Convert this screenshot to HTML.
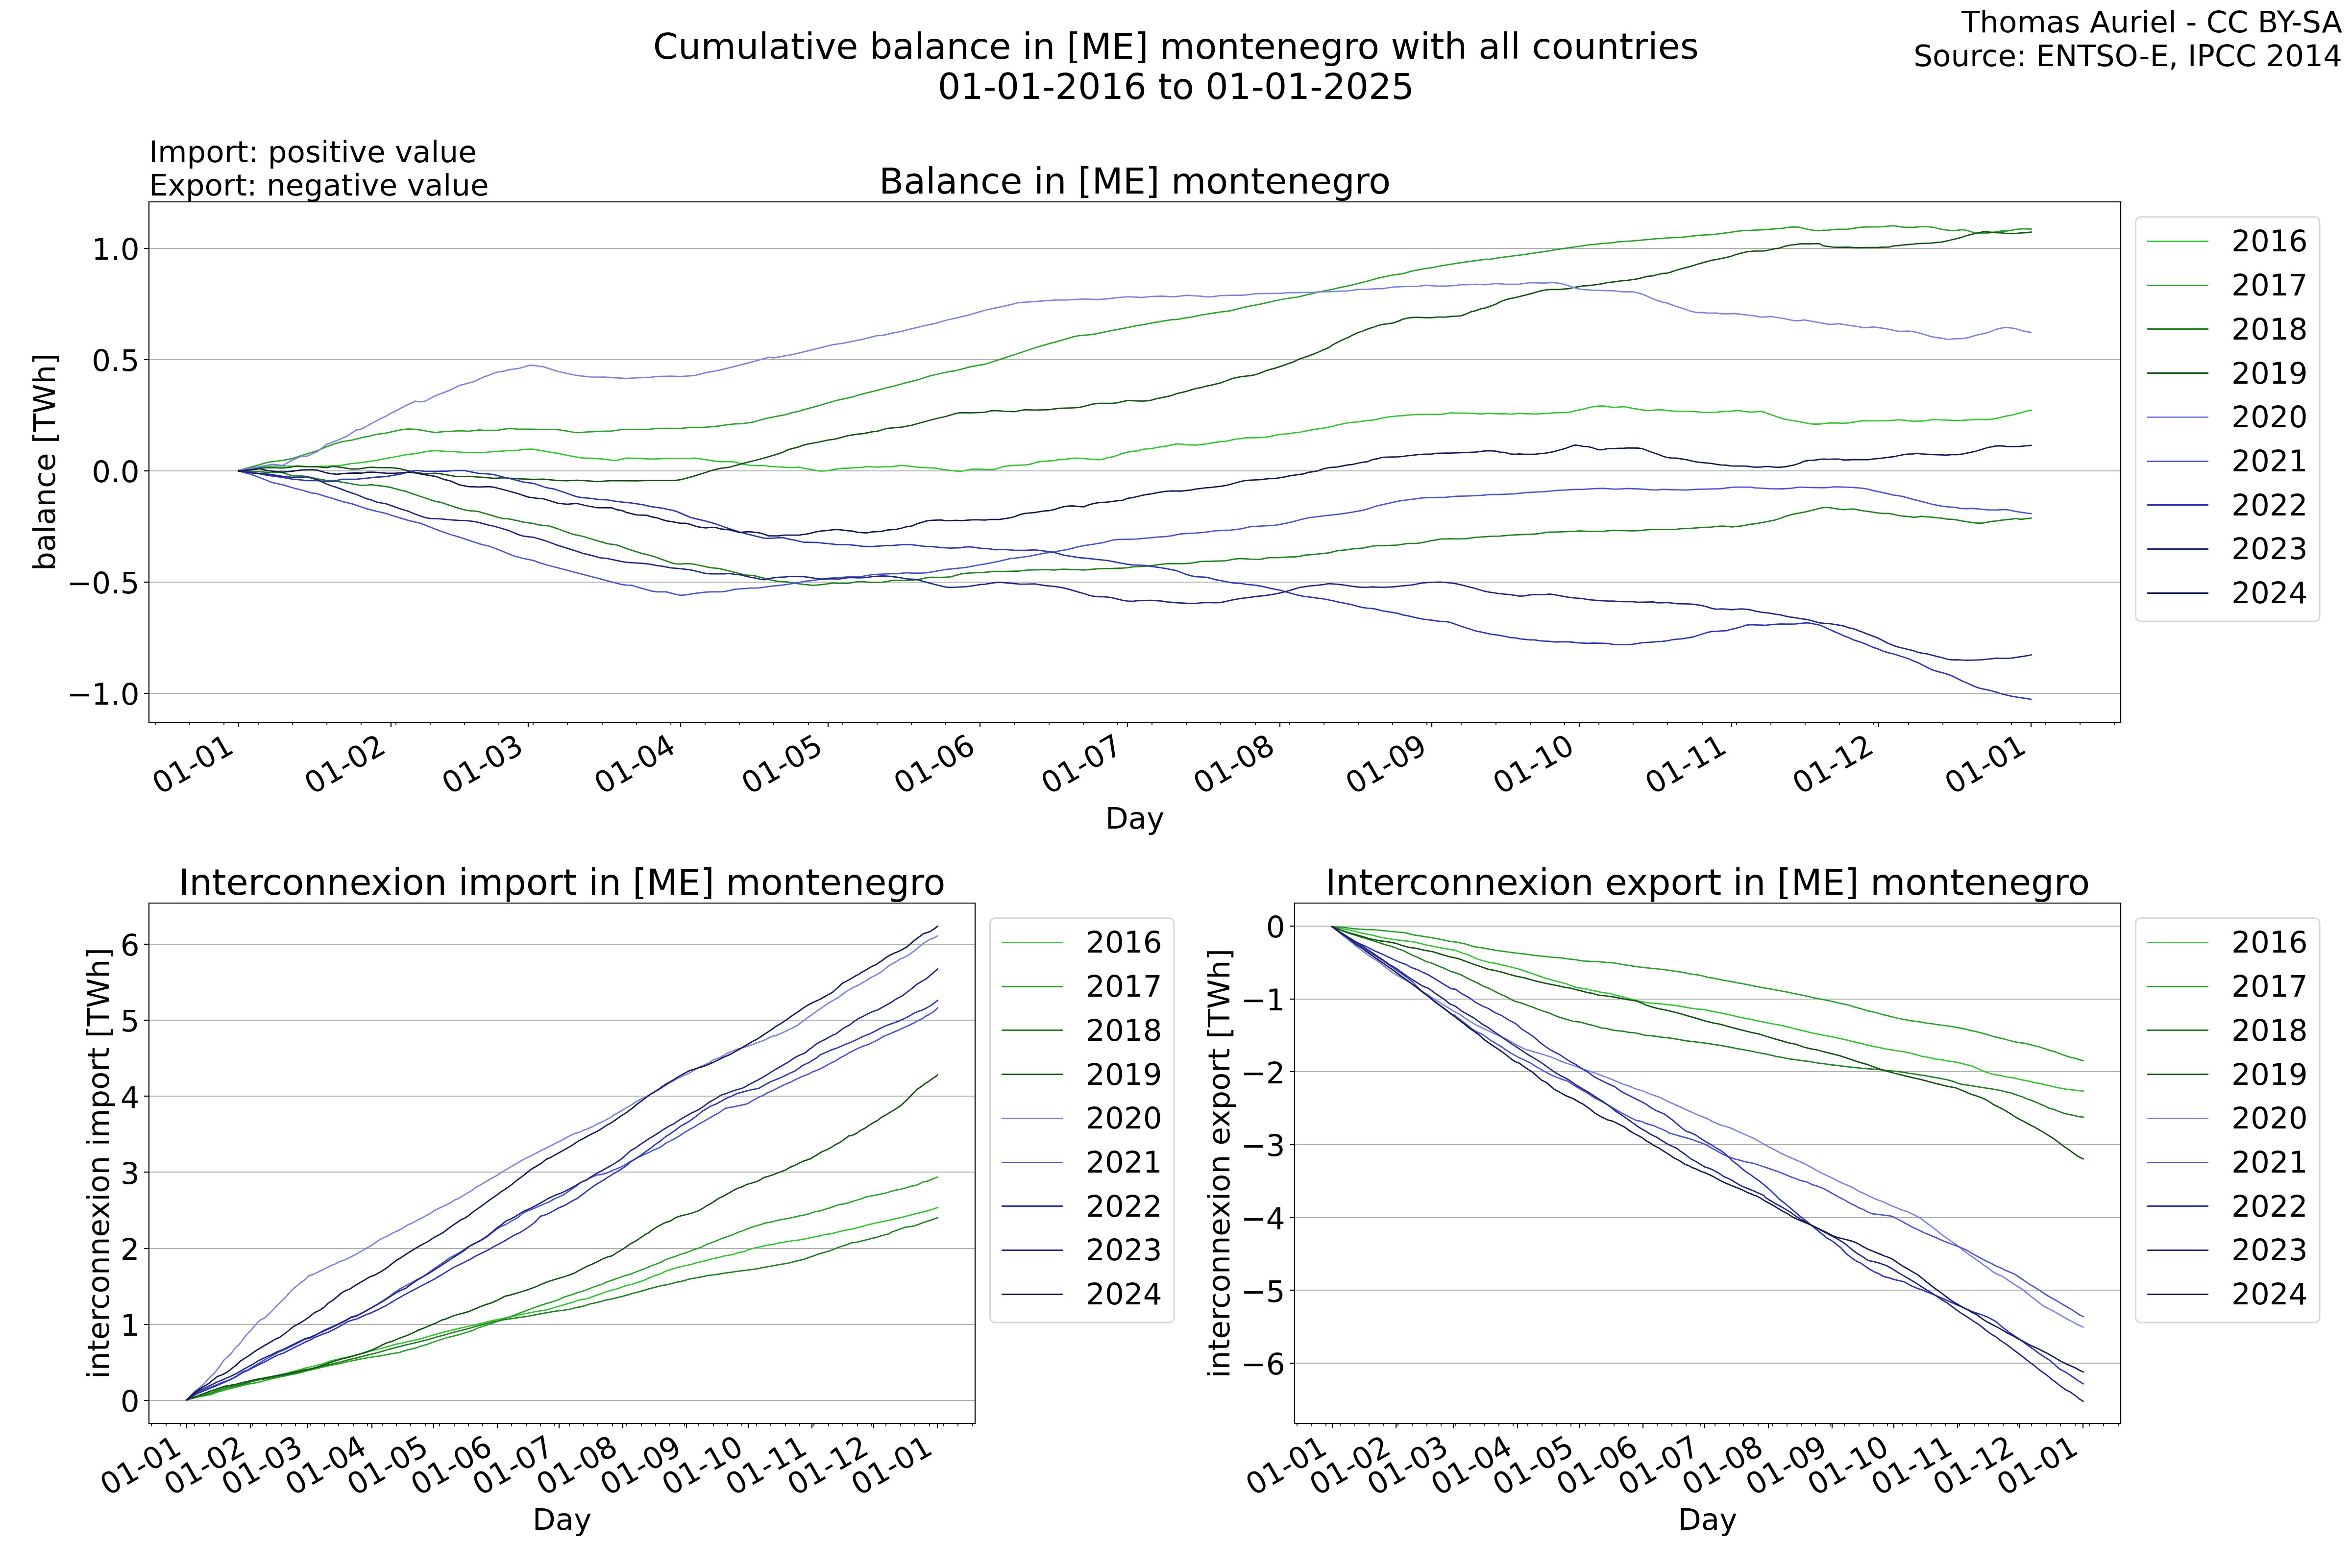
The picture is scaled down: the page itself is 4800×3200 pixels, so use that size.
<!DOCTYPE html>
<html lang="en">
<head>
<meta charset="utf-8">
<title>Cumulative balance in [ME] montenegro with all countries</title>
<style>
html,body{margin:0;padding:0;background:#fff;width:4800px;height:3200px;overflow:hidden}
svg{display:block;font-family:"DejaVu Sans","Liberation Sans",sans-serif}
</style>
</head>
<body>
<svg width="4800" height="3200" viewBox="0 0 1728 1152" style="display:block">
<defs>
<style type="text/css">*{stroke-linejoin: round; stroke-linecap: butt}</style>
</defs>
<g id="figure_1">
<g id="patch_1">
<path d="M 0 1152 L 1728 1152 L 1728 0 L 0 0 z" style="fill: #ffffff"/>
</g>
<g id="axes_1">
<g id="patch_2">
<path d="M 109.44 530.64 L 1558.08 530.64 L 1558.08 148.32 L 109.44 148.32 z" style="fill: #ffffff"/>
</g>
<g id="matplotlib.axis_1">
<g id="xtick_1">
<g id="line2d_1">
<g>
<path d="M 175.3200 530.6400 L 175.3200 534.2400" style="stroke: #000000; stroke-width: 0.8"/>
</g>
</g>
<g id="text_1">
<text style="font-size: 22px; font-family: 'DejaVu Sans', 'Liberation Sans', sans-serif" transform="translate(117.637048 584.080562) rotate(-30)">01-01</text>
</g>
</g>
<g id="xtick_2">
<g id="line2d_2">
<g>
<path d="M 287.2800 530.6400 L 287.2800 534.2400" style="stroke: #000000; stroke-width: 0.8"/>
</g>
</g>
<g id="text_2">
<text style="font-size: 22px; font-family: 'DejaVu Sans', 'Liberation Sans', sans-serif" transform="translate(229.48721 584.080562) rotate(-30)">01-02</text>
</g>
</g>
<g id="xtick_3">
<g id="line2d_3">
<g>
<path d="M 388.0800 530.6400 L 388.0800 534.2400" style="stroke: #000000; stroke-width: 0.8"/>
</g>
</g>
<g id="text_3">
<text style="font-size: 22px; font-family: 'DejaVu Sans', 'Liberation Sans', sans-serif" transform="translate(330.513163 584.080562) rotate(-30)">01-03</text>
</g>
</g>
<g id="xtick_4">
<g id="line2d_4">
<g>
<path d="M 500.0400 530.6400 L 500.0400 534.2400" style="stroke: #000000; stroke-width: 0.8"/>
</g>
</g>
<g id="text_4">
<text style="font-size: 22px; font-family: 'DejaVu Sans', 'Liberation Sans', sans-serif" transform="translate(442.363325 584.080562) rotate(-30)">01-04</text>
</g>
</g>
<g id="xtick_5">
<g id="line2d_5">
<g>
<path d="M 608.4000 530.6400 L 608.4000 534.2400" style="stroke: #000000; stroke-width: 0.8"/>
</g>
</g>
<g id="text_5">
<text style="font-size: 22px; font-family: 'DejaVu Sans', 'Liberation Sans', sans-serif" transform="translate(550.605417 584.080562) rotate(-30)">01-05</text>
</g>
</g>
<g id="xtick_6">
<g id="line2d_6">
<g>
<path d="M 720.0000 530.6400 L 720.0000 534.2400" style="stroke: #000000; stroke-width: 0.8"/>
</g>
</g>
<g id="text_6">
<text style="font-size: 22px; font-family: 'DejaVu Sans', 'Liberation Sans', sans-serif" transform="translate(662.455579 584.080562) rotate(-30)">01-06</text>
</g>
</g>
<g id="xtick_7">
<g id="line2d_7">
<g>
<path d="M 828.3600 530.6400 L 828.3600 534.2400" style="stroke: #000000; stroke-width: 0.8"/>
</g>
</g>
<g id="text_7">
<text style="font-size: 22px; font-family: 'DejaVu Sans', 'Liberation Sans', sans-serif" transform="translate(770.697671 584.080562) rotate(-30)">01-07</text>
</g>
</g>
<g id="xtick_8">
<g id="line2d_8">
<g>
<path d="M 940.3200 530.6400 L 940.3200 534.2400" style="stroke: #000000; stroke-width: 0.8"/>
</g>
</g>
<g id="text_8">
<text style="font-size: 22px; font-family: 'DejaVu Sans', 'Liberation Sans', sans-serif" transform="translate(882.547833 584.080562) rotate(-30)">01-08</text>
</g>
</g>
<g id="xtick_9">
<g id="line2d_9">
<g>
<path d="M 1051.9200 530.6400 L 1051.9200 534.2400" style="stroke: #000000; stroke-width: 0.8"/>
</g>
</g>
<g id="text_9">
<text style="font-size: 22px; font-family: 'DejaVu Sans', 'Liberation Sans', sans-serif" transform="translate(994.397995 584.080562) rotate(-30)">01-09</text>
</g>
</g>
<g id="xtick_10">
<g id="line2d_10">
<g>
<path d="M 1160.2800 530.6400 L 1160.2800 534.2400" style="stroke: #000000; stroke-width: 0.8"/>
</g>
</g>
<g id="text_10">
<text style="font-size: 22px; font-family: 'DejaVu Sans', 'Liberation Sans', sans-serif" transform="translate(1102.640087 584.080562) rotate(-30)">01-10</text>
</g>
</g>
<g id="xtick_11">
<g id="line2d_11">
<g>
<path d="M 1272.2400 530.6400 L 1272.2400 534.2400" style="stroke: #000000; stroke-width: 0.8"/>
</g>
</g>
<g id="text_11">
<text style="font-size: 22px; font-family: 'DejaVu Sans', 'Liberation Sans', sans-serif" transform="translate(1214.490249 584.080562) rotate(-30)">01-11</text>
</g>
</g>
<g id="xtick_12">
<g id="line2d_12">
<g>
<path d="M 1380.2400 530.6400 L 1380.2400 534.2400" style="stroke: #000000; stroke-width: 0.8"/>
</g>
</g>
<g id="text_12">
<text style="font-size: 22px; font-family: 'DejaVu Sans', 'Liberation Sans', sans-serif" transform="translate(1322.732341 584.080562) rotate(-30)">01-12</text>
</g>
</g>
<g id="xtick_13">
<g id="line2d_13">
<g>
<path d="M 1492.2000 530.6400 L 1492.2000 534.2400" style="stroke: #000000; stroke-width: 0.8"/>
</g>
</g>
<g id="text_13">
<text style="font-size: 22px; font-family: 'DejaVu Sans', 'Liberation Sans', sans-serif" transform="translate(1434.582503 584.080562) rotate(-30)">01-01</text>
</g>
</g>
<g id="xtick_14">
<g id="line2d_14">
<g>
<path d="M 114.1200 530.6400 L 114.1200 532.8000" style="stroke: #000000; stroke-width: 0.6"/>
</g>
</g>
</g>
<g id="xtick_15">
<g id="line2d_15">
<g>
<path d="M 139.3200 530.6400 L 139.3200 532.8000" style="stroke: #000000; stroke-width: 0.6"/>
</g>
</g>
</g>
<g id="xtick_16">
<g id="line2d_16">
<g>
<path d="M 164.5200 530.6400 L 164.5200 532.8000" style="stroke: #000000; stroke-width: 0.6"/>
</g>
</g>
</g>
<g id="xtick_17">
<g id="line2d_17">
<g>
<path d="M 189.7200 530.6400 L 189.7200 532.8000" style="stroke: #000000; stroke-width: 0.6"/>
</g>
</g>
</g>
<g id="xtick_18">
<g id="line2d_18">
<g>
<path d="M 214.9200 530.6400 L 214.9200 532.8000" style="stroke: #000000; stroke-width: 0.6"/>
</g>
</g>
</g>
<g id="xtick_19">
<g id="line2d_19">
<g>
<path d="M 240.1200 530.6400 L 240.1200 532.8000" style="stroke: #000000; stroke-width: 0.6"/>
</g>
</g>
</g>
<g id="xtick_20">
<g id="line2d_20">
<g>
<path d="M 265.3200 530.6400 L 265.3200 532.8000" style="stroke: #000000; stroke-width: 0.6"/>
</g>
</g>
</g>
<g id="xtick_21">
<g id="line2d_21">
<g>
<path d="M 290.8800 530.6400 L 290.8800 532.8000" style="stroke: #000000; stroke-width: 0.6"/>
</g>
</g>
</g>
<g id="xtick_22">
<g id="line2d_22">
<g>
<path d="M 316.0800 530.6400 L 316.0800 532.8000" style="stroke: #000000; stroke-width: 0.6"/>
</g>
</g>
</g>
<g id="xtick_23">
<g id="line2d_23">
<g>
<path d="M 341.2800 530.6400 L 341.2800 532.8000" style="stroke: #000000; stroke-width: 0.6"/>
</g>
</g>
</g>
<g id="xtick_24">
<g id="line2d_24">
<g>
<path d="M 366.4800 530.6400 L 366.4800 532.8000" style="stroke: #000000; stroke-width: 0.6"/>
</g>
</g>
</g>
<g id="xtick_25">
<g id="line2d_25">
<g>
<path d="M 391.6800 530.6400 L 391.6800 532.8000" style="stroke: #000000; stroke-width: 0.6"/>
</g>
</g>
</g>
<g id="xtick_26">
<g id="line2d_26">
<g>
<path d="M 416.8800 530.6400 L 416.8800 532.8000" style="stroke: #000000; stroke-width: 0.6"/>
</g>
</g>
</g>
<g id="xtick_27">
<g id="line2d_27">
<g>
<path d="M 442.4400 530.6400 L 442.4400 532.8000" style="stroke: #000000; stroke-width: 0.6"/>
</g>
</g>
</g>
<g id="xtick_28">
<g id="line2d_28">
<g>
<path d="M 467.6400 530.6400 L 467.6400 532.8000" style="stroke: #000000; stroke-width: 0.6"/>
</g>
</g>
</g>
<g id="xtick_29">
<g id="line2d_29">
<g>
<path d="M 492.8400 530.6400 L 492.8400 532.8000" style="stroke: #000000; stroke-width: 0.6"/>
</g>
</g>
</g>
<g id="xtick_30">
<g id="line2d_30">
<g>
<path d="M 518.0400 530.6400 L 518.0400 532.8000" style="stroke: #000000; stroke-width: 0.6"/>
</g>
</g>
</g>
<g id="xtick_31">
<g id="line2d_31">
<g>
<path d="M 543.2400 530.6400 L 543.2400 532.8000" style="stroke: #000000; stroke-width: 0.6"/>
</g>
</g>
</g>
<g id="xtick_32">
<g id="line2d_32">
<g>
<path d="M 568.4400 530.6400 L 568.4400 532.8000" style="stroke: #000000; stroke-width: 0.6"/>
</g>
</g>
</g>
<g id="xtick_33">
<g id="line2d_33">
<g>
<path d="M 594.0000 530.6400 L 594.0000 532.8000" style="stroke: #000000; stroke-width: 0.6"/>
</g>
</g>
</g>
<g id="xtick_34">
<g id="line2d_34">
<g>
<path d="M 619.2000 530.6400 L 619.2000 532.8000" style="stroke: #000000; stroke-width: 0.6"/>
</g>
</g>
</g>
<g id="xtick_35">
<g id="line2d_35">
<g>
<path d="M 644.4000 530.6400 L 644.4000 532.8000" style="stroke: #000000; stroke-width: 0.6"/>
</g>
</g>
</g>
<g id="xtick_36">
<g id="line2d_36">
<g>
<path d="M 669.6000 530.6400 L 669.6000 532.8000" style="stroke: #000000; stroke-width: 0.6"/>
</g>
</g>
</g>
<g id="xtick_37">
<g id="line2d_37">
<g>
<path d="M 694.8000 530.6400 L 694.8000 532.8000" style="stroke: #000000; stroke-width: 0.6"/>
</g>
</g>
</g>
<g id="xtick_38">
<g id="line2d_38">
<g>
<path d="M 745.2000 530.6400 L 745.2000 532.8000" style="stroke: #000000; stroke-width: 0.6"/>
</g>
</g>
</g>
<g id="xtick_39">
<g id="line2d_39">
<g>
<path d="M 770.7600 530.6400 L 770.7600 532.8000" style="stroke: #000000; stroke-width: 0.6"/>
</g>
</g>
</g>
<g id="xtick_40">
<g id="line2d_40">
<g>
<path d="M 795.9600 530.6400 L 795.9600 532.8000" style="stroke: #000000; stroke-width: 0.6"/>
</g>
</g>
</g>
<g id="xtick_41">
<g id="line2d_41">
<g>
<path d="M 821.1600 530.6400 L 821.1600 532.8000" style="stroke: #000000; stroke-width: 0.6"/>
</g>
</g>
</g>
<g id="xtick_42">
<g id="line2d_42">
<g>
<path d="M 846.3600 530.6400 L 846.3600 532.8000" style="stroke: #000000; stroke-width: 0.6"/>
</g>
</g>
</g>
<g id="xtick_43">
<g id="line2d_43">
<g>
<path d="M 871.5600 530.6400 L 871.5600 532.8000" style="stroke: #000000; stroke-width: 0.6"/>
</g>
</g>
</g>
<g id="xtick_44">
<g id="line2d_44">
<g>
<path d="M 896.7600 530.6400 L 896.7600 532.8000" style="stroke: #000000; stroke-width: 0.6"/>
</g>
</g>
</g>
<g id="xtick_45">
<g id="line2d_45">
<g>
<path d="M 922.3200 530.6400 L 922.3200 532.8000" style="stroke: #000000; stroke-width: 0.6"/>
</g>
</g>
</g>
<g id="xtick_46">
<g id="line2d_46">
<g>
<path d="M 947.5200 530.6400 L 947.5200 532.8000" style="stroke: #000000; stroke-width: 0.6"/>
</g>
</g>
</g>
<g id="xtick_47">
<g id="line2d_47">
<g>
<path d="M 972.7200 530.6400 L 972.7200 532.8000" style="stroke: #000000; stroke-width: 0.6"/>
</g>
</g>
</g>
<g id="xtick_48">
<g id="line2d_48">
<g>
<path d="M 997.9200 530.6400 L 997.9200 532.8000" style="stroke: #000000; stroke-width: 0.6"/>
</g>
</g>
</g>
<g id="xtick_49">
<g id="line2d_49">
<g>
<path d="M 1023.1200 530.6400 L 1023.1200 532.8000" style="stroke: #000000; stroke-width: 0.6"/>
</g>
</g>
</g>
<g id="xtick_50">
<g id="line2d_50">
<g>
<path d="M 1048.3200 530.6400 L 1048.3200 532.8000" style="stroke: #000000; stroke-width: 0.6"/>
</g>
</g>
</g>
<g id="xtick_51">
<g id="line2d_51">
<g>
<path d="M 1073.5200 530.6400 L 1073.5200 532.8000" style="stroke: #000000; stroke-width: 0.6"/>
</g>
</g>
</g>
<g id="xtick_52">
<g id="line2d_52">
<g>
<path d="M 1099.0800 530.6400 L 1099.0800 532.8000" style="stroke: #000000; stroke-width: 0.6"/>
</g>
</g>
</g>
<g id="xtick_53">
<g id="line2d_53">
<g>
<path d="M 1124.2800 530.6400 L 1124.2800 532.8000" style="stroke: #000000; stroke-width: 0.6"/>
</g>
</g>
</g>
<g id="xtick_54">
<g id="line2d_54">
<g>
<path d="M 1149.4800 530.6400 L 1149.4800 532.8000" style="stroke: #000000; stroke-width: 0.6"/>
</g>
</g>
</g>
<g id="xtick_55">
<g id="line2d_55">
<g>
<path d="M 1174.6800 530.6400 L 1174.6800 532.8000" style="stroke: #000000; stroke-width: 0.6"/>
</g>
</g>
</g>
<g id="xtick_56">
<g id="line2d_56">
<g>
<path d="M 1199.8800 530.6400 L 1199.8800 532.8000" style="stroke: #000000; stroke-width: 0.6"/>
</g>
</g>
</g>
<g id="xtick_57">
<g id="line2d_57">
<g>
<path d="M 1225.0800 530.6400 L 1225.0800 532.8000" style="stroke: #000000; stroke-width: 0.6"/>
</g>
</g>
</g>
<g id="xtick_58">
<g id="line2d_58">
<g>
<path d="M 1250.6400 530.6400 L 1250.6400 532.8000" style="stroke: #000000; stroke-width: 0.6"/>
</g>
</g>
</g>
<g id="xtick_59">
<g id="line2d_59">
<g>
<path d="M 1275.8400 530.6400 L 1275.8400 532.8000" style="stroke: #000000; stroke-width: 0.6"/>
</g>
</g>
</g>
<g id="xtick_60">
<g id="line2d_60">
<g>
<path d="M 1301.0400 530.6400 L 1301.0400 532.8000" style="stroke: #000000; stroke-width: 0.6"/>
</g>
</g>
</g>
<g id="xtick_61">
<g id="line2d_61">
<g>
<path d="M 1326.2400 530.6400 L 1326.2400 532.8000" style="stroke: #000000; stroke-width: 0.6"/>
</g>
</g>
</g>
<g id="xtick_62">
<g id="line2d_62">
<g>
<path d="M 1351.4400 530.6400 L 1351.4400 532.8000" style="stroke: #000000; stroke-width: 0.6"/>
</g>
</g>
</g>
<g id="xtick_63">
<g id="line2d_63">
<g>
<path d="M 1376.6400 530.6400 L 1376.6400 532.8000" style="stroke: #000000; stroke-width: 0.6"/>
</g>
</g>
</g>
<g id="xtick_64">
<g id="line2d_64">
<g>
<path d="M 1402.2000 530.6400 L 1402.2000 532.8000" style="stroke: #000000; stroke-width: 0.6"/>
</g>
</g>
</g>
<g id="xtick_65">
<g id="line2d_65">
<g>
<path d="M 1427.4000 530.6400 L 1427.4000 532.8000" style="stroke: #000000; stroke-width: 0.6"/>
</g>
</g>
</g>
<g id="xtick_66">
<g id="line2d_66">
<g>
<path d="M 1452.6000 530.6400 L 1452.6000 532.8000" style="stroke: #000000; stroke-width: 0.6"/>
</g>
</g>
</g>
<g id="xtick_67">
<g id="line2d_67">
<g>
<path d="M 1477.8000 530.6400 L 1477.8000 532.8000" style="stroke: #000000; stroke-width: 0.6"/>
</g>
</g>
</g>
<g id="xtick_68">
<g id="line2d_68">
<g>
<path d="M 1503.0000 530.6400 L 1503.0000 532.8000" style="stroke: #000000; stroke-width: 0.6"/>
</g>
</g>
</g>
<g id="xtick_69">
<g id="line2d_69">
<g>
<path d="M 1528.2000 530.6400 L 1528.2000 532.8000" style="stroke: #000000; stroke-width: 0.6"/>
</g>
</g>
</g>
<g id="xtick_70">
<g id="line2d_70">
<g>
<path d="M 1553.4000 530.6400 L 1553.4000 532.8000" style="stroke: #000000; stroke-width: 0.6"/>
</g>
</g>
</g>
<g id="text_14">
<text style="font-size: 22px; font-family: 'DejaVu Sans', 'Liberation Sans', sans-serif; text-anchor: middle" x="833.76" y="608.759461" transform="rotate(-0 833.76 608.759461)">Day</text>
</g>
</g>
<g id="matplotlib.axis_2">
<g id="ytick_1">
<g id="line2d_71">
<path d="M 109.4400 509.4000 L 1558.0800 509.4000" clip-path="url(#pe331e6150c)" style="fill: none; stroke: #b0b0b0; stroke-width: 0.8; stroke-linecap: square"/>
</g>
<g id="line2d_72">
<g>
<path d="M 109.4400 509.4000 L 105.8400 509.4000" style="stroke: #000000; stroke-width: 0.8"/>
</g>
</g>
<g id="text_15">
<text style="font-size: 22px; font-family: 'DejaVu Sans', 'Liberation Sans', sans-serif; text-anchor: end" x="102.44" y="517.758281" transform="rotate(-0 102.44 517.758281)">−1.0</text>
</g>
</g>
<g id="ytick_2">
<g id="line2d_73">
<path d="M 109.4400 427.6800 L 1558.0800 427.6800" clip-path="url(#pe331e6150c)" style="fill: none; stroke: #b0b0b0; stroke-width: 0.8; stroke-linecap: square"/>
</g>
<g id="line2d_74">
<g>
<path d="M 109.4400 427.6800 L 105.8400 427.6800" style="stroke: #000000; stroke-width: 0.8"/>
</g>
</g>
<g id="text_16">
<text style="font-size: 22px; font-family: 'DejaVu Sans', 'Liberation Sans', sans-serif; text-anchor: end" x="102.44" y="436.038281" transform="rotate(-0 102.44 436.038281)">−0.5</text>
</g>
</g>
<g id="ytick_3">
<g id="line2d_75">
<path d="M 109.4400 345.9600 L 1558.0800 345.9600" clip-path="url(#pe331e6150c)" style="fill: none; stroke: #b0b0b0; stroke-width: 0.8; stroke-linecap: square"/>
</g>
<g id="line2d_76">
<g>
<path d="M 109.4400 345.9600 L 105.8400 345.9600" style="stroke: #000000; stroke-width: 0.8"/>
</g>
</g>
<g id="text_17">
<text style="font-size: 22px; font-family: 'DejaVu Sans', 'Liberation Sans', sans-serif; text-anchor: end" x="102.44" y="354.318281" transform="rotate(-0 102.44 354.318281)">0.0</text>
</g>
</g>
<g id="ytick_4">
<g id="line2d_77">
<path d="M 109.4400 264.2400 L 1558.0800 264.2400" clip-path="url(#pe331e6150c)" style="fill: none; stroke: #b0b0b0; stroke-width: 0.8; stroke-linecap: square"/>
</g>
<g id="line2d_78">
<g>
<path d="M 109.4400 264.2400 L 105.8400 264.2400" style="stroke: #000000; stroke-width: 0.8"/>
</g>
</g>
<g id="text_18">
<text style="font-size: 22px; font-family: 'DejaVu Sans', 'Liberation Sans', sans-serif; text-anchor: end" x="102.44" y="272.598281" transform="rotate(-0 102.44 272.598281)">0.5</text>
</g>
</g>
<g id="ytick_5">
<g id="line2d_79">
<path d="M 109.4400 182.5200 L 1558.0800 182.5200" clip-path="url(#pe331e6150c)" style="fill: none; stroke: #b0b0b0; stroke-width: 0.8; stroke-linecap: square"/>
</g>
<g id="line2d_80">
<g>
<path d="M 109.4400 182.5200 L 105.8400 182.5200" style="stroke: #000000; stroke-width: 0.8"/>
</g>
</g>
<g id="text_19">
<text style="font-size: 22px; font-family: 'DejaVu Sans', 'Liberation Sans', sans-serif; text-anchor: end" x="102.44" y="190.878281" transform="rotate(-0 102.44 190.878281)">1.0</text>
</g>
</g>
<g id="text_20">
<text style="font-size: 22px; font-family: 'DejaVu Sans', 'Liberation Sans', sans-serif; text-anchor: middle" x="40.4425" y="339.48" transform="rotate(-90 40.4425 339.48)">balance [TWh]</text>
</g>
</g>
<g id="line2d_81">
<path d="M 175.287273 345.650542 L 185.044898 343.813784 L 197.289796 342.589279 L 207.697959 342.344378 L 215.044898 342.589279 L 221.779592 342.956631 L 232.8 342.711729 L 240.146939 342.466828 L 249.330612 342.099477 L 258.514286 340.50762 L 262.187755 340.262719 L 269.534694 339.283114 L 276.881633 338.181059 L 283.616327 336.834103 L 290.35102 335.609598 L 300.146939 333.77284 L 305.044898 333.283038 L 309.942857 332.303433 L 316.065306 331.323829 L 320.35102 331.078928 L 327.085714 331.56873 L 331.983673 331.691181 L 341.167347 332.425884 L 352.187755 332.548334 L 355.861224 332.425884 L 362.595918 331.813631 L 373.616327 331.078928 L 380.963265 330.834027 L 386.473469 330.099324 L 391.371429 329.976873 L 399.330612 331.323829 L 406.065306 332.548334 L 409.738776 333.038137 L 416.473469 334.507543 L 423.820408 335.854499 L 428.106122 336.466752 L 436.065306 336.711653 L 442.187755 337.201455 L 449.534694 338.058609 L 453.085714 338.179592 L 460.432653 336.563265 L 467.779592 336.710204 L 478.8 337.297959 L 482.473469 337.15102 L 489.820408 336.710204 L 503.779592 336.857143 L 511.126531 336.563265 L 518.473469 337.738776 L 525.820408 338.914286 L 529.493878 339.208163 L 536.106122 339.061224 L 539.779592 339.502041 L 547.126531 341.265306 L 550.8 341.853061 L 557.412245 342.146939 L 561.085714 342 L 564.759184 342.587755 L 569.167347 342.881633 L 579.453061 343.469388 L 583.126531 343.469388 L 586.8 343.17551 L 590.473469 344.057143 L 594.146939 344.644898 L 601.493878 345.967347 L 604.432653 346.114286 L 608.106122 345.820408 L 611.779592 345.085714 L 619.126531 344.057143 L 622.8 344.057143 L 633.820408 343.322449 L 636.759184 342.734694 L 644.106122 343.17551 L 647.779592 343.028571 L 655.126531 342.881633 L 662.473469 341.853061 L 669.820408 342.734694 L 677.167347 343.469388 L 687.453061 343.910204 L 691.126531 344.644898 L 698.473469 345.673469 L 705.820408 346.408163 L 713.167347 344.791837 L 720.514286 344.791837 L 727.126531 345.085714 L 730.8 344.791837 L 738.146939 342.587755 L 745.493878 341.853061 L 752.840816 341.559184 L 756.514286 341.118367 L 763.861224 339.061224 L 774.881633 338.326531 L 777.820408 337.738776 L 781.420408 337.591837 L 788.767347 336.563265 L 795.379592 336.710204 L 799.053061 337.15102 L 806.4 337.738776 L 810.073469 337.444898 L 813.746939 336.269388 L 817.420408 335.681633 L 821.093878 334.506122 L 824.767347 333.183673 L 828.440816 332.155102 L 832.114286 331.567347 L 835.787755 331.273469 L 838.726531 330.244898 L 842.4 329.804082 L 846.073469 329.510204 L 853.420408 328.187755 L 857.093878 327.746939 L 864.440816 326.130612 L 868.114286 326.277551 L 871.787755 326.865306 L 878.4 327.012245 L 886.481633 326.130612 L 896.767347 324.367347 L 900.440816 324.220408 L 907.787755 322.604082 L 911.461224 322.310204 L 915.134694 321.57551 L 918.808163 321.722449 L 926.155102 321.428571 L 929.828571 321.134694 L 932.032653 320.840816 L 936.440816 319.959184 L 940.114286 319.077551 L 947.461224 318.636735 L 951.134694 317.902041 L 954.808163 317.608163 L 958.481633 316.873469 L 965.093878 315.55102 L 972.440816 314.522449 L 979.053061 313.2 L 982.726531 312.171429 L 990.073469 310.702041 L 993.746939 310.261224 L 997.420408 309.967347 L 1004.767347 308.938776 L 1008.440816 308.644898 L 1012.114286 307.910204 L 1015.787755 307.028571 L 1019.461224 306.440816 L 1026.808163 305.559184 L 1030.481633 305.412245 L 1034.155102 304.971429 L 1037.828571 304.82449 L 1041.502041 304.383673 L 1045.17551 304.530612 L 1051.787755 304.383673 L 1055.461224 304.530612 L 1058.4 304.383673 L 1062.073469 303.942857 L 1065.746939 303.355102 L 1069.420408 303.502041 L 1076.767347 303.502041 L 1084.114286 303.795918 L 1087.787755 304.236735 L 1091.461224 303.795918 L 1095.134694 303.795918 L 1101.746939 304.089796 L 1105.420408 303.942857 L 1109.755102 304.236735 L 1112.693878 304.089796 L 1116.367347 303.64898 L 1120.040816 303.942857 L 1123.714286 303.942857 L 1127.387755 304.236735 L 1131.061224 304.089796 L 1134.734694 303.795918 L 1138.408163 303.64898 L 1142.081633 303.208163 L 1149.428571 303.061224 L 1153.102041 302.914286 L 1156.040816 302.179592 L 1159.714286 301.297959 L 1163.387755 300.563265 L 1167.061224 299.534694 L 1170 298.946939 L 1173.673469 298.359184 L 1177.346939 298.212245 L 1181.020408 298.653061 L 1185.428571 299.387755 L 1189.102041 299.093878 L 1192.77551 298.8 L 1195.714286 299.240816 L 1199.387755 299.97551 L 1203.061224 300.563265 L 1206.734694 301.15102 L 1210.408163 301.591837 L 1214.081633 301.444898 L 1217.755102 301.004082 L 1221.428571 301.15102 L 1224.367347 301.444898 L 1228.77551 302.032653 L 1231.714286 302.179592 L 1239.061224 302.179592 L 1242.734694 302.326531 L 1246.408163 302.473469 L 1250.081633 302.914286 L 1253.755102 303.061224 L 1257.428571 302.914286 L 1261.102041 302.767347 L 1267.714286 302.179592 L 1271.387755 302.179592 L 1275.061224 301.738776 L 1278.734694 301.738776 L 1282.408163 302.326531 L 1286.081633 302.767347 L 1289.020408 302.620408 L 1293.428571 302.179592 L 1296.367347 302.914286 L 1300.040816 304.236735 L 1303.714286 305.559184 L 1306.653061 306.587755 L 1310.326531 307.763265 L 1312.530612 308.204082 L 1318.408163 309.232653 L 1322.081633 309.820408 L 1325.755102 310.555102 L 1329.428571 311.289796 L 1332.367347 311.583673 L 1336.040816 311.583673 L 1339.714286 311.289796 L 1343.387755 310.84898 L 1347.061224 310.702041 L 1350.734694 310.84898 L 1354.408163 310.995918 L 1358.081633 310.702041 L 1361.755102 310.114286 L 1365.428571 309.673469 L 1369.102041 309.085714 L 1376.44898 309.232653 L 1383.061224 309.085714 L 1387.469388 309.085714 L 1391.142857 308.791837 L 1394.816327 308.35102 L 1398.489796 308.644898 L 1402.163265 309.085714 L 1405.836735 309.526531 L 1408.040816 309.379592 L 1411.714286 309.379592 L 1415.387755 309.085714 L 1419.061224 308.35102 L 1422.734694 308.35102 L 1430.081633 308.644898 L 1436.693878 308.938776 L 1441.157143 308.970918 L 1444.738776 308.553061 L 1448.320408 308.493367 L 1452.49898 308.135204 L 1456.080612 308.194898 L 1459.662245 308.254592 L 1463.243878 308.015816 L 1466.82551 307.29949 L 1470.407143 306.463776 L 1473.988776 305.687755 L 1477.570408 305.090816 L 1481.152041 304.195408 L 1484.733673 303.180612 L 1488.315306 302.22551 L 1492.232727 301.330102" clip-path="url(#pe331e6150c)" style="fill: none; stroke: #33c433; stroke-linecap: square"/>
</g>
<g id="line2d_82">
<path d="M 175.287273 345.650542 L 185.044898 342.956631 L 197.289796 339.528015 L 207.697959 338.30351 L 215.044898 336.834103 L 221.779592 334.629994 L 232.8 331.201378 L 240.146939 328.140115 L 245.044898 326.303357 L 251.167347 324.466599 L 258.514286 323.364544 L 265.861224 321.527786 L 272.595918 320.18083 L 276.269388 319.201225 L 283.616327 318.221621 L 290.35102 316.629764 L 295.24898 315.65016 L 300.146939 315.160357 L 305.044898 315.405258 L 309.942857 316.017511 L 314.840816 316.997116 L 319.738776 317.731819 L 327.085714 316.997116 L 331.983673 316.874665 L 337.493878 316.507313 L 344.228571 316.874665 L 352.187755 315.895061 L 355.861224 316.262412 L 366.269388 316.017511 L 369.942857 315.282808 L 374.228571 314.793006 L 380.963265 315.282808 L 391.983673 315.282808 L 399.330612 315.65016 L 406.677551 315.405258 L 409.738776 315.65016 L 416.473469 316.629764 L 421.371429 317.609368 L 425.044898 317.854269 L 431.167347 317.364467 L 442.187755 316.874665 L 449.534694 316.629764 L 456.759184 315.55102 L 470.718367 315.404082 L 475.126531 315.55102 L 482.473469 314.816327 L 489.820408 314.669388 L 500.106122 314.816327 L 507.453061 313.934694 L 514.8 314.081633 L 522.146939 313.640816 L 528.759184 312.906122 L 534.636735 312.02449 L 539.779592 311.436735 L 545.657143 311.289796 L 553.738776 309.967347 L 563.289796 307.322449 L 572.106122 305.559184 L 576.514286 304.82449 L 583.126531 302.914286 L 586.8 302.179592 L 590.473469 301.004082 L 601.493878 298.065306 L 606.636735 296.44898 L 615.453061 293.95102 L 622.8 292.481633 L 626.473469 291.6 L 633.820408 289.395918 L 644.106122 286.897959 L 651.453061 284.840816 L 655.126531 284.106122 L 662.473469 282.04898 L 673.493878 279.257143 L 683.779592 276.02449 L 691.126531 274.408163 L 698.473469 272.791837 L 702.146939 272.35102 L 713.167347 269.412245 L 723.453061 267.64898 L 734.473469 264.122449 L 748.432653 259.567347 L 760.187755 255.6 L 767.534694 253.395918 L 777.820408 250.604082 L 784.359184 248.693878 L 788.767347 247.371429 L 792.440816 246.636735 L 799.787755 246.04898 L 805.665306 245.167347 L 813.012245 243.55102 L 821.093878 242.081633 L 827.706122 240.759184 L 835.053061 239.289796 L 838.726531 238.702041 L 846.073469 237.379592 L 849.746939 236.644898 L 857.093878 235.469388 L 860.767347 234.881633 L 864.440816 234.734694 L 871.787755 233.412245 L 875.461224 232.971429 L 882.073469 231.502041 L 889.420408 230.326531 L 896.767347 229.15102 L 900.440816 228.857143 L 904.114286 228.269388 L 907.787755 227.387755 L 911.461224 226.359184 L 915.134694 225.477551 L 918.808163 224.742857 L 926.155102 223.420408 L 935.706122 221.216327 L 943.787755 219.6 L 954.073469 218.130612 L 961.420408 216.220408 L 968.767347 214.604082 L 979.053061 212.546939 L 982.726531 211.665306 L 993.746939 209.314286 L 1004.767347 206.522449 L 1012.114286 204.465306 L 1023.134694 202.114286 L 1030.481633 201.085714 L 1037.828571 199.028571 L 1048.114286 197.118367 L 1051.787755 196.677551 L 1058.4 195.355102 L 1065.746939 194.179592 L 1073.093878 193.004082 L 1080.440816 191.97551 L 1091.461224 190.506122 L 1095.134694 190.359184 L 1101.746939 189.330612 L 1120.040816 186.979592 L 1134.734694 184.77551 L 1148.693878 182.571429 L 1156.040816 181.542857 L 1166.326531 180.073469 L 1177.346939 178.897959 L 1184.693878 178.310204 L 1188.367347 177.722449 L 1192.040816 177.428571 L 1199.387755 176.987755 L 1209.673469 176.106122 L 1217.020408 175.371429 L 1224.367347 174.930612 L 1228.040816 174.636735 L 1235.387755 174.342857 L 1242.734694 173.461224 L 1250.081633 172.726531 L 1257.428571 172.432653 L 1261.102041 171.991837 L 1267.714286 171.110204 L 1271.387755 170.669388 L 1275.061224 170.081633 L 1278.734694 169.640816 L 1282.408163 169.346939 L 1285.346939 169.346939 L 1289.020408 169.053061 L 1296.367347 168.759184 L 1303.714286 168.171429 L 1306.653061 168.02449 L 1310.326531 167.583673 L 1315.469388 166.84898 L 1318.408163 166.702041 L 1322.081633 166.995918 L 1325.755102 167.877551 L 1328.693878 168.612245 L 1332.367347 169.2 L 1336.040816 169.493878 L 1339.714286 169.2 L 1343.387755 169.053061 L 1347.061224 168.612245 L 1350.734694 168.465306 L 1358.081633 168.318367 L 1361.755102 167.730612 L 1365.428571 167.142857 L 1369.102041 166.84898 L 1372.77551 166.702041 L 1379.387755 166.702041 L 1383.061224 166.555102 L 1386 166.261224 L 1391.142857 165.820408 L 1394.816327 166.408163 L 1398.489796 166.995918 L 1405.836735 166.995918 L 1411.714286 166.555102 L 1415.387755 166.555102 L 1419.061224 166.84898 L 1422.734694 167.583673 L 1426.408163 168.465306 L 1429.346939 168.906122 L 1434.489796 169.493878 L 1438.163265 169.2 L 1441.754082 168.727041 L 1444.738776 169.204592 L 1447.723469 170.159694 L 1450.708163 170.995408 L 1453.095918 171.472959 L 1456.080612 171.652041 L 1459.065306 171.353571 L 1462.646939 170.935714 L 1466.228571 170.338776 L 1470.108673 169.741837 L 1473.988776 169.741837 L 1477.570408 169.204592 L 1481.152041 168.547959 L 1484.733673 168.130102 L 1488.912245 168.189796 L 1492.232727 168.309184" clip-path="url(#pe331e6150c)" style="fill: none; stroke: #28a228; stroke-linecap: square"/>
</g>
<g id="line2d_83">
<path d="M 175.287273 345.650542 L 185.044898 346.262795 L 197.289796 347.119949 L 207.697959 347.242399 L 215.044898 349.69141 L 221.779592 349.69141 L 225.453061 350.181213 L 232.8 351.77307 L 240.146939 352.997575 L 243.820408 353.120026 L 251.167347 354.22208 L 258.514286 355.446586 L 265.24898 356.671091 L 269.534694 356.42619 L 272.595918 356.058839 L 276.881633 356.671091 L 283.616327 357.405795 L 287.289796 358.140498 L 294.02449 360.099706 L 297.697959 360.83441 L 305.044898 363.405871 L 312.391837 365.854882 L 319.738776 368.303893 L 323.412245 368.916146 L 330.759184 371.365156 L 337.493878 373.569266 L 341.167347 374.54887 L 344.840816 375.283574 L 348.514286 375.406024 L 352.187755 376.018277 L 358.922449 377.977486 L 366.269388 380.181595 L 369.942857 381.038749 L 373.616327 381.1612 L 380.963265 382.753057 L 384.636735 383.610211 L 391.983673 384.589815 L 395.657143 385.569419 L 399.330612 386.059221 L 403.004082 386.304123 L 409.738776 388.508232 L 416.473469 390.957243 L 420.759184 392.42665 L 428.106122 394.018507 L 434.840816 396.100166 L 442.187755 398.304276 L 442.8 398.277551 L 445.738776 399.379592 L 453.085714 400.334694 L 460.432653 403.053061 L 471.453061 406.579592 L 478.8 408.342857 L 486.146939 410.914286 L 493.493878 413.559184 L 496.432653 414.220408 L 500.106122 414.440816 L 503.779592 414.073469 L 507.453061 414.220408 L 511.126531 414.808163 L 518.473469 416.277551 L 521.412245 417.012245 L 528.759184 417.746939 L 536.106122 419.583673 L 539.779592 420.538776 L 547.126531 422.37551 L 553.738776 422.889796 L 561.820408 424.946939 L 567.697959 426.416327 L 572.106122 427.15102 L 578.718367 427.518367 L 586.065306 428.767347 L 593.412245 429.64898 L 597.085714 430.089796 L 601.493878 429.722449 L 608.106122 428.987755 L 611.779592 428.253061 L 615.085714 428.546939 L 622.579592 428.620408 L 629.559184 427.444898 L 633.232653 427.297959 L 640.579592 428.032653 L 647.926531 427.812245 L 651.6 427.297959 L 655.273469 426.416327 L 666.293878 426.416327 L 674.37551 425.828571 L 680.253061 424.579592 L 683.926531 424.138776 L 691.273469 424.212245 L 698.253061 423.844898 L 705.6 421.787755 L 708.906122 421.273469 L 712.579592 420.979592 L 722.865306 420.538776 L 730.946939 419.804082 L 736.82449 419.877551 L 747.844898 419.583673 L 755.191837 418.77551 L 762.538776 418.628571 L 769.885714 418.481633 L 774.293878 418.77551 L 780.906122 418.187755 L 788.4 418.481633 L 792.440816 418.555102 L 796.114286 418.84898 L 807.134694 417.820408 L 817.420408 417.673469 L 824.767347 417.379592 L 828.440816 417.085714 L 832.114286 416.497959 L 838.726531 416.204082 L 846.073469 415.616327 L 853.420408 414.587755 L 857.093878 414.146939 L 860.767347 414 L 864.440816 414.146939 L 871.787755 414 L 875.461224 413.706122 L 882.073469 412.530612 L 889.420408 412.383673 L 900.440816 411.942857 L 907.787755 410.620408 L 911.461224 410.326531 L 918.808163 410.767347 L 926.155102 410.914286 L 932.032653 409.738776 L 940.114286 409.591837 L 947.461224 409.15102 L 951.134694 409.15102 L 954.808163 408.710204 L 958.481633 407.828571 L 965.093878 407.387755 L 976.114286 406.212245 L 982.726531 404.595918 L 990.073469 403.861224 L 993.746939 403.273469 L 1001.093878 402.685714 L 1008.440816 401.216327 L 1012.114286 400.922449 L 1019.461224 400.77551 L 1026.808163 400.481633 L 1034.155102 399.306122 L 1041.502041 399.159184 L 1045.17551 398.571429 L 1051.787755 397.24898 L 1058.4 396.073469 L 1065.746939 395.779592 L 1069.420408 395.926531 L 1076.767347 395.779592 L 1084.114286 394.75102 L 1091.461224 394.310204 L 1095.134694 394.016327 L 1101.746939 393.869388 L 1109.755102 393.134694 L 1116.367347 392.840816 L 1127.387755 392.4 L 1131.061224 391.959184 L 1134.734694 391.371429 L 1138.408163 390.930612 L 1142.081633 390.930612 L 1149.428571 390.636735 L 1153.102041 390.489796 L 1156.77551 390.342857 L 1160.44898 390.04898 L 1167.061224 390.489796 L 1170.734694 390.342857 L 1178.081633 390.342857 L 1181.755102 389.902041 L 1185.428571 389.608163 L 1189.102041 389.755102 L 1199.387755 390.04898 L 1203.061224 389.902041 L 1206.734694 389.608163 L 1210.408163 389.167347 L 1214.081633 389.020408 L 1228.77551 389.020408 L 1231.714286 388.873469 L 1235.387755 388.432653 L 1239.061224 388.285714 L 1242.734694 388.138776 L 1246.408163 387.844898 L 1250.081633 387.55102 L 1257.428571 387.257143 L 1261.102041 386.816327 L 1264.77551 386.522449 L 1268.44898 386.669388 L 1272.122449 387.110204 L 1275.795918 386.816327 L 1279.469388 386.37551 L 1283.142857 385.787755 L 1286.081633 385.2 L 1289.755102 384.759184 L 1293.428571 384.171429 L 1297.102041 383.436735 L 1300.77551 382.702041 L 1304.44898 381.967347 L 1308.122449 380.791837 L 1311.795918 379.322449 L 1315.469388 378.293878 L 1319.142857 377.412245 L 1322.816327 376.82449 L 1326.489796 376.089796 L 1333.102041 374.473469 L 1336.77551 373.444898 L 1340.44898 372.857143 L 1343.387755 372.857143 L 1347.061224 373.444898 L 1350.734694 374.032653 L 1354.408163 374.473469 L 1361.755102 373.885714 L 1365.428571 374.620408 L 1369.102041 375.355102 L 1372.77551 375.795918 L 1379.387755 376.82449 L 1383.061224 377.265306 L 1387.469388 377.265306 L 1391.142857 377.853061 L 1394.816327 378.734694 L 1398.489796 379.17551 L 1402.163265 379.469388 L 1405.836735 380.057143 L 1408.040816 379.910204 L 1411.714286 379.322449 L 1415.387755 379.763265 L 1419.061224 379.910204 L 1422.734694 380.35102 L 1426.408163 380.644898 L 1430.081633 381.379592 L 1434.489796 381.526531 L 1438.163265 382.114286 L 1441.157143 382.692857 L 1444.738776 383.289796 L 1448.320408 383.767347 L 1452.49898 384.304592 L 1456.080612 384.364286 L 1459.662245 383.767347 L 1463.243878 383.110714 L 1466.82551 382.692857 L 1470.407143 382.215306 L 1473.988776 381.797449 L 1477.570408 381.439286 L 1481.152041 380.902041 L 1482.942857 381.260204 L 1485.032143 381.558673 L 1488.315306 381.140816 L 1492.232727 380.663265" clip-path="url(#pe331e6150c)" style="fill: none; stroke: #208020; stroke-linecap: square"/>
</g>
<g id="line2d_84">
<path d="M 175.287273 345.650542 L 185.044898 344.793389 L 191.167347 343.936235 L 197.289796 343.568883 L 207.697959 343.813784 L 211.371429 343.568883 L 218.106122 342.344378 L 225.453061 342.83418 L 232.8 342.956631 L 240.146939 343.568883 L 243.820408 342.711729 L 247.493878 342.956631 L 252.391837 343.691334 L 258.514286 344.670938 L 264.636735 344.426037 L 269.534694 343.568883 L 273.208163 343.323982 L 279.942857 343.691334 L 287.289796 343.568883 L 294.02449 344.426037 L 300.146939 345.895444 L 305.044898 347.119949 L 312.391837 348.099553 L 319.738776 347.732202 L 323.412245 348.099553 L 330.759184 349.324059 L 334.432653 349.936311 L 338.106122 350.181213 L 344.228571 349.936311 L 349.126531 350.303663 L 355.861224 350.793465 L 362.595918 351.405718 L 369.942857 351.038366 L 380.963265 351.77307 L 391.983673 352.262872 L 399.330612 352.017971 L 409.738776 352.997575 L 416.473469 353.242476 L 423.820408 352.875124 L 431.167347 353.242476 L 438.514286 353.854729 L 449.534694 353.120026 L 457.493878 353.167347 L 467.779592 353.314286 L 475.126531 353.020408 L 482.473469 353.020408 L 495.697959 353.020408 L 500.106122 352.432653 L 507.453061 350.522449 L 518.473469 347.142857 L 522.146939 345.820408 L 528.759184 344.204082 L 536.106122 343.17551 L 543.453061 341.118367 L 550.8 339.208163 L 557.412245 337.591837 L 564.759184 335.534694 L 572.106122 333.330612 L 575.779592 332.008163 L 579.453061 330.244898 L 586.8 328.334694 L 590.473469 327.012245 L 594.146939 326.130612 L 601.493878 324.808163 L 608.106122 323.338776 L 611.779592 322.897959 L 615.453061 322.163265 L 622.8 320.106122 L 630.146939 318.930612 L 633.820408 318.636735 L 641.167347 317.167347 L 644.840816 316.726531 L 651.453061 314.816327 L 655.126531 314.37551 L 662.473469 313.787755 L 669.820408 312.465306 L 677.167347 310.408163 L 687.453061 307.616327 L 694.8 306 L 702.146939 303.795918 L 705.820408 303.208163 L 713.167347 303.355102 L 723.453061 302.914286 L 727.861224 301.885714 L 730.8 301.591837 L 738.146939 302.179592 L 745.493878 302.473469 L 752.840816 301.004082 L 760.187755 301.297959 L 770.473469 301.004082 L 777.820408 299.97551 L 788.032653 299.681633 L 792.440816 299.387755 L 795.379592 298.8 L 802.726531 296.889796 L 807.134694 296.302041 L 817.420408 296.302041 L 821.093878 295.861224 L 828.440816 294.244898 L 838.726531 294.685714 L 842.4 294.538776 L 846.073469 293.95102 L 849.746939 292.922449 L 857.093878 291.453061 L 860.767347 290.571429 L 864.440816 289.24898 L 871.787755 287.485714 L 878.4 285.428571 L 882.073469 284.840816 L 886.481633 283.665306 L 889.420408 283.077551 L 896.767347 281.314286 L 900.440816 279.991837 L 904.114286 278.522449 L 907.787755 277.493878 L 911.461224 276.759184 L 915.134694 276.318367 L 918.808163 276.02449 L 922.481633 275.289796 L 926.155102 273.967347 L 929.828571 272.497959 L 932.032653 271.763265 L 936.440816 270.587755 L 940.114286 269.412245 L 947.461224 266.914286 L 951.134694 265.444898 L 954.808163 263.681633 L 961.420408 261.477551 L 965.093878 260.155102 L 968.767347 258.538776 L 972.440816 256.922449 L 976.114286 255.453061 L 979.053061 253.395918 L 982.726531 251.485714 L 987.134694 249.281633 L 990.073469 248.106122 L 993.746939 246.195918 L 997.420408 244.432653 L 1001.093878 243.257143 L 1004.767347 241.787755 L 1012.114286 239.289796 L 1015.787755 238.408163 L 1023.134694 237.379592 L 1026.808163 236.204082 L 1030.481633 234.587755 L 1034.155102 233.706122 L 1037.828571 233.265306 L 1041.502041 233.118367 L 1048.114286 233.412245 L 1051.787755 233.412245 L 1055.461224 232.971429 L 1062.073469 232.971429 L 1065.746939 232.530612 L 1073.093878 232.089796 L 1076.767347 230.914286 L 1080.440816 229.15102 L 1084.114286 228.269388 L 1087.787755 226.946939 L 1091.461224 226.212245 L 1098.808163 223.567347 L 1101.746939 221.95102 L 1105.420408 220.481633 L 1109.755102 219.306122 L 1112.693878 218.865306 L 1116.367347 217.836735 L 1123.714286 216.073469 L 1127.387755 215.044898 L 1131.061224 213.869388 L 1134.734694 213.134694 L 1138.408163 212.693878 L 1145.020408 212.693878 L 1148.693878 212.4 L 1152.367347 212.106122 L 1156.040816 211.22449 L 1159.714286 210.636735 L 1163.387755 210.04898 L 1166.326531 209.902041 L 1173.673469 209.020408 L 1177.346939 208.432653 L 1181.020408 207.55102 L 1184.693878 207.257143 L 1192.040816 206.228571 L 1195.714286 205.934694 L 1203.061224 204.906122 L 1206 204.171429 L 1210.408163 202.995918 L 1214.081633 202.702041 L 1217.020408 201.967347 L 1221.428571 200.938776 L 1224.367347 200.791837 L 1228.040816 199.763265 L 1231.714286 198.440816 L 1235.387755 197.412245 L 1239.061224 196.530612 L 1242.734694 195.502041 L 1246.408163 194.326531 L 1250.081633 193.297959 L 1253.755102 192.269388 L 1257.428571 191.240816 L 1261.102041 190.653061 L 1264.040816 190.065306 L 1267.714286 189.330612 L 1271.387755 188.44898 L 1275.061224 187.126531 L 1278.734694 186.097959 L 1282.408163 185.216327 L 1285.346939 184.77551 L 1289.020408 184.481633 L 1296.367347 184.334694 L 1300.040816 183.6 L 1303.714286 182.865306 L 1307.387755 182.277551 L 1310.326531 181.24898 L 1314 180.367347 L 1315.469388 180.073469 L 1318.408163 179.779592 L 1322.081633 179.191837 L 1325.755102 179.044898 L 1329.428571 179.191837 L 1332.367347 179.044898 L 1336.77551 179.044898 L 1339.714286 180.661224 L 1343.387755 181.102041 L 1347.061224 181.542857 L 1350.734694 181.689796 L 1358.081633 181.542857 L 1361.755102 181.836735 L 1365.428571 181.983673 L 1369.102041 181.836735 L 1379.387755 181.836735 L 1383.061224 181.542857 L 1387.469388 181.542857 L 1391.142857 180.661224 L 1394.816327 180.367347 L 1398.489796 179.926531 L 1405.836735 179.338776 L 1408.040816 179.044898 L 1411.714286 178.897959 L 1419.061224 178.604082 L 1422.734694 178.163265 L 1426.408163 177.869388 L 1429.346939 177.281633 L 1433.020408 176.4 L 1436.693878 175.518367 L 1441.157143 174.397959 L 1444.738776 173.144388 L 1448.320408 172.189286 L 1451.902041 171.353571 L 1456.080612 170.458163 L 1459.065306 170.338776 L 1462.646939 170.577551 L 1466.228571 170.935714 L 1470.108673 171.055102 L 1473.988776 171.472959 L 1477.570408 171.652041 L 1481.152041 171.532653 L 1484.733673 171.17449 L 1488.912245 170.935714 L 1492.232727 170.517857" clip-path="url(#pe331e6150c)" style="fill: none; stroke: #145214; stroke-linecap: square"/>
</g>
<g id="line2d_85">
<path d="M 175.287273 345.650542 L 185.044898 343.813784 L 200.35102 341.119872 L 207.697959 341.977026 L 215.044898 337.936158 L 221.779592 334.997345 L 225.453061 335.242246 L 232.8 331.936082 L 240.146939 326.425807 L 247.493878 323.609445 L 254.840816 320.548181 L 261.820408 315.895061 L 265.493878 315.282808 L 273.208163 310.997039 L 279.942857 307.445973 L 283.616327 305.731666 L 287.289796 303.527556 L 290.35102 302.1806 L 297.697959 298.139732 L 305.044898 294.711117 L 308.718367 295.200919 L 312.391837 294.711117 L 319.738776 290.792699 L 330.146939 286.874282 L 337.493878 283.200766 L 341.779592 282.098711 L 348.514286 280.261953 L 355.861224 276.710887 L 358.922449 275.853733 L 362.595918 274.261876 L 366.269388 273.159821 L 369.942857 272.79247 L 373.616327 271.690415 L 380.963265 270.71081 L 384.636735 269.731206 L 388.310204 268.506701 L 391.983673 268.38425 L 399.330612 269.486305 L 409.738776 272.79247 L 416.473469 274.384327 L 423.820408 275.853733 L 434.228571 276.955788 L 444.636735 277.078239 L 460.432653 278.081633 L 467.779592 277.640816 L 478.065306 277.2 L 482.473469 276.612245 L 492.759184 276.318367 L 500.106122 276.612245 L 510.391837 275.877551 L 518.473469 273.820408 L 528.759184 271.910204 L 539.779592 269.265306 L 547.126531 267.355102 L 555.942857 265.004082 L 564.759184 262.506122 L 568.432653 262.946939 L 575.779592 261.62449 L 583.126531 260.302041 L 592.677551 257.95102 L 597.085714 256.922449 L 604.432653 255.012245 L 611.779592 253.24898 L 619.126531 252.220408 L 625.738776 250.897959 L 633.820408 249.281633 L 644.106122 246.636735 L 648.514286 246.342857 L 655.126531 244.873469 L 662.473469 243.404082 L 669.820408 241.493878 L 679.371429 239.289796 L 687.453061 237.526531 L 695.534694 235.17551 L 702.881633 233.559184 L 713.167347 231.061224 L 723.453061 227.97551 L 730.8 226.359184 L 738.146939 224.889796 L 748.432653 222.391837 L 760.187755 221.510204 L 774.881633 220.481633 L 784.359184 220.334694 L 795.379592 219.746939 L 799.053061 219.746939 L 802.726531 220.040816 L 807.134694 220.040816 L 813.012245 219.6 L 820.359184 218.718367 L 827.706122 218.130612 L 831.379592 218.130612 L 838.726531 218.571429 L 846.073469 217.836735 L 853.420408 217.542857 L 860.767347 217.983673 L 864.440816 217.836735 L 871.787755 216.955102 L 875.461224 217.24898 L 882.073469 217.542857 L 886.481633 218.130612 L 889.420408 218.130612 L 896.767347 217.24898 L 904.114286 216.955102 L 911.461224 216.955102 L 915.134694 216.808163 L 922.481633 215.779592 L 932.032653 215.632653 L 940.114286 215.632653 L 946.726531 215.044898 L 957.746939 214.897959 L 964.359184 214.897959 L 968.767347 214.457143 L 976.114286 214.310204 L 982.726531 214.016327 L 990.073469 213.722449 L 997.420408 212.693878 L 1004.767347 212.546939 L 1012.114286 212.106122 L 1015.787755 212.106122 L 1023.134694 210.930612 L 1033.420408 210.489796 L 1040.767347 210.489796 L 1048.114286 209.608163 L 1055.461224 210.195918 L 1062.073469 210.195918 L 1069.420408 209.755102 L 1073.093878 209.167347 L 1076.767347 209.167347 L 1084.114286 208.873469 L 1091.461224 209.167347 L 1098.808163 208.285714 L 1105.420408 208.726531 L 1109.755102 208.873469 L 1116.367347 208.726531 L 1123.714286 207.697959 L 1134.734694 207.991837 L 1138.408163 207.697959 L 1142.081633 207.697959 L 1145.020408 207.991837 L 1148.693878 208.726531 L 1152.367347 209.902041 L 1156.040816 211.22449 L 1159.714286 212.253061 L 1163.387755 212.693878 L 1170 213.134694 L 1177.346939 213.428571 L 1184.693878 213.57551 L 1188.367347 214.016327 L 1192.77551 214.457143 L 1199.387755 214.310204 L 1203.061224 215.044898 L 1206.734694 216.220408 L 1210.408163 217.689796 L 1214.081633 219.306122 L 1217.020408 220.628571 L 1221.428571 221.95102 L 1224.367347 222.538776 L 1228.040816 223.861224 L 1235.387755 226.359184 L 1239.061224 227.534694 L 1242.734694 228.857143 L 1246.408163 229.591837 L 1250.081633 229.591837 L 1253.755102 229.885714 L 1261.102041 230.032653 L 1264.040816 230.473469 L 1267.714286 230.620408 L 1275.061224 230.326531 L 1278.734694 230.914286 L 1285.346939 231.64898 L 1289.020408 232.089796 L 1293.428571 232.971429 L 1296.367347 232.971429 L 1300.77551 232.530612 L 1303.714286 232.971429 L 1310.326531 234 L 1314 234.734694 L 1318.408163 235.616327 L 1322.081633 235.616327 L 1325.755102 235.028571 L 1329.428571 235.763265 L 1336.040816 236.938776 L 1339.714286 237.526531 L 1343.387755 238.261224 L 1347.061224 238.261224 L 1350.734694 237.820408 L 1354.408163 238.408163 L 1358.081633 238.995918 L 1365.428571 240.02449 L 1369.102041 240.759184 L 1372.77551 240.612245 L 1376.44898 240.171429 L 1379.387755 240.612245 L 1386 241.493878 L 1391.142857 242.669388 L 1394.816327 243.404082 L 1398.489796 243.404082 L 1402.163265 243.257143 L 1405.836735 243.697959 L 1408.040816 244.138776 L 1411.714286 245.167347 L 1419.061224 247.371429 L 1422.734694 247.959184 L 1426.408163 248.4 L 1430.081633 249.134694 L 1433.020408 249.281633 L 1436.693878 248.840816 L 1441.157143 248.776531 L 1444.738776 248.29898 L 1448.320408 247.343878 L 1452.49898 246.090306 L 1456.080612 245.37398 L 1459.662245 244.538265 L 1463.243878 243.344388 L 1466.82551 241.911735 L 1470.407143 241.07602 L 1473.988776 240.538776 L 1477.570408 241.016327 L 1481.152041 241.553571 L 1484.733673 242.687755 L 1488.315306 243.583163 L 1492.232727 244.239796" clip-path="url(#pe331e6150c)" style="fill: none; stroke: #7c83de; stroke-linecap: square"/>
</g>
<g id="line2d_86">
<path d="M 175.287273 346.017894 L 185.044898 348.711806 L 193.616327 352.017971 L 200.35102 354.589432 L 207.697959 356.181289 L 215.044898 358.385399 L 221.779592 360.099706 L 229.126531 362.181366 L 232.8 362.671168 L 240.146939 364.997728 L 243.820408 365.977332 L 251.167347 368.426343 L 258.514286 370.140651 L 269.534694 373.814167 L 276.881633 375.650925 L 283.616327 377.242782 L 287.289796 378.467288 L 294.02449 380.548947 L 301.371429 382.753057 L 308.718367 384.344914 L 316.065306 387.283727 L 323.412245 390.100089 L 330.759184 392.671551 L 337.493878 394.630759 L 344.228571 396.834869 L 352.187755 399.528781 L 355.861224 400.508385 L 358.922449 401.120638 L 366.269388 403.81455 L 373.616327 406.875814 L 377.289796 408.34522 L 384.636735 410.304429 L 391.983673 411.773835 L 395.657143 413.243242 L 401.779592 415.08 L 456.759184 429.428571 L 460.432653 429.869388 L 464.106122 430.016327 L 471.453061 432.220408 L 478.8 434.277551 L 482.473469 434.865306 L 489.085714 434.718367 L 496.432653 436.628571 L 500.106122 437.363265 L 503.779592 437.069388 L 507.453061 436.481633 L 511.126531 435.893878 L 518.473469 435.012245 L 525.820408 434.718367 L 529.493878 434.865306 L 532.432653 434.571429 L 536.106122 433.836735 L 539.779592 432.955102 L 547.126531 432.367347 L 550.8 432.073469 L 557.412245 431.926531 L 561.085714 431.485714 L 564.759184 430.897959 L 572.106122 430.163265 L 575.779592 429.722449 L 579.453061 429.134694 L 586.8 427.959184 L 590.473469 427.22449 L 597.085714 426.489796 L 600.759184 425.902041 L 608.106122 424.873469 L 615.453061 424.432653 L 622.8 423.844898 L 630.146939 423.55102 L 633.820408 423.404082 L 640.432653 422.228571 L 647.779592 421.787755 L 655.126531 421.493878 L 658.8 421.493878 L 666.146939 420.759184 L 669.820408 421.053061 L 677.167347 421.053061 L 680.840816 420.759184 L 687.453061 419.730612 L 694.8 418.408163 L 702.146939 417.673469 L 709.493878 416.938776 L 716.840816 415.469388 L 723.453061 414.440816 L 734.473469 412.236735 L 741.820408 410.473469 L 749.167347 409.591837 L 756.514286 408.563265 L 760.187755 407.828571 L 767.534694 406.359184 L 774.146939 405.477551 L 784.359184 403.714286 L 792.440816 401.657143 L 796.114286 400.922449 L 802.726531 399.893878 L 810.073469 398.718367 L 817.420408 396.808163 L 821.093878 396.367347 L 828.440816 396.220408 L 835.053061 396.073469 L 842.4 395.338776 L 846.073469 395.044898 L 849.746939 394.604082 L 857.093878 394.163265 L 860.767347 393.57551 L 867.379592 392.253061 L 874.726531 391.812245 L 878.4 391.665306 L 886.481633 390.930612 L 893.093878 389.902041 L 900.440816 389.608163 L 904.114286 389.461224 L 911.461224 388.579592 L 918.808163 386.963265 L 926.155102 386.522449 L 936.440816 385.934694 L 940.114286 385.346939 L 947.461224 383.877551 L 954.808163 381.967347 L 961.420408 380.35102 L 968.767347 379.469388 L 976.114286 378.587755 L 982.726531 377.853061 L 986.4 377.412245 L 993.746939 376.236735 L 997.420408 375.64898 L 1001.093878 374.914286 L 1004.767347 373.885714 L 1012.114286 371.534694 L 1019.461224 369.918367 L 1026.808163 368.302041 L 1030.481633 367.714286 L 1037.828571 366.832653 L 1045.17551 365.804082 L 1051.787755 365.510204 L 1062.073469 365.363265 L 1069.420408 364.628571 L 1076.767347 364.481633 L 1087.787755 364.040816 L 1095.134694 363.306122 L 1101.746939 363.306122 L 1112.693878 362.865306 L 1120.040816 361.983673 L 1127.387755 361.542857 L 1134.734694 361.24898 L 1145.020408 360.220408 L 1149.428571 360.073469 L 1156.77551 359.632653 L 1163.387755 359.485714 L 1170 359.044898 L 1178.081633 358.75102 L 1185.428571 359.338776 L 1189.102041 359.338776 L 1195.714286 358.897959 L 1203.061224 359.191837 L 1206.734694 359.338776 L 1214.081633 359.926531 L 1217.755102 359.926531 L 1221.428571 359.485714 L 1228.040816 359.779592 L 1239.061224 360.073469 L 1246.408163 359.485714 L 1253.755102 359.338776 L 1264.040816 359.044898 L 1267.714286 358.604082 L 1271.387755 358.163265 L 1275.061224 357.869388 L 1286.081633 357.869388 L 1289.020408 358.457143 L 1296.367347 358.75102 L 1300.040816 359.044898 L 1308.122449 359.191837 L 1315.469388 358.75102 L 1322.081633 357.869388 L 1329.428571 358.163265 L 1339.714286 358.310204 L 1343.387755 358.163265 L 1347.061224 357.722449 L 1350.734694 357.722449 L 1361.755102 358.163265 L 1369.102041 358.75102 L 1372.77551 359.485714 L 1376.44898 360.514286 L 1383.061224 361.836735 L 1387.469388 362.865306 L 1391.142857 363.746939 L 1394.816327 364.187755 L 1398.489796 364.922449 L 1405.836735 366.979592 L 1411.714286 368.44898 L 1419.061224 370.359184 L 1426.408163 371.828571 L 1430.081633 372.269388 L 1436.693878 372.857143 L 1441.157143 373.619388 L 1444.738776 373.679082 L 1448.320408 373.5 L 1452.49898 373.798469 L 1456.080612 374.156633 L 1459.662245 374.57449 L 1463.243878 374.753571 L 1466.82551 374.693878 L 1470.407143 374.455102 L 1473.988776 374.395408 L 1477.570408 375.052041 L 1481.152041 375.768367 L 1484.733673 376.305612 L 1488.315306 376.842857 L 1492.232727 377.320408" clip-path="url(#pe331e6150c)" style="fill: none; stroke: #4a55d2; stroke-linecap: square"/>
</g>
<g id="line2d_87">
<path d="M 175.287273 346.017894 L 185.044898 347.119949 L 197.289796 349.324059 L 207.697959 350.793465 L 215.044898 352.017971 L 221.779592 352.630223 L 225.453061 353.120026 L 232.8 353.120026 L 240.146939 353.854729 L 243.820408 353.854729 L 251.167347 352.140421 L 258.514286 352.140421 L 262.187755 352.017971 L 269.534694 351.283267 L 276.881633 350.548564 L 283.616327 350.181213 L 290.35102 348.956707 L 294.02449 348.466905 L 300.146939 346.752597 L 304.432653 345.772993 L 307.493878 345.772993 L 312.391837 346.385246 L 319.738776 346.385246 L 328.310204 346.140345 L 334.432653 345.650542 L 341.167347 345.650542 L 344.228571 346.385246 L 352.187755 347.854652 L 355.861224 347.977103 L 362.595918 348.589355 L 369.942857 350.548564 L 377.289796 352.262872 L 384.636735 354.22208 L 391.983673 355.079234 L 399.330612 357.650696 L 403.004082 358.6303 L 406.677551 359.120102 L 416.473469 362.426267 L 423.820408 364.997728 L 428.106122 365.609981 L 434.840816 366.222234 L 439.738776 366.956937 L 445.861224 367.201838 L 453.085714 368.44898 L 464.106122 369.62449 L 471.453061 370.653061 L 478.8 372.269388 L 486.146939 373.297959 L 493.493878 374.767347 L 497.167347 375.795918 L 507.453061 380.204082 L 511.126531 381.085714 L 518.473469 382.84898 L 525.820408 384.906122 L 532.432653 387.257143 L 543.453061 390.930612 L 550.8 392.840816 L 557.412245 394.457143 L 561.085714 395.338776 L 566.228571 395.485714 L 572.106122 395.044898 L 575.779592 395.044898 L 579.453061 396.073469 L 583.126531 396.661224 L 590.473469 398.42449 L 600.759184 398.571429 L 604.432653 399.012245 L 611.779592 399.746939 L 615.453061 400.187755 L 623.534694 400.187755 L 627.942857 400.628571 L 633.820408 401.363265 L 640.432653 401.510204 L 647.779592 401.069388 L 651.453061 400.77551 L 655.126531 400.77551 L 662.473469 400.187755 L 669.820408 400.187755 L 677.167347 401.216327 L 680.840816 401.510204 L 684.514286 401.510204 L 691.126531 402.244898 L 698.473469 402.685714 L 705.820408 402.391837 L 709.493878 401.804082 L 713.167347 401.804082 L 720.514286 402.832653 L 727.126531 403.273469 L 730.8 403.861224 L 738.146939 403.714286 L 745.493878 404.302041 L 752.840816 404.302041 L 760.187755 404.008163 L 767.534694 404.889796 L 774.146939 405.771429 L 781.420408 407.828571 L 792.440816 409.591837 L 802.726531 410.620408 L 806.4 411.061224 L 813.746939 411.795918 L 821.093878 413.265306 L 828.440816 414.587755 L 832.114286 415.028571 L 838.726531 415.322449 L 842.4 415.616327 L 846.073469 416.204082 L 853.420408 417.232653 L 857.093878 417.820408 L 864.440816 419.289796 L 871.787755 422.081633 L 875.461224 423.110204 L 878.4 423.697959 L 886.481633 424.138776 L 889.420408 424.873469 L 893.093878 425.902041 L 896.767347 426.489796 L 900.440816 427.371429 L 904.114286 427.959184 L 907.787755 428.4 L 911.461224 428.546939 L 915.134694 429.281633 L 922.481633 430.016327 L 926.155102 430.604082 L 929.828571 431.338776 L 932.032653 431.926531 L 940.114286 433.542857 L 943.787755 434.571429 L 947.461224 435.6 L 951.134694 436.628571 L 954.808163 437.510204 L 958.481633 438.244898 L 961.420408 438.538776 L 968.767347 439.567347 L 972.440816 440.008163 L 979.053061 441.330612 L 982.726531 442.212245 L 990.073469 443.534694 L 993.746939 444.416327 L 997.420408 445.444898 L 1001.093878 446.326531 L 1004.767347 446.767347 L 1008.440816 447.061224 L 1012.114286 447.795918 L 1015.787755 448.82449 L 1019.461224 449.412245 L 1026.808163 450.587755 L 1030.481633 451.763265 L 1034.155102 452.35102 L 1041.502041 454.114286 L 1045.17551 454.84898 L 1048.114286 455.289796 L 1051.787755 455.583673 L 1058.4 456.612245 L 1062.073469 456.612245 L 1065.746939 457.346939 L 1073.093878 459.991837 L 1076.767347 461.167347 L 1084.114286 463.518367 L 1087.787755 464.253061 L 1095.134694 465.869388 L 1101.746939 466.75102 L 1109.755102 468.367347 L 1113.428571 468.661224 L 1117.102041 469.395918 L 1123.714286 470.130612 L 1127.387755 470.130612 L 1131.061224 470.718367 L 1134.734694 471.012245 L 1138.408163 471.159184 L 1142.081633 471.6 L 1145.755102 471.6 L 1149.428571 471.453061 L 1153.102041 471.6 L 1156.77551 472.040816 L 1160.44898 472.334694 L 1167.061224 472.628571 L 1170.734694 472.481633 L 1178.081633 472.628571 L 1181.755102 472.77551 L 1185.428571 473.510204 L 1189.102041 473.657143 L 1195.714286 473.657143 L 1199.387755 473.363265 L 1203.061224 472.77551 L 1206.734694 472.187755 L 1214.081633 471.746939 L 1217.755102 471.453061 L 1221.428571 471.159184 L 1225.102041 470.718367 L 1228.77551 469.983673 L 1232.44898 469.542857 L 1235.387755 469.395918 L 1239.061224 468.808163 L 1242.734694 468.220408 L 1246.408163 467.191837 L 1250.081633 466.016327 L 1253.755102 464.840816 L 1257.428571 463.959184 L 1261.102041 463.812245 L 1264.77551 463.518367 L 1268.44898 463.371429 L 1272.122449 462.342857 L 1275.795918 461.461224 L 1279.469388 460.432653 L 1283.142857 459.257143 L 1286.081633 458.963265 L 1289.755102 459.110204 L 1293.428571 459.257143 L 1297.102041 459.404082 L 1300.77551 458.963265 L 1304.44898 458.669388 L 1308.122449 458.37551 L 1311.795918 458.522449 L 1315.469388 458.522449 L 1319.142857 458.37551 L 1322.816327 458.081633 L 1326.489796 457.640816 L 1329.428571 457.787755 L 1333.102041 458.522449 L 1336.77551 459.257143 L 1340.44898 460.726531 L 1343.387755 462.04898 L 1347.061224 463.812245 L 1350.734694 465.281633 L 1354.408163 467.044898 L 1358.081633 468.367347 L 1361.755102 470.130612 L 1365.428571 471.306122 L 1369.102041 472.481633 L 1372.77551 474.097959 L 1376.44898 475.714286 L 1380.122449 476.889796 L 1383.795918 478.506122 L 1387.469388 479.534694 L 1391.142857 480.416327 L 1394.816327 481.591837 L 1398.489796 482.767347 L 1402.163265 483.942857 L 1405.836735 485.559184 L 1409.510204 487.028571 L 1413.183673 488.938776 L 1416.122449 490.408163 L 1419.795918 492.171429 L 1423.469388 493.346939 L 1427.142857 494.228571 L 1430.816327 495.404082 L 1434.489796 496.726531 L 1438.163265 498.636735 L 1441.754082 500.386224 L 1444.738776 501.639796 L 1448.320408 503.251531 L 1452.49898 505.042347 L 1456.080612 506.057143 L 1459.662245 506.713776 L 1463.243878 507.609184 L 1466.82551 508.564286 L 1470.407143 509.758163 L 1473.988776 510.593878 L 1477.570408 511.429592 L 1481.152041 512.086224 L 1484.733673 512.623469 L 1488.315306 513.160714 L 1492.232727 513.757653" clip-path="url(#pe331e6150c)" style="fill: none; stroke: #2b36b4; stroke-linecap: square"/>
</g>
<g id="line2d_88">
<path d="M 175.287273 346.017894 L 185.044898 347.487301 L 197.289796 348.344454 L 207.697959 349.936311 L 215.044898 350.793465 L 221.779592 350.548564 L 225.453061 350.303663 L 232.8 352.385322 L 236.473469 353.977179 L 240.146939 355.691487 L 243.820408 357.038443 L 247.493878 358.140498 L 254.840816 360.95686 L 262.187755 363.405871 L 269.534694 366.467135 L 273.208163 367.446739 L 276.881633 368.916146 L 283.616327 370.140651 L 287.289796 371.365156 L 294.02449 373.814167 L 300.146939 375.650925 L 305.044898 377.732585 L 312.391837 380.304046 L 316.065306 380.916299 L 323.412245 381.1612 L 330.759184 381.895903 L 337.493878 382.385705 L 344.228571 382.630606 L 349.126531 383.242859 L 352.187755 383.977562 L 358.922449 385.81432 L 362.595918 386.549024 L 366.269388 387.528628 L 373.616327 389.732738 L 380.963265 392.794001 L 384.636735 393.896056 L 391.983673 394.75321 L 399.330612 396.834869 L 406.677551 399.528781 L 409.738776 400.630836 L 416.473469 402.712495 L 423.820408 405.039056 L 428.106122 406.508462 L 434.840816 408.100319 L 440.963265 409.814627 L 445.861224 410.304429 L 457.493878 412.677551 L 460.432653 413.118367 L 464.106122 413.412245 L 471.453061 413.853061 L 478.065306 414.587755 L 482.473469 415.469388 L 486.146939 415.910204 L 492.759184 417.232653 L 500.106122 417.820408 L 507.453061 418.702041 L 511.126531 419.583673 L 518.473469 421.346939 L 522.146939 421.640816 L 532.432653 421.640816 L 536.106122 421.346939 L 539.779592 421.934694 L 543.453061 422.228571 L 550.8 423.991837 L 554.473469 424.579592 L 558.881633 425.608163 L 561.820408 425.902041 L 567.697959 424.579592 L 572.106122 424.138776 L 575.779592 423.991837 L 579.453061 423.55102 L 583.126531 423.55102 L 590.473469 423.697959 L 594.146939 424.138776 L 600.759184 425.167347 L 604.432653 425.461224 L 611.779592 425.167347 L 615.453061 425.461224 L 619.126531 425.020408 L 622.8 424.432653 L 626.473469 424.285714 L 630.146939 424.579592 L 636.759184 424.285714 L 640.432653 423.697959 L 647.779592 423.110204 L 651.453061 423.257143 L 658.8 423.991837 L 666.146939 425.314286 L 673.493878 425.755102 L 677.167347 426.783673 L 680.840816 427.812245 L 687.453061 429.57551 L 694.8 431.338776 L 698.473469 431.632653 L 709.493878 431.044898 L 713.167347 430.604082 L 720.514286 429.428571 L 723.453061 429.281633 L 730.8 428.106122 L 734.473469 427.812245 L 741.820408 428.4 L 749.167347 429.134694 L 752.840816 429.134694 L 760.187755 428.987755 L 767.534694 430.163265 L 774.881633 430.897959 L 777.820408 431.338776 L 780.685714 431.779592 L 784.359184 432.661224 L 792.440816 435.012245 L 796.114286 436.040816 L 799.787755 437.216327 L 803.461224 438.097959 L 807.134694 438.391837 L 810.808163 438.391837 L 813.746939 438.685714 L 817.420408 439.273469 L 821.093878 440.155102 L 824.767347 441.036735 L 828.440816 441.62449 L 832.114286 441.771429 L 835.787755 441.330612 L 842.4 441.183673 L 846.073469 441.036735 L 853.420408 441.62449 L 857.093878 442.212245 L 864.440816 442.8 L 871.787755 443.240816 L 878.4 443.387755 L 882.073469 442.946939 L 886.481633 442.653061 L 893.093878 442.8 L 896.767347 442.653061 L 900.440816 441.918367 L 904.114286 441.036735 L 907.787755 440.302041 L 911.461224 439.714286 L 918.808163 438.832653 L 922.481633 438.244898 L 929.828571 437.510204 L 936.440816 436.481633 L 940.114286 435.746939 L 943.787755 434.865306 L 947.461224 433.836735 L 951.134694 432.661224 L 954.808163 431.632653 L 958.481633 431.044898 L 961.420408 430.604082 L 968.767347 429.869388 L 972.440816 429.428571 L 976.114286 428.840816 L 982.726531 429.281633 L 986.4 429.722449 L 993.746939 430.75102 L 997.420408 431.191837 L 1001.093878 431.485714 L 1004.767347 431.485714 L 1008.440816 431.191837 L 1015.787755 431.485714 L 1023.134694 431.191837 L 1030.481633 430.457143 L 1037.828571 429.722449 L 1041.502041 428.987755 L 1045.17551 428.253061 L 1051.787755 427.812245 L 1058.4 427.665306 L 1065.746939 428.253061 L 1069.420408 428.840816 L 1076.767347 430.457143 L 1080.440816 431.485714 L 1084.114286 432.367347 L 1087.787755 433.542857 L 1091.461224 434.571429 L 1095.134694 435.159184 L 1101.746939 436.187755 L 1109.755102 436.922449 L 1116.367347 437.95102 L 1120.040816 437.804082 L 1123.714286 437.069388 L 1127.387755 436.77551 L 1134.734694 436.922449 L 1138.408163 436.481633 L 1142.081633 436.922449 L 1145.020408 437.510204 L 1152.367347 438.832653 L 1156.040816 439.273469 L 1160.44898 439.567347 L 1163.387755 439.861224 L 1167.061224 440.595918 L 1170.734694 440.889796 L 1174.408163 441.183673 L 1181.755102 441.62449 L 1185.428571 441.62449 L 1189.102041 441.918367 L 1192.77551 442.065306 L 1199.387755 442.065306 L 1203.061224 442.506122 L 1206.734694 442.359184 L 1214.816327 442.212245 L 1217.755102 442.946939 L 1221.428571 442.8 L 1225.102041 442.653061 L 1228.77551 443.093878 L 1232.44898 443.534694 L 1239.061224 443.681633 L 1242.734694 443.828571 L 1246.408163 444.269388 L 1250.081633 444.857143 L 1253.755102 445.738776 L 1257.428571 446.914286 L 1261.102041 447.64898 L 1264.77551 447.355102 L 1268.44898 447.502041 L 1272.122449 447.942857 L 1275.795918 447.64898 L 1279.469388 447.355102 L 1283.142857 447.64898 L 1286.081633 448.089796 L 1289.755102 448.971429 L 1293.428571 449.706122 L 1300.77551 450.587755 L 1304.44898 451.322449 L 1308.122449 451.763265 L 1311.795918 452.644898 L 1315.469388 453.379592 L 1319.142857 453.820408 L 1322.816327 454.555102 L 1326.489796 454.995918 L 1329.428571 455.583673 L 1333.102041 456.612245 L 1336.77551 457.640816 L 1340.44898 457.934694 L 1343.387755 458.081633 L 1350.734694 459.257143 L 1354.408163 459.844898 L 1358.081633 461.167347 L 1361.755102 461.902041 L 1365.428571 463.371429 L 1369.102041 464.693878 L 1372.77551 466.163265 L 1376.44898 467.485714 L 1380.122449 468.955102 L 1383.795918 470.865306 L 1387.469388 472.77551 L 1391.142857 474.244898 L 1394.816327 475.420408 L 1398.489796 476.302041 L 1402.163265 477.183673 L 1405.836735 478.065306 L 1409.510204 479.387755 L 1413.183673 480.122449 L 1416.122449 480.416327 L 1419.795918 481.444898 L 1423.469388 482.326531 L 1427.142857 483.208163 L 1430.816327 484.383673 L 1434.489796 484.82449 L 1438.163265 484.677551 L 1441.754082 484.985204 L 1444.738776 485.104592 L 1448.320408 485.044898 L 1452.49898 484.865816 L 1456.080612 484.686735 L 1459.662245 484.328571 L 1463.243878 483.970408 L 1466.82551 483.552551 L 1470.407143 483.731633 L 1473.988776 483.731633 L 1477.570408 483.552551 L 1481.152041 483.015306 L 1484.733673 482.418367 L 1488.315306 481.940816 L 1492.232727 481.22449" clip-path="url(#pe331e6150c)" style="fill: none; stroke: #202882; stroke-linecap: square"/>
</g>
<g id="line2d_89">
<path d="M 175.287273 346.017894 L 185.044898 345.03829 L 191.167347 344.426037 L 197.289796 345.895444 L 207.697959 346.875048 L 215.044898 346.140345 L 221.779592 345.283191 L 229.126531 345.03829 L 232.8 345.405641 L 240.146939 347.487301 L 243.820408 348.099553 L 247.493878 348.466905 L 254.840816 347.732202 L 262.187755 347.487301 L 265.861224 347.609751 L 269.534694 346.997498 L 273.208163 346.875048 L 283.616327 347.609751 L 290.35102 347.732202 L 300.146939 346.875048 L 305.044898 347.487301 L 312.391837 348.834257 L 319.738776 349.936311 L 327.085714 352.507773 L 330.759184 353.242476 L 337.493878 356.181289 L 344.228571 357.528245 L 352.187755 357.773146 L 358.922449 357.528245 L 362.595918 357.895597 L 369.942857 359.732355 L 380.963265 362.793618 L 388.310204 365.242629 L 395.657143 366.222234 L 399.330612 366.467135 L 409.738776 369.650849 L 416.473469 370.508003 L 423.820408 369.89575 L 431.167347 371.610057 L 438.514286 372.957013 L 449.534694 373.079464 L 453.085714 374.473469 L 456.759184 375.061224 L 460.432653 376.530612 L 467.779592 378.293878 L 475.126531 378.587755 L 478.8 379.763265 L 482.473469 380.35102 L 486.146939 381.673469 L 489.820408 382.702041 L 493.493878 383.289796 L 500.106122 384.465306 L 503.779592 384.465306 L 507.453061 385.346939 L 511.126531 386.669388 L 514.8 387.404082 L 518.473469 387.844898 L 522.146939 387.404082 L 525.820408 387.55102 L 529.493878 388.579592 L 536.106122 389.314286 L 543.453061 391.22449 L 547.126531 390.783673 L 550.8 390.636735 L 557.412245 391.371429 L 561.085714 392.4 L 564.759184 393.722449 L 572.106122 393.722449 L 575.779592 393.134694 L 586.8 393.134694 L 594.146939 392.106122 L 600.759184 390.489796 L 604.432653 390.04898 L 608.106122 389.755102 L 611.779592 389.167347 L 615.453061 389.020408 L 622.8 389.902041 L 626.473469 390.195918 L 630.146939 391.077551 L 633.820408 391.371429 L 636.759184 391.518367 L 640.432653 390.783673 L 647.779592 390.342857 L 651.453061 389.461224 L 658.8 388.873469 L 662.473469 387.991837 L 666.146939 386.963265 L 669.820408 386.522449 L 673.493878 384.906122 L 680.840816 382.702041 L 684.514286 382.261224 L 691.126531 381.967347 L 694.8 382.555102 L 698.473469 382.555102 L 702.146939 382.261224 L 705.820408 382.555102 L 713.167347 381.967347 L 716.840816 381.820408 L 723.453061 382.114286 L 727.861224 381.673469 L 734.473469 381.673469 L 741.820408 380.497959 L 745.493878 379.616327 L 749.167347 378.146939 L 752.840816 377.265306 L 760.187755 376.530612 L 767.534694 375.355102 L 770.473469 375.208163 L 774.146939 374.473469 L 777.820408 373.297959 L 781.420408 372.269388 L 784.359184 371.828571 L 788.032653 371.681633 L 792.440816 372.122449 L 796.114286 372.416327 L 799.787755 370.946939 L 803.461224 369.918367 L 807.134694 369.330612 L 813.746939 368.889796 L 817.420408 368.44898 L 821.093878 367.861224 L 824.767347 367.567347 L 828.440816 366.097959 L 832.114286 365.657143 L 838.726531 364.040816 L 842.4 363.306122 L 846.073469 362.865306 L 849.746939 362.130612 L 853.420408 361.395918 L 857.093878 360.955102 L 860.767347 360.661224 L 867.379592 360.808163 L 874.726531 360.073469 L 878.4 359.338776 L 882.073469 358.897959 L 886.481633 358.310204 L 889.420408 358.163265 L 896.767347 357.281633 L 900.440816 356.693878 L 904.114286 355.812245 L 907.787755 354.783673 L 911.461224 353.755102 L 915.134694 353.020408 L 918.808163 352.726531 L 926.155102 352.432653 L 932.032653 351.697959 L 936.440816 351.55102 L 943.787755 350.37551 L 947.461224 349.640816 L 951.134694 349.053061 L 957.746939 348.171429 L 961.420408 346.995918 L 965.093878 346.555102 L 968.767347 345.820408 L 972.440816 344.35102 L 976.114286 343.616327 L 982.726531 343.028571 L 986.4 342.293878 L 990.073469 341.559184 L 993.746939 341.265306 L 997.420408 340.383673 L 1001.093878 339.64898 L 1004.767347 339.208163 L 1008.440816 337.591837 L 1012.114286 337.004082 L 1015.787755 335.97551 L 1019.461224 335.828571 L 1026.808163 335.681633 L 1030.481633 335.387755 L 1034.155102 334.8 L 1037.828571 334.506122 L 1041.502041 334.065306 L 1045.17551 333.771429 L 1051.787755 333.62449 L 1055.461224 333.036735 L 1062.073469 332.889796 L 1065.746939 332.889796 L 1073.093878 332.595918 L 1080.440816 332.302041 L 1084.114286 332.155102 L 1087.787755 331.714286 L 1091.461224 331.273469 L 1095.134694 331.126531 L 1098.808163 331.420408 L 1101.746939 332.155102 L 1105.420408 332.44898 L 1109.755102 333.477551 L 1112.693878 333.771429 L 1116.367347 333.477551 L 1120.040816 333.771429 L 1127.387755 333.771429 L 1131.061224 333.330612 L 1134.734694 333.036735 L 1138.408163 332.44898 L 1142.081633 331.714286 L 1145.020408 330.832653 L 1149.428571 329.657143 L 1153.102041 328.334694 L 1156.77551 327.012245 L 1159.714286 327.306122 L 1163.387755 328.040816 L 1167.061224 328.187755 L 1170.734694 329.216327 L 1174.408163 330.391837 L 1177.346939 330.391837 L 1181.020408 329.657143 L 1185.428571 329.657143 L 1189.102041 329.363265 L 1192.77551 329.363265 L 1195.714286 329.069388 L 1203.061224 329.216327 L 1206.734694 329.657143 L 1210.408163 331.126531 L 1214.081633 332.44898 L 1217.755102 333.62449 L 1221.428571 335.093878 L 1224.367347 335.97551 L 1228.040816 336.563265 L 1231.714286 336.563265 L 1235.387755 337.15102 L 1239.061224 337.738776 L 1242.734694 338.620408 L 1246.408163 339.355102 L 1250.081633 339.795918 L 1257.428571 340.530612 L 1261.102041 341.118367 L 1264.040816 341.559184 L 1267.714286 341.706122 L 1271.387755 342.293878 L 1275.061224 342.440816 L 1282.408163 342.440816 L 1286.081633 342.881633 L 1289.020408 343.17551 L 1293.428571 343.17551 L 1296.367347 342.734694 L 1300.040816 342.734694 L 1303.714286 343.17551 L 1308.122449 343.322449 L 1312.530612 342.734694 L 1315.469388 342.146939 L 1318.408163 341.559184 L 1322.081633 340.383673 L 1325.755102 338.767347 L 1329.428571 338.179592 L 1332.367347 338.179592 L 1336.040816 337.591837 L 1339.714286 337.297959 L 1343.387755 337.444898 L 1347.061224 337.297959 L 1350.734694 337.297959 L 1354.408163 337.885714 L 1358.081633 337.885714 L 1361.755102 337.591837 L 1369.102041 337.738776 L 1372.77551 337.738776 L 1376.44898 337.15102 L 1383.061224 336.563265 L 1386 336.122449 L 1391.142857 335.534694 L 1394.816327 334.8 L 1398.489796 334.065306 L 1402.163265 333.62449 L 1405.836735 333.477551 L 1408.040816 333.036735 L 1411.714286 333.477551 L 1419.061224 333.918367 L 1426.408163 334.212245 L 1430.081633 334.359184 L 1434.489796 333.918367 L 1438.163265 334.065306 L 1441.754082 333.62449 L 1444.738776 332.967857 L 1448.320408 332.251531 L 1452.49898 331.296429 L 1456.080612 330.162245 L 1459.662245 329.028061 L 1463.243878 328.252041 L 1466.82551 327.595408 L 1470.407143 327.595408 L 1473.988776 328.013265 L 1477.570408 328.132653 L 1481.152041 328.132653 L 1484.733673 327.953571 L 1488.315306 327.595408 L 1492.232727 327.237245" clip-path="url(#pe331e6150c)" style="fill: none; stroke: #131a52; stroke-linecap: square"/>
</g>
<g id="patch_3">
<path d="M 109.4400 530.6400 L 109.4400 148.3200" style="fill: none; stroke: #000000; stroke-width: 0.8; stroke-linejoin: miter; stroke-linecap: square"/>
</g>
<g id="patch_4">
<path d="M 1558.0800 530.6400 L 1558.0800 148.3200" style="fill: none; stroke: #000000; stroke-width: 0.8; stroke-linejoin: miter; stroke-linecap: square"/>
</g>
<g id="patch_5">
<path d="M 109.4400 530.6400 L 1558.0800 530.6400" style="fill: none; stroke: #000000; stroke-width: 0.8; stroke-linejoin: miter; stroke-linecap: square"/>
</g>
<g id="patch_6">
<path d="M 109.4400 148.3200 L 1558.0800 148.3200" style="fill: none; stroke: #000000; stroke-width: 0.8; stroke-linejoin: miter; stroke-linecap: square"/>
</g>
<g id="text_21">
<text style="font-size: 22px; font-family: 'DejaVu Sans', 'Liberation Sans', sans-serif" transform="translate(109.44 119.1095)">Import: positive value</text>
<text style="font-size: 22px; font-family: 'DejaVu Sans', 'Liberation Sans', sans-serif" transform="translate(109.44 143.744688)">Export: negative value</text>
</g>
<g id="text_22">
<text style="font-size: 26.4px; font-family: 'DejaVu Sans', 'Liberation Sans', sans-serif; text-anchor: middle" x="833.76" y="142.32" transform="rotate(-0 833.76 142.32)">Balance in [ME] montenegro</text>
</g>
<g id="legend_1">
<g id="patch_7">
<path d="M 1573.48 456.546875 L 1699.87 456.546875 Q 1704.27 456.546875 1704.27 452.146875 L 1704.27 163.72 Q 1704.27 159.32 1699.87 159.32 L 1573.48 159.32 Q 1569.08 159.32 1569.08 163.72 L 1569.08 452.146875 Q 1569.08 456.546875 1573.48 456.546875 z" style="fill: #ffffff; opacity: 0.8; stroke: #cccccc; stroke-linejoin: miter"/>
</g>
<g id="line2d_90">
<path d="M 1578.0600 177.3000 L 1600.0200 177.3000 L 1621.9800 177.3000" style="fill: none; stroke: #33c433; stroke-linecap: square"/>
</g>
<g id="text_23">
<text style="font-size: 22px; font-family: 'DejaVu Sans', 'Liberation Sans', sans-serif; text-anchor: start" x="1639.48" y="184.836563" transform="rotate(-0 1639.48 184.836563)">2016</text>
</g>
<g id="line2d_91">
<path d="M 1578.0600 209.7000 L 1600.0200 209.7000 L 1621.9800 209.7000" style="fill: none; stroke: #28a228; stroke-linecap: square"/>
</g>
<g id="text_24">
<text style="font-size: 22px; font-family: 'DejaVu Sans', 'Liberation Sans', sans-serif; text-anchor: start" x="1639.48" y="217.128438" transform="rotate(-0 1639.48 217.128438)">2017</text>
</g>
<g id="line2d_92">
<path d="M 1578.0600 241.7400 L 1600.0200 241.7400 L 1621.9800 241.7400" style="fill: none; stroke: #208020; stroke-linecap: square"/>
</g>
<g id="text_25">
<text style="font-size: 22px; font-family: 'DejaVu Sans', 'Liberation Sans', sans-serif; text-anchor: start" x="1639.48" y="249.420313" transform="rotate(-0 1639.48 249.420313)">2018</text>
</g>
<g id="line2d_93">
<path d="M 1578.0600 274.1400 L 1600.0200 274.1400 L 1621.9800 274.1400" style="fill: none; stroke: #145214; stroke-linecap: square"/>
</g>
<g id="text_26">
<text style="font-size: 22px; font-family: 'DejaVu Sans', 'Liberation Sans', sans-serif; text-anchor: start" x="1639.48" y="281.712188" transform="rotate(-0 1639.48 281.712188)">2019</text>
</g>
<g id="line2d_94">
<path d="M 1578.0600 306.5400 L 1600.0200 306.5400 L 1621.9800 306.5400" style="fill: none; stroke: #7c83de; stroke-linecap: square"/>
</g>
<g id="text_27">
<text style="font-size: 22px; font-family: 'DejaVu Sans', 'Liberation Sans', sans-serif; text-anchor: start" x="1639.48" y="314.004063" transform="rotate(-0 1639.48 314.004063)">2020</text>
</g>
<g id="line2d_95">
<path d="M 1578.0600 338.9400 L 1600.0200 338.9400 L 1621.9800 338.9400" style="fill: none; stroke: #4a55d2; stroke-linecap: square"/>
</g>
<g id="text_28">
<text style="font-size: 22px; font-family: 'DejaVu Sans', 'Liberation Sans', sans-serif; text-anchor: start" x="1639.48" y="346.295938" transform="rotate(-0 1639.48 346.295938)">2021</text>
</g>
<g id="line2d_96">
<path d="M 1578.0600 370.9800 L 1600.0200 370.9800 L 1621.9800 370.9800" style="fill: none; stroke: #2b36b4; stroke-linecap: square"/>
</g>
<g id="text_29">
<text style="font-size: 22px; font-family: 'DejaVu Sans', 'Liberation Sans', sans-serif; text-anchor: start" x="1639.48" y="378.587813" transform="rotate(-0 1639.48 378.587813)">2022</text>
</g>
<g id="line2d_97">
<path d="M 1578.0600 403.3800 L 1600.0200 403.3800 L 1621.9800 403.3800" style="fill: none; stroke: #202882; stroke-linecap: square"/>
</g>
<g id="text_30">
<text style="font-size: 22px; font-family: 'DejaVu Sans', 'Liberation Sans', sans-serif; text-anchor: start" x="1639.48" y="410.879688" transform="rotate(-0 1639.48 410.879688)">2023</text>
</g>
<g id="line2d_98">
<path d="M 1578.0600 435.7800 L 1600.0200 435.7800 L 1621.9800 435.7800" style="fill: none; stroke: #131a52; stroke-linecap: square"/>
</g>
<g id="text_31">
<text style="font-size: 22px; font-family: 'DejaVu Sans', 'Liberation Sans', sans-serif; text-anchor: start" x="1639.48" y="443.171563" transform="rotate(-0 1639.48 443.171563)">2024</text>
</g>
</g>
</g>
<g id="axes_2">
<g id="patch_8">
<path d="M 109.44 1045.8 L 716.4 1045.8 L 716.4 663.48 L 109.44 663.48 z" style="fill: #ffffff"/>
</g>
<g id="matplotlib.axis_3">
<g id="xtick_71">
<g id="line2d_99">
<g>
<path d="M 137.1600 1045.8000 L 137.1600 1049.4000" style="stroke: #000000; stroke-width: 0.8"/>
</g>
</g>
<g id="text_32">
<text style="font-size: 22px; font-family: 'DejaVu Sans', 'Liberation Sans', sans-serif" transform="translate(79.378866 1099.240562) rotate(-30)">01-01</text>
</g>
</g>
<g id="xtick_72">
<g id="line2d_100">
<g>
<path d="M 183.9600 1045.8000 L 183.9600 1049.4000" style="stroke: #000000; stroke-width: 0.8"/>
</g>
</g>
<g id="text_33">
<text style="font-size: 22px; font-family: 'DejaVu Sans', 'Liberation Sans', sans-serif" transform="translate(126.242528 1099.240562) rotate(-30)">01-02</text>
</g>
</g>
<g id="xtick_73">
<g id="line2d_101">
<g>
<path d="M 226.0800 1045.8000 L 226.0800 1049.4000" style="stroke: #000000; stroke-width: 0.8"/>
</g>
</g>
<g id="text_34">
<text style="font-size: 22px; font-family: 'DejaVu Sans', 'Liberation Sans', sans-serif" transform="translate(168.570996 1099.240562) rotate(-30)">01-03</text>
</g>
</g>
<g id="xtick_74">
<g id="line2d_102">
<g>
<path d="M 273.2400 1045.8000 L 273.2400 1049.4000" style="stroke: #000000; stroke-width: 0.8"/>
</g>
</g>
<g id="text_35">
<text style="font-size: 22px; font-family: 'DejaVu Sans', 'Liberation Sans', sans-serif" transform="translate(215.434657 1099.240562) rotate(-30)">01-04</text>
</g>
</g>
<g id="xtick_75">
<g id="line2d_103">
<g>
<path d="M 318.6000 1045.8000 L 318.6000 1049.4000" style="stroke: #000000; stroke-width: 0.8"/>
</g>
</g>
<g id="text_36">
<text style="font-size: 22px; font-family: 'DejaVu Sans', 'Liberation Sans', sans-serif" transform="translate(260.786587 1099.240562) rotate(-30)">01-05</text>
</g>
</g>
<g id="xtick_76">
<g id="line2d_104">
<g>
<path d="M 365.4000 1045.8000 L 365.4000 1049.4000" style="stroke: #000000; stroke-width: 0.8"/>
</g>
</g>
<g id="text_37">
<text style="font-size: 22px; font-family: 'DejaVu Sans', 'Liberation Sans', sans-serif" transform="translate(307.650249 1099.240562) rotate(-30)">01-06</text>
</g>
</g>
<g id="xtick_77">
<g id="line2d_105">
<g>
<path d="M 410.7600 1045.8000 L 410.7600 1049.4000" style="stroke: #000000; stroke-width: 0.8"/>
</g>
</g>
<g id="text_38">
<text style="font-size: 22px; font-family: 'DejaVu Sans', 'Liberation Sans', sans-serif" transform="translate(353.002179 1099.240562) rotate(-30)">01-07</text>
</g>
</g>
<g id="xtick_78">
<g id="line2d_106">
<g>
<path d="M 457.5600 1045.8000 L 457.5600 1049.4000" style="stroke: #000000; stroke-width: 0.8"/>
</g>
</g>
<g id="text_39">
<text style="font-size: 22px; font-family: 'DejaVu Sans', 'Liberation Sans', sans-serif" transform="translate(399.86584 1099.240562) rotate(-30)">01-08</text>
</g>
</g>
<g id="xtick_79">
<g id="line2d_107">
<g>
<path d="M 504.3600 1045.8000 L 504.3600 1049.4000" style="stroke: #000000; stroke-width: 0.8"/>
</g>
</g>
<g id="text_40">
<text style="font-size: 22px; font-family: 'DejaVu Sans', 'Liberation Sans', sans-serif" transform="translate(446.729501 1099.240562) rotate(-30)">01-09</text>
</g>
</g>
<g id="xtick_80">
<g id="line2d_108">
<g>
<path d="M 549.7200 1045.8000 L 549.7200 1049.4000" style="stroke: #000000; stroke-width: 0.8"/>
</g>
</g>
<g id="text_41">
<text style="font-size: 22px; font-family: 'DejaVu Sans', 'Liberation Sans', sans-serif" transform="translate(492.081432 1099.240562) rotate(-30)">01-10</text>
</g>
</g>
<g id="xtick_81">
<g id="line2d_109">
<g>
<path d="M 596.5200 1045.8000 L 596.5200 1049.4000" style="stroke: #000000; stroke-width: 0.8"/>
</g>
</g>
<g id="text_42">
<text style="font-size: 22px; font-family: 'DejaVu Sans', 'Liberation Sans', sans-serif" transform="translate(538.945093 1099.240562) rotate(-30)">01-11</text>
</g>
</g>
<g id="xtick_82">
<g id="line2d_110">
<g>
<path d="M 641.8800 1045.8000 L 641.8800 1049.4000" style="stroke: #000000; stroke-width: 0.8"/>
</g>
</g>
<g id="text_43">
<text style="font-size: 22px; font-family: 'DejaVu Sans', 'Liberation Sans', sans-serif" transform="translate(584.297023 1099.240562) rotate(-30)">01-12</text>
</g>
</g>
<g id="xtick_83">
<g id="line2d_111">
<g>
<path d="M 688.6800 1045.8000 L 688.6800 1049.4000" style="stroke: #000000; stroke-width: 0.8"/>
</g>
</g>
<g id="text_44">
<text style="font-size: 22px; font-family: 'DejaVu Sans', 'Liberation Sans', sans-serif" transform="translate(631.160684 1099.240562) rotate(-30)">01-01</text>
</g>
</g>
<g id="xtick_84">
<g id="line2d_112">
<g>
<path d="M 111.2400 1045.8000 L 111.2400 1047.9600" style="stroke: #000000; stroke-width: 0.6"/>
</g>
</g>
</g>
<g id="xtick_85">
<g id="line2d_113">
<g>
<path d="M 122.0400 1045.8000 L 122.0400 1047.9600" style="stroke: #000000; stroke-width: 0.6"/>
</g>
</g>
</g>
<g id="xtick_86">
<g id="line2d_114">
<g>
<path d="M 132.4800 1045.8000 L 132.4800 1047.9600" style="stroke: #000000; stroke-width: 0.6"/>
</g>
</g>
</g>
<g id="xtick_87">
<g id="line2d_115">
<g>
<path d="M 142.9200 1045.8000 L 142.9200 1047.9600" style="stroke: #000000; stroke-width: 0.6"/>
</g>
</g>
</g>
<g id="xtick_88">
<g id="line2d_116">
<g>
<path d="M 153.7200 1045.8000 L 153.7200 1047.9600" style="stroke: #000000; stroke-width: 0.6"/>
</g>
</g>
</g>
<g id="xtick_89">
<g id="line2d_117">
<g>
<path d="M 164.1600 1045.8000 L 164.1600 1047.9600" style="stroke: #000000; stroke-width: 0.6"/>
</g>
</g>
</g>
<g id="xtick_90">
<g id="line2d_118">
<g>
<path d="M 174.9600 1045.8000 L 174.9600 1047.9600" style="stroke: #000000; stroke-width: 0.6"/>
</g>
</g>
</g>
<g id="xtick_91">
<g id="line2d_119">
<g>
<path d="M 185.4000 1045.8000 L 185.4000 1047.9600" style="stroke: #000000; stroke-width: 0.6"/>
</g>
</g>
</g>
<g id="xtick_92">
<g id="line2d_120">
<g>
<path d="M 195.8400 1045.8000 L 195.8400 1047.9600" style="stroke: #000000; stroke-width: 0.6"/>
</g>
</g>
</g>
<g id="xtick_93">
<g id="line2d_121">
<g>
<path d="M 206.6400 1045.8000 L 206.6400 1047.9600" style="stroke: #000000; stroke-width: 0.6"/>
</g>
</g>
</g>
<g id="xtick_94">
<g id="line2d_122">
<g>
<path d="M 217.0800 1045.8000 L 217.0800 1047.9600" style="stroke: #000000; stroke-width: 0.6"/>
</g>
</g>
</g>
<g id="xtick_95">
<g id="line2d_123">
<g>
<path d="M 227.8800 1045.8000 L 227.8800 1047.9600" style="stroke: #000000; stroke-width: 0.6"/>
</g>
</g>
</g>
<g id="xtick_96">
<g id="line2d_124">
<g>
<path d="M 238.3200 1045.8000 L 238.3200 1047.9600" style="stroke: #000000; stroke-width: 0.6"/>
</g>
</g>
</g>
<g id="xtick_97">
<g id="line2d_125">
<g>
<path d="M 248.7600 1045.8000 L 248.7600 1047.9600" style="stroke: #000000; stroke-width: 0.6"/>
</g>
</g>
</g>
<g id="xtick_98">
<g id="line2d_126">
<g>
<path d="M 259.5600 1045.8000 L 259.5600 1047.9600" style="stroke: #000000; stroke-width: 0.6"/>
</g>
</g>
</g>
<g id="xtick_99">
<g id="line2d_127">
<g>
<path d="M 270.0000 1045.8000 L 270.0000 1047.9600" style="stroke: #000000; stroke-width: 0.6"/>
</g>
</g>
</g>
<g id="xtick_100">
<g id="line2d_128">
<g>
<path d="M 280.8000 1045.8000 L 280.8000 1047.9600" style="stroke: #000000; stroke-width: 0.6"/>
</g>
</g>
</g>
<g id="xtick_101">
<g id="line2d_129">
<g>
<path d="M 291.2400 1045.8000 L 291.2400 1047.9600" style="stroke: #000000; stroke-width: 0.6"/>
</g>
</g>
</g>
<g id="xtick_102">
<g id="line2d_130">
<g>
<path d="M 301.6800 1045.8000 L 301.6800 1047.9600" style="stroke: #000000; stroke-width: 0.6"/>
</g>
</g>
</g>
<g id="xtick_103">
<g id="line2d_131">
<g>
<path d="M 312.4800 1045.8000 L 312.4800 1047.9600" style="stroke: #000000; stroke-width: 0.6"/>
</g>
</g>
</g>
<g id="xtick_104">
<g id="line2d_132">
<g>
<path d="M 322.9200 1045.8000 L 322.9200 1047.9600" style="stroke: #000000; stroke-width: 0.6"/>
</g>
</g>
</g>
<g id="xtick_105">
<g id="line2d_133">
<g>
<path d="M 333.7200 1045.8000 L 333.7200 1047.9600" style="stroke: #000000; stroke-width: 0.6"/>
</g>
</g>
</g>
<g id="xtick_106">
<g id="line2d_134">
<g>
<path d="M 344.1600 1045.8000 L 344.1600 1047.9600" style="stroke: #000000; stroke-width: 0.6"/>
</g>
</g>
</g>
<g id="xtick_107">
<g id="line2d_135">
<g>
<path d="M 354.6000 1045.8000 L 354.6000 1047.9600" style="stroke: #000000; stroke-width: 0.6"/>
</g>
</g>
</g>
<g id="xtick_108">
<g id="line2d_136">
<g>
<path d="M 375.8400 1045.8000 L 375.8400 1047.9600" style="stroke: #000000; stroke-width: 0.6"/>
</g>
</g>
</g>
<g id="xtick_109">
<g id="line2d_137">
<g>
<path d="M 386.6400 1045.8000 L 386.6400 1047.9600" style="stroke: #000000; stroke-width: 0.6"/>
</g>
</g>
</g>
<g id="xtick_110">
<g id="line2d_138">
<g>
<path d="M 397.0800 1045.8000 L 397.0800 1047.9600" style="stroke: #000000; stroke-width: 0.6"/>
</g>
</g>
</g>
<g id="xtick_111">
<g id="line2d_139">
<g>
<path d="M 407.5200 1045.8000 L 407.5200 1047.9600" style="stroke: #000000; stroke-width: 0.6"/>
</g>
</g>
</g>
<g id="xtick_112">
<g id="line2d_140">
<g>
<path d="M 418.3200 1045.8000 L 418.3200 1047.9600" style="stroke: #000000; stroke-width: 0.6"/>
</g>
</g>
</g>
<g id="xtick_113">
<g id="line2d_141">
<g>
<path d="M 428.7600 1045.8000 L 428.7600 1047.9600" style="stroke: #000000; stroke-width: 0.6"/>
</g>
</g>
</g>
<g id="xtick_114">
<g id="line2d_142">
<g>
<path d="M 439.2000 1045.8000 L 439.2000 1047.9600" style="stroke: #000000; stroke-width: 0.6"/>
</g>
</g>
</g>
<g id="xtick_115">
<g id="line2d_143">
<g>
<path d="M 450.0000 1045.8000 L 450.0000 1047.9600" style="stroke: #000000; stroke-width: 0.6"/>
</g>
</g>
</g>
<g id="xtick_116">
<g id="line2d_144">
<g>
<path d="M 460.4400 1045.8000 L 460.4400 1047.9600" style="stroke: #000000; stroke-width: 0.6"/>
</g>
</g>
</g>
<g id="xtick_117">
<g id="line2d_145">
<g>
<path d="M 471.2400 1045.8000 L 471.2400 1047.9600" style="stroke: #000000; stroke-width: 0.6"/>
</g>
</g>
</g>
<g id="xtick_118">
<g id="line2d_146">
<g>
<path d="M 481.6800 1045.8000 L 481.6800 1047.9600" style="stroke: #000000; stroke-width: 0.6"/>
</g>
</g>
</g>
<g id="xtick_119">
<g id="line2d_147">
<g>
<path d="M 492.1200 1045.8000 L 492.1200 1047.9600" style="stroke: #000000; stroke-width: 0.6"/>
</g>
</g>
</g>
<g id="xtick_120">
<g id="line2d_148">
<g>
<path d="M 502.9200 1045.8000 L 502.9200 1047.9600" style="stroke: #000000; stroke-width: 0.6"/>
</g>
</g>
</g>
<g id="xtick_121">
<g id="line2d_149">
<g>
<path d="M 513.3600 1045.8000 L 513.3600 1047.9600" style="stroke: #000000; stroke-width: 0.6"/>
</g>
</g>
</g>
<g id="xtick_122">
<g id="line2d_150">
<g>
<path d="M 524.1600 1045.8000 L 524.1600 1047.9600" style="stroke: #000000; stroke-width: 0.6"/>
</g>
</g>
</g>
<g id="xtick_123">
<g id="line2d_151">
<g>
<path d="M 534.6000 1045.8000 L 534.6000 1047.9600" style="stroke: #000000; stroke-width: 0.6"/>
</g>
</g>
</g>
<g id="xtick_124">
<g id="line2d_152">
<g>
<path d="M 545.0400 1045.8000 L 545.0400 1047.9600" style="stroke: #000000; stroke-width: 0.6"/>
</g>
</g>
</g>
<g id="xtick_125">
<g id="line2d_153">
<g>
<path d="M 555.8400 1045.8000 L 555.8400 1047.9600" style="stroke: #000000; stroke-width: 0.6"/>
</g>
</g>
</g>
<g id="xtick_126">
<g id="line2d_154">
<g>
<path d="M 566.2800 1045.8000 L 566.2800 1047.9600" style="stroke: #000000; stroke-width: 0.6"/>
</g>
</g>
</g>
<g id="xtick_127">
<g id="line2d_155">
<g>
<path d="M 577.0800 1045.8000 L 577.0800 1047.9600" style="stroke: #000000; stroke-width: 0.6"/>
</g>
</g>
</g>
<g id="xtick_128">
<g id="line2d_156">
<g>
<path d="M 587.5200 1045.8000 L 587.5200 1047.9600" style="stroke: #000000; stroke-width: 0.6"/>
</g>
</g>
</g>
<g id="xtick_129">
<g id="line2d_157">
<g>
<path d="M 597.9600 1045.8000 L 597.9600 1047.9600" style="stroke: #000000; stroke-width: 0.6"/>
</g>
</g>
</g>
<g id="xtick_130">
<g id="line2d_158">
<g>
<path d="M 608.7600 1045.8000 L 608.7600 1047.9600" style="stroke: #000000; stroke-width: 0.6"/>
</g>
</g>
</g>
<g id="xtick_131">
<g id="line2d_159">
<g>
<path d="M 619.2000 1045.8000 L 619.2000 1047.9600" style="stroke: #000000; stroke-width: 0.6"/>
</g>
</g>
</g>
<g id="xtick_132">
<g id="line2d_160">
<g>
<path d="M 630.0000 1045.8000 L 630.0000 1047.9600" style="stroke: #000000; stroke-width: 0.6"/>
</g>
</g>
</g>
<g id="xtick_133">
<g id="line2d_161">
<g>
<path d="M 640.4400 1045.8000 L 640.4400 1047.9600" style="stroke: #000000; stroke-width: 0.6"/>
</g>
</g>
</g>
<g id="xtick_134">
<g id="line2d_162">
<g>
<path d="M 650.8800 1045.8000 L 650.8800 1047.9600" style="stroke: #000000; stroke-width: 0.6"/>
</g>
</g>
</g>
<g id="xtick_135">
<g id="line2d_163">
<g>
<path d="M 661.6800 1045.8000 L 661.6800 1047.9600" style="stroke: #000000; stroke-width: 0.6"/>
</g>
</g>
</g>
<g id="xtick_136">
<g id="line2d_164">
<g>
<path d="M 672.1200 1045.8000 L 672.1200 1047.9600" style="stroke: #000000; stroke-width: 0.6"/>
</g>
</g>
</g>
<g id="xtick_137">
<g id="line2d_165">
<g>
<path d="M 682.9200 1045.8000 L 682.9200 1047.9600" style="stroke: #000000; stroke-width: 0.6"/>
</g>
</g>
</g>
<g id="xtick_138">
<g id="line2d_166">
<g>
<path d="M 693.3600 1045.8000 L 693.3600 1047.9600" style="stroke: #000000; stroke-width: 0.6"/>
</g>
</g>
</g>
<g id="xtick_139">
<g id="line2d_167">
<g>
<path d="M 703.8000 1045.8000 L 703.8000 1047.9600" style="stroke: #000000; stroke-width: 0.6"/>
</g>
</g>
</g>
<g id="xtick_140">
<g id="line2d_168">
<g>
<path d="M 714.6000 1045.8000 L 714.6000 1047.9600" style="stroke: #000000; stroke-width: 0.6"/>
</g>
</g>
</g>
<g id="text_45">
<text style="font-size: 22px; font-family: 'DejaVu Sans', 'Liberation Sans', sans-serif; text-anchor: middle" x="412.92" y="1123.919461" transform="rotate(-0 412.92 1123.919461)">Day</text>
</g>
</g>
<g id="matplotlib.axis_4">
<g id="ytick_6">
<g id="line2d_169">
<path d="M 109.4400 1028.8800 L 716.4000 1028.8800" clip-path="url(#pa2340ae78a)" style="fill: none; stroke: #b0b0b0; stroke-width: 0.8; stroke-linecap: square"/>
</g>
<g id="line2d_170">
<g>
<path d="M 109.4400 1028.8800 L 105.8400 1028.8800" style="stroke: #000000; stroke-width: 0.8"/>
</g>
</g>
<g id="text_46">
<text style="font-size: 22px; font-family: 'DejaVu Sans', 'Liberation Sans', sans-serif; text-anchor: end" x="102.44" y="1037.238281" transform="rotate(-0 102.44 1037.238281)">0</text>
</g>
</g>
<g id="ytick_7">
<g id="line2d_171">
<path d="M 109.4400 973.0800 L 716.4000 973.0800" clip-path="url(#pa2340ae78a)" style="fill: none; stroke: #b0b0b0; stroke-width: 0.8; stroke-linecap: square"/>
</g>
<g id="line2d_172">
<g>
<path d="M 109.4400 973.0800 L 105.8400 973.0800" style="stroke: #000000; stroke-width: 0.8"/>
</g>
</g>
<g id="text_47">
<text style="font-size: 22px; font-family: 'DejaVu Sans', 'Liberation Sans', sans-serif; text-anchor: end" x="102.44" y="981.377081" transform="rotate(-0 102.44 981.377081)">1</text>
</g>
</g>
<g id="ytick_8">
<g id="line2d_173">
<path d="M 109.4400 917.2800 L 716.4000 917.2800" clip-path="url(#pa2340ae78a)" style="fill: none; stroke: #b0b0b0; stroke-width: 0.8; stroke-linecap: square"/>
</g>
<g id="line2d_174">
<g>
<path d="M 109.4400 917.2800 L 105.8400 917.2800" style="stroke: #000000; stroke-width: 0.8"/>
</g>
</g>
<g id="text_48">
<text style="font-size: 22px; font-family: 'DejaVu Sans', 'Liberation Sans', sans-serif; text-anchor: end" x="102.44" y="925.515881" transform="rotate(-0 102.44 925.515881)">2</text>
</g>
</g>
<g id="ytick_9">
<g id="line2d_175">
<path d="M 109.4400 861.1200 L 716.4000 861.1200" clip-path="url(#pa2340ae78a)" style="fill: none; stroke: #b0b0b0; stroke-width: 0.8; stroke-linecap: square"/>
</g>
<g id="line2d_176">
<g>
<path d="M 109.4400 861.1200 L 105.8400 861.1200" style="stroke: #000000; stroke-width: 0.8"/>
</g>
</g>
<g id="text_49">
<text style="font-size: 22px; font-family: 'DejaVu Sans', 'Liberation Sans', sans-serif; text-anchor: end" x="102.44" y="869.654681" transform="rotate(-0 102.44 869.654681)">3</text>
</g>
</g>
<g id="ytick_10">
<g id="line2d_177">
<path d="M 109.4400 805.3200 L 716.4000 805.3200" clip-path="url(#pa2340ae78a)" style="fill: none; stroke: #b0b0b0; stroke-width: 0.8; stroke-linecap: square"/>
</g>
<g id="line2d_178">
<g>
<path d="M 109.4400 805.3200 L 105.8400 805.3200" style="stroke: #000000; stroke-width: 0.8"/>
</g>
</g>
<g id="text_50">
<text style="font-size: 22px; font-family: 'DejaVu Sans', 'Liberation Sans', sans-serif; text-anchor: end" x="102.44" y="813.793481" transform="rotate(-0 102.44 813.793481)">4</text>
</g>
</g>
<g id="ytick_11">
<g id="line2d_179">
<path d="M 109.4400 749.5200 L 716.4000 749.5200" clip-path="url(#pa2340ae78a)" style="fill: none; stroke: #b0b0b0; stroke-width: 0.8; stroke-linecap: square"/>
</g>
<g id="line2d_180">
<g>
<path d="M 109.4400 749.5200 L 105.8400 749.5200" style="stroke: #000000; stroke-width: 0.8"/>
</g>
</g>
<g id="text_51">
<text style="font-size: 22px; font-family: 'DejaVu Sans', 'Liberation Sans', sans-serif; text-anchor: end" x="102.44" y="757.932281" transform="rotate(-0 102.44 757.932281)">5</text>
</g>
</g>
<g id="ytick_12">
<g id="line2d_181">
<path d="M 109.4400 693.7200 L 716.4000 693.7200" clip-path="url(#pa2340ae78a)" style="fill: none; stroke: #b0b0b0; stroke-width: 0.8; stroke-linecap: square"/>
</g>
<g id="line2d_182">
<g>
<path d="M 109.4400 693.7200 L 105.8400 693.7200" style="stroke: #000000; stroke-width: 0.8"/>
</g>
</g>
<g id="text_52">
<text style="font-size: 22px; font-family: 'DejaVu Sans', 'Liberation Sans', sans-serif; text-anchor: end" x="102.44" y="702.071081" transform="rotate(-0 102.44 702.071081)">6</text>
</g>
</g>
<g id="text_53">
<text style="font-size: 22px; font-family: 'DejaVu Sans', 'Liberation Sans', sans-serif; text-anchor: middle" x="79.867188" y="854.64" transform="rotate(-90 79.867188 854.64)">interconnexion import [TWh]</text>
</g>
</g>
<g id="line2d_183">
<path d="M 137.029091 1028.524825 L 145.444898 1025.708462 L 155.240816 1022.769649 L 165.036735 1019.341034 L 172.383673 1017.749177 L 178.506122 1016.27977 L 188.302041 1013.585858 L 196.873469 1011.7491 L 204.220408 1010.402144 L 210.342857 1008.932738 L 216.465306 1007.340881 L 223.812245 1005.259221 L 229.934694 1003.789815 L 236.057143 1002.320408 L 243.404082 999.748947 L 249.526531 998.279541 L 255.64898 996.932585 L 261.771429 995.463178 L 267.893878 993.993772 L 274.016327 992.157013 L 278.914286 990.932508 L 285.036735 989.340651 L 291.159184 987.503893 L 294.832653 986.89164 L 299.730612 985.667135 L 307.077551 984.075278 L 314.42449 981.993618 L 322.995918 979.544608 L 331.567347 977.340498 L 340.138776 975.258839 L 347.485714 973.789432 L 353.608163 972.197575 L 359.730612 970.728168 L 365.853061 969.381213 L 371.97551 968.156707 L 378.097959 966.932202 L 384.220408 965.462795 L 390.342857 964.23829 L 394.016327 963.626037 L 401.363265 962.401532 L 406.261224 960.932125 L 411.159184 959.585169 L 415.444898 958.287837 L 419.118367 957.308232 L 422.791837 956.083727 L 426.465306 954.859221 L 431.363265 954.246969 L 435.036735 952.777562 L 438.710204 951.430606 L 442.383673 950.206101 L 447.281633 948.369343 L 450.955102 947.512189 L 454.628571 946.532585 L 458.302041 945.063178 L 464.42449 943.471321 L 468.097959 942.246816 L 472.995918 940.777409 L 476.669388 938.940651 L 480.342857 937.471244 L 485.240816 935.879387 L 488.914286 934.042629 L 492.587755 932.818124 L 496.261224 931.593618 L 499.934694 930.614014 L 503.608163 929.879311 L 507.281633 929.144608 L 510.955102 927.920102 L 514.628571 927.062948 L 518.302041 926.328245 L 520.75102 925.471091 L 524.42449 924.613937 L 528.097959 923.879234 L 531.771429 922.777179 L 536.669388 922.042476 L 539.118367 921.430223 L 542.791837 920.205718 L 546.465306 919.593465 L 550.138776 918.124059 L 555.036735 916.654652 L 558.710204 916.042399 L 561.159184 915.430147 L 563.608163 914.817894 L 568.506122 914.083191 L 572.179592 913.226037 L 574.628571 912.858685 L 579.526531 912.001532 L 583.2 911.389279 L 586.873469 911.021927 L 591.771429 910.164773 L 595.444898 909.30762 L 599.118367 908.572916 L 602.791837 907.960664 L 605.240816 907.10351 L 610.138776 906.491257 L 613.812245 905.634103 L 617.485714 904.654499 L 621.159184 903.797345 L 624.832653 903.185093 L 630.955102 901.838137 L 635.853061 900.36873 L 640.75102 899.144225 L 644.42449 898.287071 L 649.322449 897.307466 L 654.220408 896.327862 L 659.118367 895.103357 L 664.016327 894.001302 L 667.689796 893.021698 L 671.363265 892.042093 L 676.261224 890.940038 L 679.934694 889.960434 L 683.608163 888.98083 L 686.057143 888.123676 L 688.810909 887.144071" clip-path="url(#pa2340ae78a)" style="fill: none; stroke: #33c433; stroke-linecap: square"/>
</g>
<g id="line2d_184">
<path d="M 137.029091 1028.524825 L 145.444898 1026.320715 L 155.240816 1024.483957 L 160.138776 1022.647198 L 167.485714 1020.565539 L 174.832653 1018.728781 L 182.179592 1016.892023 L 189.526531 1015.667518 L 196.873469 1013.585858 L 204.220408 1011.994001 L 212.791837 1010.157243 L 218.914286 1008.932738 L 224.42449 1007.463331 L 229.934694 1006.116375 L 236.057143 1004.646969 L 243.404082 1003.055112 L 249.526531 1001.830606 L 255.64898 1000.3612 L 261.771429 999.136694 L 267.893878 997.912189 L 274.016327 996.932585 L 280.138776 996.075431 L 286.261224 994.850925 L 293.608163 993.62642 L 298.506122 992.034563 L 304.628571 990.565156 L 308.302041 989.340651 L 314.42449 987.503893 L 319.322449 985.667135 L 324.220408 984.075278 L 329.118367 982.605871 L 335.240816 981.136465 L 341.363265 979.299706 L 347.485714 977.462948 L 351.159184 975.62619 L 356.057143 974.034333 L 360.955102 972.442476 L 365.853061 970.728168 L 370.75102 968.89141 L 375.64898 967.054652 L 380.546939 965.217894 L 385.444898 963.381136 L 390.342857 961.544378 L 395.240816 959.70762 L 400.138776 958.115763 L 405.036735 956.646356 L 409.934694 955.054499 L 414.220408 953.022463 L 419.118367 951.553057 L 424.016327 949.716299 L 427.689796 948.736694 L 431.363265 947.512189 L 435.036735 945.920332 L 438.710204 944.695826 L 442.383673 943.471321 L 445.444898 942.001914 L 449.730612 940.532508 L 453.404082 939.308003 L 455.853061 938.328398 L 459.526531 937.103893 L 463.2 936.124288 L 466.873469 934.654882 L 470.546939 933.185475 L 474.220408 931.838519 L 476.669388 930.736465 L 481.567347 928.899706 L 485.240816 927.55275 L 488.914286 925.471091 L 492.587755 924.246586 L 496.261224 923.02208 L 498.710204 922.042476 L 502.383673 920.817971 L 506.057143 919.715916 L 509.730612 918.124059 L 513.404082 916.899553 L 515.853061 916.042399 L 519.526531 914.083191 L 523.2 912.858685 L 526.873469 911.389279 L 530.546939 909.797422 L 534.220408 908.572916 L 537.893878 907.348411 L 541.567347 905.634103 L 545.240816 904.409598 L 548.914286 902.940191 L 552.587755 901.593235 L 556.261224 900.36873 L 558.710204 899.756477 L 562.383673 898.531972 L 566.057143 897.919719 L 569.730612 897.062565 L 572.179592 896.327862 L 575.853061 895.715609 L 580.75102 894.858456 L 584.42449 894.001302 L 586.873469 893.389049 L 590.546939 892.776796 L 595.444898 891.42984 L 599.118367 890.205335 L 602.791837 889.593082 L 606.465306 888.368577 L 610.138776 887.266522 L 613.812245 885.919566 L 616.261224 885.062412 L 619.934694 884.45016 L 623.608163 883.593006 L 627.281633 882.3685 L 632.179592 881.021544 L 635.853061 879.552138 L 638.302041 878.939885 L 641.97551 878.327632 L 648.097959 877.103127 L 651.771429 876.245973 L 655.444898 875.021468 L 657.893878 874.409215 L 661.567347 873.796962 L 665.240816 872.817358 L 668.914286 871.592853 L 672.587755 870.9806 L 676.261224 869.388743 L 678.710204 868.164237 L 681.159184 867.919336 L 684.832653 866.327479 L 688.810909 864.735622" clip-path="url(#pa2340ae78a)" style="fill: none; stroke: #28a228; stroke-linecap: square"/>
</g>
<g id="line2d_185">
<path d="M 137.029091 1028.524825 L 145.444898 1026.075814 L 155.240816 1023.381902 L 165.036735 1019.953287 L 172.383673 1018.361429 L 178.506122 1016.892023 L 188.302041 1014.198111 L 196.873469 1012.606254 L 204.220408 1011.136847 L 212.791837 1009.54499 L 218.914286 1008.320485 L 224.42449 1006.728628 L 229.934694 1005.626573 L 236.057143 1003.789815 L 243.404082 1002.197958 L 249.526531 1000.728551 L 255.64898 999.136694 L 261.771429 997.667288 L 269.118367 995.83053 L 274.016327 994.606024 L 280.138776 993.014167 L 285.036735 991.544761 L 291.159184 989.952904 L 297.281633 988.361047 L 303.404082 986.89164 L 309.526531 985.422234 L 315.64898 983.830377 L 320.546939 982.36097 L 326.669388 980.769113 L 332.791837 978.932355 L 338.914286 977.462948 L 345.036735 975.871091 L 351.159184 974.034333 L 357.281633 972.442476 L 363.404082 970.97307 L 369.526531 969.748564 L 375.64898 968.76896 L 381.771429 967.911806 L 387.893878 967.054652 L 394.016327 965.830147 L 401.363265 964.483191 L 408.710204 963.258685 L 414.220408 962.573606 L 419.118367 961.838902 L 422.791837 960.736847 L 426.465306 960.124595 L 430.138776 959.14499 L 433.812245 957.920485 L 437.485714 957.185782 L 441.159184 956.328628 L 444.832653 955.226573 L 450.955102 954.002068 L 454.628571 953.022463 L 458.302041 952.16531 L 461.97551 951.185705 L 465.64898 949.9612 L 469.322449 949.104046 L 472.995918 948.124442 L 476.669388 946.899936 L 481.567347 945.675431 L 486.465306 944.450925 L 490.138776 943.838673 L 493.812245 942.981519 L 497.485714 942.001914 L 499.934694 941.634563 L 503.608163 940.532508 L 507.281633 939.552904 L 510.955102 938.940651 L 514.628571 938.328398 L 518.302041 937.471244 L 521.97551 936.858992 L 525.64898 936.49164 L 529.322449 935.879387 L 532.995918 935.267135 L 536.669388 934.777332 L 541.567347 934.042629 L 546.465306 933.430377 L 551.363265 932.818124 L 556.261224 932.205871 L 559.934694 931.348717 L 563.608163 930.736465 L 567.281633 930.124212 L 572.179592 929.144608 L 575.853061 928.532355 L 579.526531 927.920102 L 583.2 926.940498 L 586.873469 926.083344 L 590.546939 925.22619 L 594.220408 923.879234 L 597.893878 922.654729 L 601.567347 921.185322 L 604.016327 920.57307 L 607.689796 919.593465 L 611.363265 918.36896 L 613.812245 917.266905 L 617.485714 915.919949 L 621.159184 914.817894 L 623.608163 913.83829 L 626.057143 912.981136 L 629.730612 912.613784 L 633.404082 911.63418 L 637.077551 910.777026 L 640.75102 909.797422 L 643.2 909.30762 L 646.873469 908.083114 L 650.546939 907.10351 L 652.995918 906.491257 L 655.444898 905.021851 L 659.118367 903.797345 L 662.791837 902.450389 L 665.240816 901.593235 L 668.914286 901.225884 L 672.587755 900.36873 L 675.036735 899.511576 L 677.485714 898.531972 L 681.159184 897.307466 L 684.832653 896.082961 L 688.810909 894.613555" clip-path="url(#pa2340ae78a)" style="fill: none; stroke: #208020; stroke-linecap: square"/>
</g>
<g id="line2d_186">
<path d="M 137.029091 1028.524825 L 145.444898 1025.463561 L 155.240816 1021.790045 L 165.036735 1018.48388 L 172.383673 1017.259375 L 178.506122 1015.667518 L 188.302041 1013.463408 L 196.873469 1011.994001 L 204.220408 1010.524595 L 212.791837 1008.932738 L 218.914286 1007.463331 L 224.42449 1006.238826 L 228.710204 1005.626573 L 234.832653 1003.789815 L 240.955102 1001.585705 L 245.853061 999.993848 L 251.97551 998.15709 L 258.097959 996.687683 L 262.995918 995.218277 L 269.118367 993.259068 L 274.016327 991.544761 L 277.689796 989.708003 L 281.363265 987.871244 L 285.036735 986.279387 L 287.485714 985.667135 L 292.383673 983.585475 L 298.506122 981.381366 L 303.404082 979.299706 L 307.077551 977.340498 L 311.97551 975.50374 L 316.873469 973.42208 L 320.546939 971.952674 L 324.220408 969.993465 L 327.893878 968.89141 L 331.567347 967.299553 L 336.465306 965.707696 L 341.363265 964.483191 L 345.036735 963.381136 L 348.710204 961.789279 L 352.383673 960.197422 L 357.281633 958.360664 L 360.955102 957.258609 L 364.628571 955.666752 L 368.302041 953.829994 L 370.75102 952.360587 L 374.42449 951.625884 L 379.322449 950.156477 L 384.220408 948.687071 L 389.118367 947.095214 L 394.016327 945.258456 L 398.914286 943.054346 L 402.587755 941.584939 L 407.485714 940.115533 L 415.444898 937.716146 L 419.118367 936.49164 L 422.791837 934.899783 L 426.465306 932.818124 L 431.363265 930.369113 L 435.036735 928.777256 L 438.710204 927.062948 L 442.383673 925.10374 L 446.057143 923.634333 L 449.730612 922.654729 L 453.404082 920.205718 L 458.302041 917.266905 L 463.2 913.83829 L 468.097959 911.144378 L 471.771429 908.572916 L 474.220408 906.858609 L 476.669388 905.634103 L 480.342857 902.817741 L 482.791837 901.348334 L 486.465306 899.389126 L 488.914286 898.16462 L 492.587755 897.062565 L 496.261224 894.613555 L 499.934694 893.389049 L 504.832653 892.164544 L 508.506122 891.184939 L 513.404082 889.470632 L 517.077551 887.266522 L 519.526531 885.674665 L 521.97551 884.45016 L 525.64898 882.001149 L 528.097959 880.409292 L 530.546939 879.307237 L 532.995918 877.960281 L 536.669388 875.878622 L 539.118367 874.409215 L 541.567347 873.18471 L 545.240816 871.960204 L 548.914286 870.123446 L 552.587755 869.143842 L 556.261224 867.919336 L 558.710204 866.694831 L 561.159184 865.202451 L 567.281633 863.365692 L 572.179592 861.406484 L 577.077551 859.569726 L 580.75102 857.488066 L 584.42449 856.01866 L 586.873469 854.671704 L 590.546939 852.957396 L 595.444898 851.365539 L 597.893878 849.773682 L 601.567347 847.692023 L 604.016327 846.100166 L 607.689796 844.630759 L 611.363265 842.5491 L 613.812245 840.957243 L 617.485714 839.120485 L 621.159184 836.426573 L 623.608163 834.467364 L 625.444898 834.467364 L 629.730612 832.385705 L 632.179592 830.548947 L 635.853061 828.712189 L 638.302041 826.875431 L 641.97551 824.671321 L 645.036735 822.957013 L 646.873469 821.365156 L 650.546939 819.283497 L 654.220408 817.079387 L 657.893878 814.875278 L 661.567347 812.426267 L 665.240816 809.120102 L 667.689796 806.671091 L 670.75102 803.364927 L 673.812245 800.303663 L 677.485714 797.854652 L 679.934694 795.895444 L 682.383673 794.426037 L 684.832653 792.589279 L 687.281633 790.997422 L 688.810909 789.772916" clip-path="url(#pa2340ae78a)" style="fill: none; stroke: #145214; stroke-linecap: square"/>
</g>
<g id="line2d_187">
<path d="M 137.029091 1028.524825 L 142.995918 1022.402297 L 150.342857 1016.27977 L 154.016327 1011.994001 L 157.689796 1008.687837 L 160.75102 1004.646969 L 164.42449 999.381595 L 169.934694 994.238673 L 173.608163 989.340651 L 175.444898 988.116146 L 180.955102 980.769113 L 184.628571 977.095597 L 188.302041 972.564927 L 191.363265 969.748564 L 194.42449 968.279158 L 198.097959 964.850542 L 201.159184 961.789279 L 204.832653 957.870862 L 209.730612 953.217741 L 212.791837 949.544225 L 215.853061 946.482961 L 218.914286 944.156401 L 220.75102 942.564544 L 223.812245 940.360434 L 226.873469 937.29917 L 229.934694 936.319566 L 234.832653 933.993006 L 238.506122 932.156248 L 243.404082 929.707237 L 245.853061 928.850083 L 249.526531 926.890874 L 253.2 925.666369 L 256.873469 923.829611 L 261.771429 921.3806 L 267.893878 917.829534 L 272.791837 915.135622 L 278.914286 910.727403 L 283.812245 908.523293 L 288.710204 905.829381 L 294.832653 903.013019 L 300.342857 899.461953 L 302.179592 898.972151 L 305.853061 896.890491 L 310.75102 894.441481 L 315.64898 891.747569 L 319.322449 889.298558 L 322.995918 887.4618 L 327.893878 885.25769 L 331.567347 883.298481 L 334.016327 881.584174 L 336.465306 880.72702 L 340.138776 878.52291 L 346.261224 874.849394 L 349.934694 872.155482 L 353.608163 870.196273 L 359.730612 866.522757 L 365.853061 863.216592 L 368.302041 861.379834 L 373.2 858.563472 L 378.097959 855.624659 L 382.995918 852.808296 L 386.669388 850.726637 L 390.342857 849.13478 L 396.465306 845.828615 L 402.587755 842.767352 L 414.220408 836.916375 L 417.893878 834.834716 L 421.567347 832.997958 L 425.240816 832.018354 L 428.914286 830.304046 L 431.363265 829.569343 L 436.261224 827.242782 L 439.934694 825.283574 L 443.608163 823.569266 L 447.281633 821.732508 L 450.955102 819.283497 L 455.853061 816.467135 L 459.526531 814.263025 L 463.2 812.181366 L 466.873469 809.732355 L 470.546939 807.650696 L 474.220408 806.058839 L 477.893878 803.977179 L 481.567347 802.017971 L 485.240816 799.936311 L 488.914286 797.487301 L 492.587755 795.283191 L 496.261224 793.201532 L 499.934694 791.364773 L 502.383673 790.140268 L 506.057143 788.548411 L 509.730612 786.466752 L 513.404082 784.262642 L 517.077551 782.548334 L 520.75102 780.956477 L 524.42449 778.507466 L 528.097959 777.282961 L 531.771429 775.446203 L 534.220408 773.854346 L 537.893878 772.384939 L 541.567347 770.793082 L 545.240816 769.935929 L 548.914286 768.711423 L 552.587755 767.486918 L 555.036735 766.507313 L 558.710204 765.282808 L 562.383673 763.813401 L 564.832653 762.588896 L 567.281633 761.364391 L 569.730612 760.997039 L 572.179592 759.894984 L 575.853061 758.303127 L 579.526531 756.466369 L 581.97551 755.486765 L 585.64898 753.405105 L 589.322449 750.711193 L 592.995918 747.894831 L 596.669388 745.44582 L 600.342857 742.629458 L 604.016327 740.180447 L 606.465306 738.466139 L 608.914286 736.874282 L 611.363265 735.404876 L 613.812245 734.05792 L 617.485714 731.731359 L 619.934694 729.772151 L 622.383673 728.057843 L 624.832653 726.710887 L 627.281633 725.241481 L 629.730612 724.261876 L 633.404082 722.180217 L 637.077551 720.098558 L 640.75102 717.649547 L 643.2 716.669943 L 645.64898 715.200536 L 648.097959 713.608679 L 650.546939 711.52702 L 654.220408 708.710657 L 657.893878 706.873899 L 661.567347 704.424888 L 664.016327 703.567735 L 667.689796 701.608526 L 671.363265 698.914614 L 675.036735 695.85335 L 678.710204 692.792087 L 681.159184 691.32268 L 683.608163 689.975724 L 686.057143 689.118571 L 688.810909 687.649164" clip-path="url(#pa2340ae78a)" style="fill: none; stroke: #7c83de; stroke-linecap: square"/>
</g>
<g id="line2d_188">
<path d="M 137.029091 1028.524825 L 145.444898 1023.01455 L 152.791837 1019.953287 L 158.914286 1017.504276 L 163.812245 1015.300166 L 168.710204 1013.830759 L 173.608163 1011.136847 L 178.506122 1007.708232 L 182.179592 1006.483727 L 185.853061 1004.034716 L 190.138776 1001.585705 L 195.64898 998.279541 L 199.934694 996.075431 L 204.220408 993.62642 L 207.893878 992.157013 L 212.791837 989.708003 L 218.914286 986.646739 L 224.42449 983.830377 L 227.485714 983.218124 L 231.159184 981.381366 L 237.281633 977.707849 L 243.404082 975.013937 L 249.526531 972.197575 L 253.812245 969.993465 L 258.097959 967.544454 L 261.771429 966.56485 L 265.444898 964.850542 L 269.118367 963.013784 L 272.791837 960.809675 L 277.689796 957.993312 L 282.587755 954.809598 L 286.261224 952.360587 L 289.934694 949.544225 L 293.608163 947.095214 L 298.506122 944.401302 L 302.179592 942.564544 L 305.853061 940.360434 L 310.75102 937.911423 L 315.64898 934.482808 L 319.322449 931.788896 L 322.383673 929.829687 L 326.057143 927.258226 L 330.342857 924.196962 L 334.016327 922.237754 L 337.689796 920.278545 L 341.363265 917.707084 L 345.036735 915.502974 L 348.710204 913.421315 L 353.608163 911.217205 L 357.281633 909.135546 L 360.955102 906.074282 L 364.628571 903.25792 L 368.302041 901.05381 L 371.97551 899.339502 L 375.64898 897.257843 L 380.546939 894.441481 L 384.220408 891.380217 L 387.893878 889.543459 L 390.342857 888.686305 L 395.240816 886.482195 L 398.914286 884.890338 L 402.587755 883.420932 L 407.485714 880.72702 L 412.995918 878.327632 L 415.444898 876.858226 L 419.118367 874.286765 L 422.791837 871.837754 L 426.465306 868.898941 L 427.689796 868.164237 L 431.363265 866.694831 L 433.812245 865.202451 L 438.710204 863.365692 L 442.383673 862.75344 L 445.444898 862.018736 L 448.506122 860.54933 L 452.179592 859.079923 L 455.853061 857.488066 L 459.526531 855.651308 L 461.97551 854.059451 L 465.64898 851.977792 L 469.322449 850.141034 L 472.995918 848.304276 L 476.669388 846.712419 L 480.342857 844.87566 L 484.016327 843.406254 L 486.465306 841.936847 L 488.914286 840.100089 L 491.363265 838.753133 L 495.036735 836.916375 L 498.710204 834.834716 L 502.383673 832.385705 L 506.057143 830.181595 L 509.730612 828.099936 L 513.404082 825.895826 L 517.077551 823.814167 L 520.75102 821.732508 L 524.42449 819.528398 L 528.097959 817.69164 L 530.546939 815.854882 L 532.995918 814.263025 L 535.444898 813.773223 L 537.893878 813.405871 L 541.567347 812.548717 L 545.240816 811.814014 L 547.689796 811.324212 L 549.526531 810.711959 L 551.363265 809.487454 L 555.036735 807.528245 L 558.710204 805.446586 L 559.934694 805.201685 L 563.608163 802.997575 L 568.506122 800.793465 L 572.179592 798.956707 L 575.853061 797.119949 L 580.75102 795.03829 L 584.42449 793.201532 L 588.097959 791.364773 L 592.995918 789.528015 L 596.669388 787.691257 L 600.342857 786.221851 L 604.016327 784.629994 L 607.689796 782.548334 L 611.363265 780.589126 L 613.812245 779.487071 L 617.485714 777.03806 L 621.159184 775.201302 L 623.608163 773.609445 L 627.281633 771.772687 L 630.955102 769.935929 L 634.628571 768.466522 L 638.302041 767.242017 L 641.97551 765.405258 L 645.64898 763.5685 L 649.322449 761.364391 L 652.995918 759.894984 L 656.669388 758.303127 L 660.342857 756.71127 L 664.016327 754.996962 L 667.689796 753.405105 L 671.363265 751.568347 L 673.812245 750.098941 L 677.485714 748.507084 L 679.934694 746.670325 L 682.383673 745.44582 L 684.832653 743.976414 L 687.281633 742.017205 L 688.810909 740.547798" clip-path="url(#pa2340ae78a)" style="fill: none; stroke: #4a55d2; stroke-linecap: square"/>
</g>
<g id="line2d_189">
<path d="M 137.029091 1028.524825 L 145.444898 1023.626803 L 152.791837 1020.565539 L 158.914286 1018.116528 L 163.812245 1016.034869 L 168.710204 1013.830759 L 173.608163 1011.381749 L 178.506122 1008.320485 L 182.179592 1006.728628 L 185.853061 1004.89187 L 190.138776 1002.56531 L 195.64898 999.993848 L 199.934694 997.667288 L 204.220408 995.463178 L 207.893878 994.238673 L 212.791837 991.789662 L 218.914286 988.728398 L 224.42449 985.912036 L 227.485714 984.68753 L 231.159184 982.605871 L 237.281633 980.15686 L 240.955102 978.932355 L 245.853061 976.483344 L 250.75102 973.789432 L 255.64898 970.97307 L 259.322449 969.748564 L 261.771429 969.136311 L 265.444898 967.544454 L 269.118367 965.830147 L 272.791837 964.483191 L 277.689796 962.156631 L 283.812245 959.095367 L 287.485714 956.891257 L 291.159184 954.687147 L 294.832653 952.605488 L 299.730612 949.911576 L 304.628571 947.340115 L 309.526531 944.768653 L 314.42449 942.197192 L 318.097959 940.360434 L 321.771429 938.156324 L 326.669388 935.217511 L 331.567347 932.156248 L 335.240816 930.197039 L 340.138776 927.870479 L 345.036735 925.421468 L 348.710204 923.217358 L 353.608163 920.768347 L 358.506122 918.441787 L 362.179592 916.237677 L 367.077551 913.666216 L 371.97551 910.972304 L 376.873469 907.91104 L 381.771429 905.70693 L 385.444898 903.38037 L 389.118367 900.931359 L 392.791837 898.114997 L 397.077551 893.584327 L 401.363265 892.359821 L 405.036735 890.523063 L 409.934694 887.706701 L 415.444898 885.307313 L 420.342857 882.3685 L 424.016327 880.531742 L 426.465306 878.694984 L 430.138776 875.878622 L 435.036735 872.205105 L 438.710204 869.756094 L 443.608163 866.939732 L 446.057143 865.202451 L 452.179592 861.528934 L 455.853061 859.324825 L 459.526531 856.875814 L 463.2 853.81455 L 466.873469 851.365539 L 470.546939 848.916528 L 474.220408 846.222616 L 477.893878 843.651155 L 481.567347 840.712342 L 485.240816 838.263331 L 488.914286 835.202068 L 491.363265 833.610211 L 496.261224 830.304046 L 499.934694 827.487683 L 502.383673 826.018277 L 506.057143 824.059068 L 509.730612 821.365156 L 512.179592 819.528398 L 515.853061 816.467135 L 519.526531 814.263025 L 521.97551 812.793618 L 525.64898 811.324212 L 529.322449 809.365003 L 534.220408 806.671091 L 537.893878 805.201685 L 541.567347 803.364927 L 545.240816 802.385322 L 548.914286 801.405718 L 552.587755 800.548564 L 557.485714 799.56896 L 561.159184 797.487301 L 566.057143 794.793389 L 568.506122 793.813784 L 572.179592 792.344378 L 577.077551 790.140268 L 580.75102 788.30351 L 584.42449 786.711653 L 586.873469 784.874895 L 589.322449 783.038137 L 591.771429 781.813631 L 594.220408 780.711576 L 597.893878 778.507466 L 600.342857 776.915609 L 602.791837 774.83395 L 605.240816 773.854346 L 607.689796 772.752291 L 611.363265 771.160434 L 615.036735 769.935929 L 618.710204 768.344071 L 621.159184 767.242017 L 624.832653 765.895061 L 628.506122 764.180753 L 632.179592 762.343995 L 635.853061 760.752138 L 639.526531 759.282731 L 643.2 757.445973 L 646.873469 755.486765 L 649.322449 754.262259 L 652.995918 752.792853 L 656.669388 751.568347 L 660.342857 750.098941 L 664.016327 748.507084 L 667.689796 746.670325 L 671.363265 744.466216 L 673.812245 743.364161 L 677.485714 742.139655 L 681.159184 740.302897 L 683.608163 738.955941 L 686.057143 737.119183 L 688.810909 735.037524" clip-path="url(#pa2340ae78a)" style="fill: none; stroke: #2b36b4; stroke-linecap: square"/>
</g>
<g id="line2d_190">
<path d="M 137.029091 1028.524825 L 145.444898 1022.157396 L 152.791837 1018.728781 L 158.914286 1015.667518 L 163.812245 1013.585858 L 168.710204 1011.504199 L 173.608163 1009.177639 L 178.506122 1006.238826 L 182.179592 1004.279617 L 185.853061 1002.197958 L 190.138776 999.504046 L 195.64898 996.932585 L 199.934694 995.095826 L 204.220408 992.891717 L 207.893878 991.544761 L 212.791837 989.09575 L 218.914286 986.034486 L 224.42449 983.340574 L 227.485714 982.728322 L 231.159184 981.014014 L 237.281633 978.320102 L 243.404082 975.50374 L 249.526531 972.564927 L 253.812245 970.360817 L 258.097959 967.911806 L 261.771429 967.054652 L 265.444898 964.972993 L 269.118367 963.013784 L 272.791837 960.932125 L 277.689796 958.115763 L 282.587755 955.2994 L 286.261224 952.850389 L 289.934694 950.523829 L 293.608163 948.44217 L 298.506122 946.23806 L 302.179592 943.421698 L 305.853061 940.972687 L 310.75102 938.033874 L 315.64898 935.095061 L 319.322449 932.7685 L 322.383673 930.931742 L 326.057143 928.482731 L 330.342857 925.666369 L 334.016327 923.217358 L 337.689796 921.013248 L 341.363265 918.564237 L 345.036735 915.625424 L 348.710204 913.666216 L 353.608163 910.972304 L 357.281633 908.523293 L 360.955102 905.70693 L 364.628571 902.523216 L 368.302041 899.951755 L 371.97551 896.890491 L 375.64898 895.421085 L 378.097959 894.074129 L 381.771429 891.747569 L 385.444898 889.543459 L 390.342857 887.4618 L 395.240816 884.890338 L 398.914286 882.808679 L 402.587755 880.604569 L 407.485714 878.278009 L 412.995918 876.245973 L 416.669388 874.409215 L 421.567347 871.837754 L 424.016327 870.368347 L 426.465306 868.898941 L 431.363265 866.694831 L 433.2 865.202451 L 437.485714 862.630989 L 442.383673 859.937077 L 447.281633 857.243165 L 452.179592 854.426803 L 455.853061 851.977792 L 459.526531 848.916528 L 463.2 845.487913 L 466.873469 843.406254 L 470.546939 840.712342 L 472.995918 839.120485 L 476.669388 836.671474 L 480.342857 834.467364 L 484.016327 832.140804 L 487.689796 829.691793 L 491.363265 827.487683 L 495.036735 825.650925 L 498.710204 823.201914 L 501.159184 821.610057 L 504.832653 819.528398 L 508.506122 817.446739 L 510.955102 816.467135 L 514.628571 814.385475 L 517.077551 812.793618 L 520.75102 809.977256 L 524.42449 807.895597 L 526.873469 806.42619 L 529.322449 804.834333 L 530.546939 804.22208 L 532.995918 803.609828 L 536.669388 802.140421 L 540.342857 800.915916 L 545.240816 799.56896 L 547.689796 798.344454 L 551.363265 796.262795 L 556.261224 793.813784 L 559.934694 791.732125 L 563.608163 789.528015 L 568.506122 786.466752 L 572.179592 784.262642 L 575.853061 782.180983 L 579.526531 780.099324 L 583.2 777.527862 L 586.873469 775.446203 L 590.546939 773.976796 L 591.771429 773.364544 L 594.220408 771.160434 L 596.669388 769.568577 L 599.118367 767.486918 L 602.791837 765.282808 L 606.465306 763.5685 L 610.138776 761.364391 L 612.587755 760.139885 L 613.812245 759.772534 L 616.261224 758.058226 L 619.934694 755.241863 L 623.608163 753.405105 L 624.832653 752.547951 L 627.281633 750.588743 L 630.955102 748.139732 L 634.628571 746.425424 L 637.077551 745.078468 L 640.75102 743.364161 L 644.42449 742.139655 L 648.097959 740.180447 L 651.771429 738.098787 L 655.444898 736.017128 L 657.893878 734.18037 L 661.567347 732.343612 L 662.791837 731.731359 L 666.465306 728.914997 L 670.138776 726.098634 L 673.812245 723.037371 L 676.261224 721.567964 L 679.934694 719.486305 L 682.383673 717.527096 L 684.832653 715.445437 L 687.281633 713.241327 L 688.810909 712.016822" clip-path="url(#pa2340ae78a)" style="fill: none; stroke: #202882; stroke-linecap: square"/>
</g>
<g id="line2d_191">
<path d="M 137.029091 1028.524825 L 142.995918 1023.01455 L 147.893878 1019.708385 L 153.404082 1016.402221 L 157.689796 1012.851155 L 160.138776 1011.136847 L 163.812245 1009.789892 L 167.485714 1007.708232 L 169.934694 1005.749024 L 173.608163 1002.810211 L 176.669388 999.993848 L 182.179592 996.442782 L 188.302041 992.157013 L 194.42449 988.483497 L 199.322449 985.667135 L 202.383673 983.830377 L 205.444898 982.605871 L 210.342857 978.932355 L 215.240816 974.891487 L 218.914286 972.809828 L 222.587755 970.728168 L 226.261224 968.279158 L 231.159184 964.36074 L 234.832653 962.646433 L 237.893878 960.564773 L 240.955102 957.50351 L 244.628571 955.2994 L 247.077551 953.217741 L 251.363265 949.544225 L 253.812245 948.319719 L 256.873469 947.095214 L 261.159184 944.278851 L 265.444898 941.82984 L 267.893878 940.360434 L 271.567347 938.156324 L 275.240816 936.809368 L 278.914286 934.85016 L 283.812245 931.788896 L 287.485714 928.850083 L 291.159184 926.03372 L 294.832653 923.829611 L 300.955102 919.788743 L 305.853061 916.84993 L 308.914286 915.013172 L 314.42449 912.196809 L 318.710204 909.257996 L 321.771429 907.666139 L 326.057143 905.217128 L 330.342857 901.910964 L 334.016327 899.339502 L 338.914286 896.033338 L 341.363265 895.053733 L 344.42449 892.972074 L 348.710204 889.543459 L 352.383673 887.094448 L 356.057143 884.400536 L 359.730612 881.584174 L 364.628571 878.278009 L 368.302041 875.461646 L 370.75102 873.99224 L 375.64898 870.563625 L 379.322449 867.502361 L 382.995918 864.808449 L 386.669388 861.992087 L 389.118367 859.910428 L 391.567347 858.318571 L 397.689796 854.645054 L 401.363265 851.706241 L 405.036735 850.114384 L 409.934694 847.298022 L 415.444898 844.263408 L 419.118367 842.181749 L 422.791837 839.732738 L 425.240816 838.140881 L 428.914286 836.304123 L 432.587755 834.222463 L 436.261224 832.385705 L 439.934694 830.548947 L 442.383673 828.95709 L 445.444898 826.875431 L 448.506122 825.283574 L 452.179592 822.834563 L 455.853061 820.140651 L 460.75102 817.079387 L 464.42449 814.263025 L 468.097959 811.201761 L 471.771429 808.507849 L 474.220408 806.671091 L 477.893878 803.977179 L 481.567347 801.77307 L 484.016327 800.181213 L 487.689796 797.487301 L 491.363265 795.283191 L 495.036735 793.201532 L 497.485714 791.609675 L 501.159184 789.528015 L 506.057143 786.834103 L 509.730612 785.609598 L 513.404082 784.385093 L 517.077551 783.405488 L 520.75102 781.936082 L 524.42449 780.344225 L 528.097959 778.507466 L 531.771429 776.670708 L 536.669388 774.589049 L 541.567347 771.772687 L 545.240816 769.691027 L 548.914286 767.486918 L 552.587755 765.282808 L 556.261224 763.44605 L 559.934694 760.997039 L 563.608163 758.548028 L 567.281633 756.221468 L 569.730612 754.262259 L 573.404082 752.1806 L 577.077551 749.731589 L 580.75102 747.037677 L 584.42449 744.588666 L 586.873469 742.996809 L 590.546939 740.302897 L 594.220408 738.098787 L 599.118367 735.649777 L 602.791837 734.05792 L 605.240816 732.588513 L 608.914286 730.506854 L 611.363265 729.282348 L 613.812245 727.078239 L 616.261224 724.874129 L 618.710204 722.547569 L 622.383673 720.58836 L 626.057143 718.506701 L 628.506122 717.037294 L 630.955102 715.812789 L 633.404082 714.220932 L 637.077551 712.139272 L 640.75102 709.935163 L 643.2 708.955558 L 646.873469 706.506548 L 650.546939 703.812636 L 652.995918 702.220779 L 656.669388 700.38402 L 660.342857 698.914614 L 662.791837 697.690108 L 666.465306 695.608449 L 668.914286 693.40434 L 672.587755 690.343076 L 676.261224 687.649164 L 678.710204 685.812406 L 681.159184 685.200153 L 683.608163 684.220549 L 686.057143 682.628692 L 688.810909 680.547033" clip-path="url(#pa2340ae78a)" style="fill: none; stroke: #131a52; stroke-linecap: square"/>
</g>
<g id="patch_9">
<path d="M 109.4400 1045.8000 L 109.4400 663.4800" style="fill: none; stroke: #000000; stroke-width: 0.8; stroke-linejoin: miter; stroke-linecap: square"/>
</g>
<g id="patch_10">
<path d="M 716.4000 1045.8000 L 716.4000 663.4800" style="fill: none; stroke: #000000; stroke-width: 0.8; stroke-linejoin: miter; stroke-linecap: square"/>
</g>
<g id="patch_11">
<path d="M 109.4400 1045.8000 L 716.4000 1045.8000" style="fill: none; stroke: #000000; stroke-width: 0.8; stroke-linejoin: miter; stroke-linecap: square"/>
</g>
<g id="patch_12">
<path d="M 109.4400 663.4800 L 716.4000 663.4800" style="fill: none; stroke: #000000; stroke-width: 0.8; stroke-linejoin: miter; stroke-linecap: square"/>
</g>
<g id="text_54">
<text style="font-size: 26.4px; font-family: 'DejaVu Sans', 'Liberation Sans', sans-serif; text-anchor: middle" x="412.92" y="657.48" transform="rotate(-0 412.92 657.48)">Interconnexion import in [ME] montenegro</text>
</g>
<g id="legend_2">
<g id="patch_13">
<path d="M 731.8 971.706875 L 858.19 971.706875 Q 862.59 971.706875 862.59 967.306875 L 862.59 678.88 Q 862.59 674.48 858.19 674.48 L 731.8 674.48 Q 727.4 674.48 727.4 678.88 L 727.4 967.306875 Q 727.4 971.706875 731.8 971.706875 z" style="fill: #ffffff; opacity: 0.8; stroke: #cccccc; stroke-linejoin: miter"/>
</g>
<g id="line2d_192">
<path d="M 736.3800 692.4600 L 758.3400 692.4600 L 780.3000 692.4600" style="fill: none; stroke: #33c433; stroke-linecap: square"/>
</g>
<g id="text_55">
<text style="font-size: 22px; font-family: 'DejaVu Sans', 'Liberation Sans', sans-serif; text-anchor: start" x="797.8" y="699.996563" transform="rotate(-0 797.8 699.996563)">2016</text>
</g>
<g id="line2d_193">
<path d="M 736.3800 724.8600 L 758.3400 724.8600 L 780.3000 724.8600" style="fill: none; stroke: #28a228; stroke-linecap: square"/>
</g>
<g id="text_56">
<text style="font-size: 22px; font-family: 'DejaVu Sans', 'Liberation Sans', sans-serif; text-anchor: start" x="797.8" y="732.288438" transform="rotate(-0 797.8 732.288438)">2017</text>
</g>
<g id="line2d_194">
<path d="M 736.3800 756.9000 L 758.3400 756.9000 L 780.3000 756.9000" style="fill: none; stroke: #208020; stroke-linecap: square"/>
</g>
<g id="text_57">
<text style="font-size: 22px; font-family: 'DejaVu Sans', 'Liberation Sans', sans-serif; text-anchor: start" x="797.8" y="764.580313" transform="rotate(-0 797.8 764.580313)">2018</text>
</g>
<g id="line2d_195">
<path d="M 736.3800 789.3000 L 758.3400 789.3000 L 780.3000 789.3000" style="fill: none; stroke: #145214; stroke-linecap: square"/>
</g>
<g id="text_58">
<text style="font-size: 22px; font-family: 'DejaVu Sans', 'Liberation Sans', sans-serif; text-anchor: start" x="797.8" y="796.872188" transform="rotate(-0 797.8 796.872188)">2019</text>
</g>
<g id="line2d_196">
<path d="M 736.3800 821.7000 L 758.3400 821.7000 L 780.3000 821.7000" style="fill: none; stroke: #7c83de; stroke-linecap: square"/>
</g>
<g id="text_59">
<text style="font-size: 22px; font-family: 'DejaVu Sans', 'Liberation Sans', sans-serif; text-anchor: start" x="797.8" y="829.164063" transform="rotate(-0 797.8 829.164063)">2020</text>
</g>
<g id="line2d_197">
<path d="M 736.3800 854.1000 L 758.3400 854.1000 L 780.3000 854.1000" style="fill: none; stroke: #4a55d2; stroke-linecap: square"/>
</g>
<g id="text_60">
<text style="font-size: 22px; font-family: 'DejaVu Sans', 'Liberation Sans', sans-serif; text-anchor: start" x="797.8" y="861.455938" transform="rotate(-0 797.8 861.455938)">2021</text>
</g>
<g id="line2d_198">
<path d="M 736.3800 886.1400 L 758.3400 886.1400 L 780.3000 886.1400" style="fill: none; stroke: #2b36b4; stroke-linecap: square"/>
</g>
<g id="text_61">
<text style="font-size: 22px; font-family: 'DejaVu Sans', 'Liberation Sans', sans-serif; text-anchor: start" x="797.8" y="893.747813" transform="rotate(-0 797.8 893.747813)">2022</text>
</g>
<g id="line2d_199">
<path d="M 736.3800 918.5400 L 758.3400 918.5400 L 780.3000 918.5400" style="fill: none; stroke: #202882; stroke-linecap: square"/>
</g>
<g id="text_62">
<text style="font-size: 22px; font-family: 'DejaVu Sans', 'Liberation Sans', sans-serif; text-anchor: start" x="797.8" y="926.039688" transform="rotate(-0 797.8 926.039688)">2023</text>
</g>
<g id="line2d_200">
<path d="M 736.3800 950.9400 L 758.3400 950.9400 L 780.3000 950.9400" style="fill: none; stroke: #131a52; stroke-linecap: square"/>
</g>
<g id="text_63">
<text style="font-size: 22px; font-family: 'DejaVu Sans', 'Liberation Sans', sans-serif; text-anchor: start" x="797.8" y="958.331563" transform="rotate(-0 797.8 958.331563)">2024</text>
</g>
</g>
</g>
<g id="axes_3">
<g id="patch_14">
<path d="M 951.12 1045.8 L 1558.08 1045.8 L 1558.08 663.48 L 951.12 663.48 z" style="fill: #ffffff"/>
</g>
<g id="matplotlib.axis_5">
<g id="xtick_141">
<g id="line2d_201">
<g>
<path d="M 978.8400 1045.8000 L 978.8400 1049.4000" style="stroke: #000000; stroke-width: 0.8"/>
</g>
</g>
<g id="text_64">
<text style="font-size: 22px; font-family: 'DejaVu Sans', 'Liberation Sans', sans-serif" transform="translate(921.058866 1099.240562) rotate(-30)">01-01</text>
</g>
</g>
<g id="xtick_142">
<g id="line2d_202">
<g>
<path d="M 1025.6400 1045.8000 L 1025.6400 1049.4000" style="stroke: #000000; stroke-width: 0.8"/>
</g>
</g>
<g id="text_65">
<text style="font-size: 22px; font-family: 'DejaVu Sans', 'Liberation Sans', sans-serif" transform="translate(967.922528 1099.240562) rotate(-30)">01-02</text>
</g>
</g>
<g id="xtick_143">
<g id="line2d_203">
<g>
<path d="M 1067.7600 1045.8000 L 1067.7600 1049.4000" style="stroke: #000000; stroke-width: 0.8"/>
</g>
</g>
<g id="text_66">
<text style="font-size: 22px; font-family: 'DejaVu Sans', 'Liberation Sans', sans-serif" transform="translate(1010.250996 1099.240562) rotate(-30)">01-03</text>
</g>
</g>
<g id="xtick_144">
<g id="line2d_204">
<g>
<path d="M 1114.9200 1045.8000 L 1114.9200 1049.4000" style="stroke: #000000; stroke-width: 0.8"/>
</g>
</g>
<g id="text_67">
<text style="font-size: 22px; font-family: 'DejaVu Sans', 'Liberation Sans', sans-serif" transform="translate(1057.114657 1099.240562) rotate(-30)">01-04</text>
</g>
</g>
<g id="xtick_145">
<g id="line2d_205">
<g>
<path d="M 1160.2800 1045.8000 L 1160.2800 1049.4000" style="stroke: #000000; stroke-width: 0.8"/>
</g>
</g>
<g id="text_68">
<text style="font-size: 22px; font-family: 'DejaVu Sans', 'Liberation Sans', sans-serif" transform="translate(1102.466587 1099.240562) rotate(-30)">01-05</text>
</g>
</g>
<g id="xtick_146">
<g id="line2d_206">
<g>
<path d="M 1207.0800 1045.8000 L 1207.0800 1049.4000" style="stroke: #000000; stroke-width: 0.8"/>
</g>
</g>
<g id="text_69">
<text style="font-size: 22px; font-family: 'DejaVu Sans', 'Liberation Sans', sans-serif" transform="translate(1149.330249 1099.240562) rotate(-30)">01-06</text>
</g>
</g>
<g id="xtick_147">
<g id="line2d_207">
<g>
<path d="M 1252.4400 1045.8000 L 1252.4400 1049.4000" style="stroke: #000000; stroke-width: 0.8"/>
</g>
</g>
<g id="text_70">
<text style="font-size: 22px; font-family: 'DejaVu Sans', 'Liberation Sans', sans-serif" transform="translate(1194.682179 1099.240562) rotate(-30)">01-07</text>
</g>
</g>
<g id="xtick_148">
<g id="line2d_208">
<g>
<path d="M 1299.2400 1045.8000 L 1299.2400 1049.4000" style="stroke: #000000; stroke-width: 0.8"/>
</g>
</g>
<g id="text_71">
<text style="font-size: 22px; font-family: 'DejaVu Sans', 'Liberation Sans', sans-serif" transform="translate(1241.54584 1099.240562) rotate(-30)">01-08</text>
</g>
</g>
<g id="xtick_149">
<g id="line2d_209">
<g>
<path d="M 1346.0400 1045.8000 L 1346.0400 1049.4000" style="stroke: #000000; stroke-width: 0.8"/>
</g>
</g>
<g id="text_72">
<text style="font-size: 22px; font-family: 'DejaVu Sans', 'Liberation Sans', sans-serif" transform="translate(1288.409501 1099.240562) rotate(-30)">01-09</text>
</g>
</g>
<g id="xtick_150">
<g id="line2d_210">
<g>
<path d="M 1391.4000 1045.8000 L 1391.4000 1049.4000" style="stroke: #000000; stroke-width: 0.8"/>
</g>
</g>
<g id="text_73">
<text style="font-size: 22px; font-family: 'DejaVu Sans', 'Liberation Sans', sans-serif" transform="translate(1333.761432 1099.240562) rotate(-30)">01-10</text>
</g>
</g>
<g id="xtick_151">
<g id="line2d_211">
<g>
<path d="M 1438.2000 1045.8000 L 1438.2000 1049.4000" style="stroke: #000000; stroke-width: 0.8"/>
</g>
</g>
<g id="text_74">
<text style="font-size: 22px; font-family: 'DejaVu Sans', 'Liberation Sans', sans-serif" transform="translate(1380.625093 1099.240562) rotate(-30)">01-11</text>
</g>
</g>
<g id="xtick_152">
<g id="line2d_212">
<g>
<path d="M 1483.5600 1045.8000 L 1483.5600 1049.4000" style="stroke: #000000; stroke-width: 0.8"/>
</g>
</g>
<g id="text_75">
<text style="font-size: 22px; font-family: 'DejaVu Sans', 'Liberation Sans', sans-serif" transform="translate(1425.977023 1099.240562) rotate(-30)">01-12</text>
</g>
</g>
<g id="xtick_153">
<g id="line2d_213">
<g>
<path d="M 1530.3600 1045.8000 L 1530.3600 1049.4000" style="stroke: #000000; stroke-width: 0.8"/>
</g>
</g>
<g id="text_76">
<text style="font-size: 22px; font-family: 'DejaVu Sans', 'Liberation Sans', sans-serif" transform="translate(1472.840684 1099.240562) rotate(-30)">01-01</text>
</g>
</g>
<g id="xtick_154">
<g id="line2d_214">
<g>
<path d="M 952.9200 1045.8000 L 952.9200 1047.9600" style="stroke: #000000; stroke-width: 0.6"/>
</g>
</g>
</g>
<g id="xtick_155">
<g id="line2d_215">
<g>
<path d="M 963.7200 1045.8000 L 963.7200 1047.9600" style="stroke: #000000; stroke-width: 0.6"/>
</g>
</g>
</g>
<g id="xtick_156">
<g id="line2d_216">
<g>
<path d="M 974.1600 1045.8000 L 974.1600 1047.9600" style="stroke: #000000; stroke-width: 0.6"/>
</g>
</g>
</g>
<g id="xtick_157">
<g id="line2d_217">
<g>
<path d="M 984.6000 1045.8000 L 984.6000 1047.9600" style="stroke: #000000; stroke-width: 0.6"/>
</g>
</g>
</g>
<g id="xtick_158">
<g id="line2d_218">
<g>
<path d="M 995.4000 1045.8000 L 995.4000 1047.9600" style="stroke: #000000; stroke-width: 0.6"/>
</g>
</g>
</g>
<g id="xtick_159">
<g id="line2d_219">
<g>
<path d="M 1005.8400 1045.8000 L 1005.8400 1047.9600" style="stroke: #000000; stroke-width: 0.6"/>
</g>
</g>
</g>
<g id="xtick_160">
<g id="line2d_220">
<g>
<path d="M 1016.6400 1045.8000 L 1016.6400 1047.9600" style="stroke: #000000; stroke-width: 0.6"/>
</g>
</g>
</g>
<g id="xtick_161">
<g id="line2d_221">
<g>
<path d="M 1027.0800 1045.8000 L 1027.0800 1047.9600" style="stroke: #000000; stroke-width: 0.6"/>
</g>
</g>
</g>
<g id="xtick_162">
<g id="line2d_222">
<g>
<path d="M 1037.5200 1045.8000 L 1037.5200 1047.9600" style="stroke: #000000; stroke-width: 0.6"/>
</g>
</g>
</g>
<g id="xtick_163">
<g id="line2d_223">
<g>
<path d="M 1048.3200 1045.8000 L 1048.3200 1047.9600" style="stroke: #000000; stroke-width: 0.6"/>
</g>
</g>
</g>
<g id="xtick_164">
<g id="line2d_224">
<g>
<path d="M 1058.7600 1045.8000 L 1058.7600 1047.9600" style="stroke: #000000; stroke-width: 0.6"/>
</g>
</g>
</g>
<g id="xtick_165">
<g id="line2d_225">
<g>
<path d="M 1069.5600 1045.8000 L 1069.5600 1047.9600" style="stroke: #000000; stroke-width: 0.6"/>
</g>
</g>
</g>
<g id="xtick_166">
<g id="line2d_226">
<g>
<path d="M 1080.0000 1045.8000 L 1080.0000 1047.9600" style="stroke: #000000; stroke-width: 0.6"/>
</g>
</g>
</g>
<g id="xtick_167">
<g id="line2d_227">
<g>
<path d="M 1090.4400 1045.8000 L 1090.4400 1047.9600" style="stroke: #000000; stroke-width: 0.6"/>
</g>
</g>
</g>
<g id="xtick_168">
<g id="line2d_228">
<g>
<path d="M 1101.2400 1045.8000 L 1101.2400 1047.9600" style="stroke: #000000; stroke-width: 0.6"/>
</g>
</g>
</g>
<g id="xtick_169">
<g id="line2d_229">
<g>
<path d="M 1111.6800 1045.8000 L 1111.6800 1047.9600" style="stroke: #000000; stroke-width: 0.6"/>
</g>
</g>
</g>
<g id="xtick_170">
<g id="line2d_230">
<g>
<path d="M 1122.4800 1045.8000 L 1122.4800 1047.9600" style="stroke: #000000; stroke-width: 0.6"/>
</g>
</g>
</g>
<g id="xtick_171">
<g id="line2d_231">
<g>
<path d="M 1132.9200 1045.8000 L 1132.9200 1047.9600" style="stroke: #000000; stroke-width: 0.6"/>
</g>
</g>
</g>
<g id="xtick_172">
<g id="line2d_232">
<g>
<path d="M 1143.3600 1045.8000 L 1143.3600 1047.9600" style="stroke: #000000; stroke-width: 0.6"/>
</g>
</g>
</g>
<g id="xtick_173">
<g id="line2d_233">
<g>
<path d="M 1154.1600 1045.8000 L 1154.1600 1047.9600" style="stroke: #000000; stroke-width: 0.6"/>
</g>
</g>
</g>
<g id="xtick_174">
<g id="line2d_234">
<g>
<path d="M 1164.6000 1045.8000 L 1164.6000 1047.9600" style="stroke: #000000; stroke-width: 0.6"/>
</g>
</g>
</g>
<g id="xtick_175">
<g id="line2d_235">
<g>
<path d="M 1175.4000 1045.8000 L 1175.4000 1047.9600" style="stroke: #000000; stroke-width: 0.6"/>
</g>
</g>
</g>
<g id="xtick_176">
<g id="line2d_236">
<g>
<path d="M 1185.8400 1045.8000 L 1185.8400 1047.9600" style="stroke: #000000; stroke-width: 0.6"/>
</g>
</g>
</g>
<g id="xtick_177">
<g id="line2d_237">
<g>
<path d="M 1196.2800 1045.8000 L 1196.2800 1047.9600" style="stroke: #000000; stroke-width: 0.6"/>
</g>
</g>
</g>
<g id="xtick_178">
<g id="line2d_238">
<g>
<path d="M 1217.5200 1045.8000 L 1217.5200 1047.9600" style="stroke: #000000; stroke-width: 0.6"/>
</g>
</g>
</g>
<g id="xtick_179">
<g id="line2d_239">
<g>
<path d="M 1228.3200 1045.8000 L 1228.3200 1047.9600" style="stroke: #000000; stroke-width: 0.6"/>
</g>
</g>
</g>
<g id="xtick_180">
<g id="line2d_240">
<g>
<path d="M 1238.7600 1045.8000 L 1238.7600 1047.9600" style="stroke: #000000; stroke-width: 0.6"/>
</g>
</g>
</g>
<g id="xtick_181">
<g id="line2d_241">
<g>
<path d="M 1249.2000 1045.8000 L 1249.2000 1047.9600" style="stroke: #000000; stroke-width: 0.6"/>
</g>
</g>
</g>
<g id="xtick_182">
<g id="line2d_242">
<g>
<path d="M 1260.0000 1045.8000 L 1260.0000 1047.9600" style="stroke: #000000; stroke-width: 0.6"/>
</g>
</g>
</g>
<g id="xtick_183">
<g id="line2d_243">
<g>
<path d="M 1270.4400 1045.8000 L 1270.4400 1047.9600" style="stroke: #000000; stroke-width: 0.6"/>
</g>
</g>
</g>
<g id="xtick_184">
<g id="line2d_244">
<g>
<path d="M 1280.8800 1045.8000 L 1280.8800 1047.9600" style="stroke: #000000; stroke-width: 0.6"/>
</g>
</g>
</g>
<g id="xtick_185">
<g id="line2d_245">
<g>
<path d="M 1291.6800 1045.8000 L 1291.6800 1047.9600" style="stroke: #000000; stroke-width: 0.6"/>
</g>
</g>
</g>
<g id="xtick_186">
<g id="line2d_246">
<g>
<path d="M 1302.1200 1045.8000 L 1302.1200 1047.9600" style="stroke: #000000; stroke-width: 0.6"/>
</g>
</g>
</g>
<g id="xtick_187">
<g id="line2d_247">
<g>
<path d="M 1312.9200 1045.8000 L 1312.9200 1047.9600" style="stroke: #000000; stroke-width: 0.6"/>
</g>
</g>
</g>
<g id="xtick_188">
<g id="line2d_248">
<g>
<path d="M 1323.3600 1045.8000 L 1323.3600 1047.9600" style="stroke: #000000; stroke-width: 0.6"/>
</g>
</g>
</g>
<g id="xtick_189">
<g id="line2d_249">
<g>
<path d="M 1333.8000 1045.8000 L 1333.8000 1047.9600" style="stroke: #000000; stroke-width: 0.6"/>
</g>
</g>
</g>
<g id="xtick_190">
<g id="line2d_250">
<g>
<path d="M 1344.6000 1045.8000 L 1344.6000 1047.9600" style="stroke: #000000; stroke-width: 0.6"/>
</g>
</g>
</g>
<g id="xtick_191">
<g id="line2d_251">
<g>
<path d="M 1355.0400 1045.8000 L 1355.0400 1047.9600" style="stroke: #000000; stroke-width: 0.6"/>
</g>
</g>
</g>
<g id="xtick_192">
<g id="line2d_252">
<g>
<path d="M 1365.8400 1045.8000 L 1365.8400 1047.9600" style="stroke: #000000; stroke-width: 0.6"/>
</g>
</g>
</g>
<g id="xtick_193">
<g id="line2d_253">
<g>
<path d="M 1376.2800 1045.8000 L 1376.2800 1047.9600" style="stroke: #000000; stroke-width: 0.6"/>
</g>
</g>
</g>
<g id="xtick_194">
<g id="line2d_254">
<g>
<path d="M 1386.7200 1045.8000 L 1386.7200 1047.9600" style="stroke: #000000; stroke-width: 0.6"/>
</g>
</g>
</g>
<g id="xtick_195">
<g id="line2d_255">
<g>
<path d="M 1397.5200 1045.8000 L 1397.5200 1047.9600" style="stroke: #000000; stroke-width: 0.6"/>
</g>
</g>
</g>
<g id="xtick_196">
<g id="line2d_256">
<g>
<path d="M 1407.9600 1045.8000 L 1407.9600 1047.9600" style="stroke: #000000; stroke-width: 0.6"/>
</g>
</g>
</g>
<g id="xtick_197">
<g id="line2d_257">
<g>
<path d="M 1418.7600 1045.8000 L 1418.7600 1047.9600" style="stroke: #000000; stroke-width: 0.6"/>
</g>
</g>
</g>
<g id="xtick_198">
<g id="line2d_258">
<g>
<path d="M 1429.2000 1045.8000 L 1429.2000 1047.9600" style="stroke: #000000; stroke-width: 0.6"/>
</g>
</g>
</g>
<g id="xtick_199">
<g id="line2d_259">
<g>
<path d="M 1439.6400 1045.8000 L 1439.6400 1047.9600" style="stroke: #000000; stroke-width: 0.6"/>
</g>
</g>
</g>
<g id="xtick_200">
<g id="line2d_260">
<g>
<path d="M 1450.4400 1045.8000 L 1450.4400 1047.9600" style="stroke: #000000; stroke-width: 0.6"/>
</g>
</g>
</g>
<g id="xtick_201">
<g id="line2d_261">
<g>
<path d="M 1460.8800 1045.8000 L 1460.8800 1047.9600" style="stroke: #000000; stroke-width: 0.6"/>
</g>
</g>
</g>
<g id="xtick_202">
<g id="line2d_262">
<g>
<path d="M 1471.6800 1045.8000 L 1471.6800 1047.9600" style="stroke: #000000; stroke-width: 0.6"/>
</g>
</g>
</g>
<g id="xtick_203">
<g id="line2d_263">
<g>
<path d="M 1482.1200 1045.8000 L 1482.1200 1047.9600" style="stroke: #000000; stroke-width: 0.6"/>
</g>
</g>
</g>
<g id="xtick_204">
<g id="line2d_264">
<g>
<path d="M 1492.5600 1045.8000 L 1492.5600 1047.9600" style="stroke: #000000; stroke-width: 0.6"/>
</g>
</g>
</g>
<g id="xtick_205">
<g id="line2d_265">
<g>
<path d="M 1503.3600 1045.8000 L 1503.3600 1047.9600" style="stroke: #000000; stroke-width: 0.6"/>
</g>
</g>
</g>
<g id="xtick_206">
<g id="line2d_266">
<g>
<path d="M 1513.8000 1045.8000 L 1513.8000 1047.9600" style="stroke: #000000; stroke-width: 0.6"/>
</g>
</g>
</g>
<g id="xtick_207">
<g id="line2d_267">
<g>
<path d="M 1524.6000 1045.8000 L 1524.6000 1047.9600" style="stroke: #000000; stroke-width: 0.6"/>
</g>
</g>
</g>
<g id="xtick_208">
<g id="line2d_268">
<g>
<path d="M 1535.0400 1045.8000 L 1535.0400 1047.9600" style="stroke: #000000; stroke-width: 0.6"/>
</g>
</g>
</g>
<g id="xtick_209">
<g id="line2d_269">
<g>
<path d="M 1545.4800 1045.8000 L 1545.4800 1047.9600" style="stroke: #000000; stroke-width: 0.6"/>
</g>
</g>
</g>
<g id="xtick_210">
<g id="line2d_270">
<g>
<path d="M 1556.2800 1045.8000 L 1556.2800 1047.9600" style="stroke: #000000; stroke-width: 0.6"/>
</g>
</g>
</g>
<g id="text_77">
<text style="font-size: 22px; font-family: 'DejaVu Sans', 'Liberation Sans', sans-serif; text-anchor: middle" x="1254.6" y="1123.919461" transform="rotate(-0 1254.6 1123.919461)">Day</text>
</g>
</g>
<g id="matplotlib.axis_6">
<g id="ytick_13">
<g id="line2d_271">
<path d="M 951.1200 1001.5200 L 1558.0800 1001.5200" clip-path="url(#pf2f19adad1)" style="fill: none; stroke: #b0b0b0; stroke-width: 0.8; stroke-linecap: square"/>
</g>
<g id="line2d_272">
<g>
<path d="M 951.1200 1001.5200 L 947.5200 1001.5200" style="stroke: #000000; stroke-width: 0.8"/>
</g>
</g>
<g id="text_78">
<text style="font-size: 22px; font-family: 'DejaVu Sans', 'Liberation Sans', sans-serif; text-anchor: end" x="944.12" y="1009.885481" transform="rotate(-0 944.12 1009.885481)">−6</text>
</g>
</g>
<g id="ytick_14">
<g id="line2d_273">
<path d="M 951.1200 947.8800 L 1558.0800 947.8800" clip-path="url(#pf2f19adad1)" style="fill: none; stroke: #b0b0b0; stroke-width: 0.8; stroke-linecap: square"/>
</g>
<g id="line2d_274">
<g>
<path d="M 951.1200 947.8800 L 947.5200 947.8800" style="stroke: #000000; stroke-width: 0.8"/>
</g>
</g>
<g id="text_79">
<text style="font-size: 22px; font-family: 'DejaVu Sans', 'Liberation Sans', sans-serif; text-anchor: end" x="944.12" y="956.364281" transform="rotate(-0 944.12 956.364281)">−5</text>
</g>
</g>
<g id="ytick_15">
<g id="line2d_275">
<path d="M 951.1200 894.6000 L 1558.0800 894.6000" clip-path="url(#pf2f19adad1)" style="fill: none; stroke: #b0b0b0; stroke-width: 0.8; stroke-linecap: square"/>
</g>
<g id="line2d_276">
<g>
<path d="M 951.1200 894.6000 L 947.5200 894.6000" style="stroke: #000000; stroke-width: 0.8"/>
</g>
</g>
<g id="text_80">
<text style="font-size: 22px; font-family: 'DejaVu Sans', 'Liberation Sans', sans-serif; text-anchor: end" x="944.12" y="902.843081" transform="rotate(-0 944.12 902.843081)">−4</text>
</g>
</g>
<g id="ytick_16">
<g id="line2d_277">
<path d="M 951.1200 840.9600 L 1558.0800 840.9600" clip-path="url(#pf2f19adad1)" style="fill: none; stroke: #b0b0b0; stroke-width: 0.8; stroke-linecap: square"/>
</g>
<g id="line2d_278">
<g>
<path d="M 951.1200 840.9600 L 947.5200 840.9600" style="stroke: #000000; stroke-width: 0.8"/>
</g>
</g>
<g id="text_81">
<text style="font-size: 22px; font-family: 'DejaVu Sans', 'Liberation Sans', sans-serif; text-anchor: end" x="944.12" y="849.321881" transform="rotate(-0 944.12 849.321881)">−3</text>
</g>
</g>
<g id="ytick_17">
<g id="line2d_279">
<path d="M 951.1200 787.3200 L 1558.0800 787.3200" clip-path="url(#pf2f19adad1)" style="fill: none; stroke: #b0b0b0; stroke-width: 0.8; stroke-linecap: square"/>
</g>
<g id="line2d_280">
<g>
<path d="M 951.1200 787.3200 L 947.5200 787.3200" style="stroke: #000000; stroke-width: 0.8"/>
</g>
</g>
<g id="text_82">
<text style="font-size: 22px; font-family: 'DejaVu Sans', 'Liberation Sans', sans-serif; text-anchor: end" x="944.12" y="795.800681" transform="rotate(-0 944.12 795.800681)">−2</text>
</g>
</g>
<g id="ytick_18">
<g id="line2d_281">
<path d="M 951.1200 734.0400 L 1558.0800 734.0400" clip-path="url(#pf2f19adad1)" style="fill: none; stroke: #b0b0b0; stroke-width: 0.8; stroke-linecap: square"/>
</g>
<g id="line2d_282">
<g>
<path d="M 951.1200 734.0400 L 947.5200 734.0400" style="stroke: #000000; stroke-width: 0.8"/>
</g>
</g>
<g id="text_83">
<text style="font-size: 22px; font-family: 'DejaVu Sans', 'Liberation Sans', sans-serif; text-anchor: end" x="944.12" y="742.279481" transform="rotate(-0 944.12 742.279481)">−1</text>
</g>
</g>
<g id="ytick_19">
<g id="line2d_283">
<path d="M 951.1200 680.4000 L 1558.0800 680.4000" clip-path="url(#pf2f19adad1)" style="fill: none; stroke: #b0b0b0; stroke-width: 0.8; stroke-linecap: square"/>
</g>
<g id="line2d_284">
<g>
<path d="M 951.1200 680.4000 L 947.5200 680.4000" style="stroke: #000000; stroke-width: 0.8"/>
</g>
</g>
<g id="text_84">
<text style="font-size: 22px; font-family: 'DejaVu Sans', 'Liberation Sans', sans-serif; text-anchor: end" x="944.12" y="688.758281" transform="rotate(-0 944.12 688.758281)">0</text>
</g>
</g>
<g id="text_85">
<text style="font-size: 22px; font-family: 'DejaVu Sans', 'Liberation Sans', sans-serif; text-anchor: middle" x="903.111875" y="854.64" transform="rotate(-90 903.111875 854.64)">interconnexion export [TWh]</text>
</g>
</g>
<g id="line2d_285">
<path d="M 978.709091 680.791934 L 987.918367 682.628692 L 995.265306 684.220549 L 1000.163265 685.445054 L 1007.510204 686.914461 L 1014.857143 688.751219 L 1024.653061 690.343076 L 1032 691.20023 L 1038.734694 692.057384 L 1047.918367 694.261493 L 1055.265306 695.7309 L 1062.612245 697.077856 L 1068.734694 698.05746 L 1074.857143 700.38402 L 1078.530612 701.363625 L 1085.877551 704.79224 L 1093.22449 706.873899 L 1098.122449 707.608602 L 1104.244898 709.078009 L 1110.367347 710.547415 L 1115.265306 711.771921 L 1120.163265 713.363778 L 1126.285714 715.445437 L 1134.857143 718.506701 L 1143.428571 720.955712 L 1150.77551 722.79247 L 1158.122449 725.486382 L 1164.244898 726.465986 L 1171.591837 727.935392 L 1177.714286 729.282348 L 1182.612245 729.894601 L 1188.734694 731.486458 L 1193.632653 732.833414 L 1198.530612 734.18037 L 1204.653061 735.649777 L 1210.77551 736.751832 L 1216.897959 737.241634 L 1223.020408 737.853886 L 1229.142857 738.466139 L 1235.265306 739.445743 L 1241.387755 740.547798 L 1246.285714 741.282502 L 1251.795918 741.747262 L 1257.918367 742.971768 L 1264.040816 744.196273 L 1270.163265 745.420779 L 1277.510204 747.257537 L 1284.857143 748.604493 L 1290.979592 749.951449 L 1297.102041 751.175954 L 1302 752.155558 L 1306.897959 753.012712 L 1313.020408 754.359668 L 1319.142857 755.951525 L 1325.265306 757.420932 L 1331.387755 758.890338 L 1338.734694 760.359745 L 1346.081633 761.829151 L 1352.204082 763.053657 L 1357.102041 764.155712 L 1362 765.380217 L 1366.897959 766.482272 L 1373.020408 768.074129 L 1380.367347 769.543535 L 1385.265306 770.64559 L 1391.387755 771.625195 L 1397.510204 772.482348 L 1404.857143 774.074205 L 1412.204082 776.155865 L 1415.877551 776.645667 L 1422 778.115073 L 1426.897959 778.727326 L 1431.795918 779.58448 L 1435.469388 780.074282 L 1440.367347 781.053886 L 1444.040816 782.033491 L 1448.938776 783.257996 L 1452.612245 784.972304 L 1457.510204 787.053963 L 1462.408163 788.768271 L 1464.857143 789.380523 L 1469.755102 790.115227 L 1474.653061 791.217281 L 1479.55102 791.951985 L 1484.44898 793.17649 L 1489.346939 794.033644 L 1494.244898 795.258149 L 1500.367347 796.360204 L 1505.265306 797.58471 L 1510.163265 798.686765 L 1515.061224 799.666369 L 1518.734694 800.401072 L 1523.632653 800.890874 L 1530.490909 801.625578" clip-path="url(#pf2f19adad1)" style="fill: none; stroke: #33c433; stroke-linecap: square"/>
</g>
<g id="line2d_286">
<path d="M 978.709091 680.791934 L 987.918367 681.404186 L 995.265306 682.383791 L 1002.612245 682.873593 L 1009.959184 683.118494 L 1017.306122 683.853197 L 1024.653061 684.5879 L 1032 685.200153 L 1038.734694 686.914461 L 1045.469388 687.894065 L 1051.591837 688.873669 L 1057.714286 689.975724 L 1065.061224 691.567581 L 1069.959184 692.179834 L 1076.081633 693.40434 L 1082.816327 695.485999 L 1089.55102 696.465603 L 1099.346939 698.302361 L 1106.693878 699.281966 L 1114.040816 700.26157 L 1120.163265 700.873823 L 1127.510204 701.975877 L 1134.857143 702.710581 L 1140.367347 703.322833 L 1145.877551 703.690185 L 1153.22449 704.669789 L 1158.122449 705.159592 L 1163.020408 706.016745 L 1169.142857 706.384097 L 1175.265306 706.628998 L 1180.163265 707.1188 L 1186.285714 707.486152 L 1192.408163 708.710657 L 1198.530612 709.567811 L 1203.428571 710.302514 L 1209.55102 711.037218 L 1216.897959 711.771921 L 1223.020408 712.384174 L 1229.142857 713.363778 L 1235.265306 714.220932 L 1241.387755 715.445437 L 1248.734694 716.425041 L 1254.244898 717.869407 L 1260.367347 718.971461 L 1266.489796 720.195967 L 1272.612245 721.298022 L 1277.510204 722.277626 L 1282.408163 723.13478 L 1288.530612 724.359285 L 1297.102041 725.951142 L 1305.673469 727.542999 L 1313.020408 728.889955 L 1319.142857 730.236911 L 1327.714286 731.828768 L 1331.387755 732.808373 L 1338.734694 734.277779 L 1347.306122 735.992087 L 1352.204082 737.216592 L 1358.326531 738.441098 L 1362 739.665603 L 1366.897959 741.012559 L 1373.020408 742.849317 L 1379.142857 744.196273 L 1382.816327 745.298328 L 1386.489796 746.155482 L 1393.836735 747.99224 L 1398.734694 748.971844 L 1403.632653 749.951449 L 1410.979592 750.808602 L 1414.653061 751.543306 L 1419.55102 752.155558 L 1424.44898 752.890262 L 1431.795918 753.869866 L 1437.918367 754.84947 L 1444.040816 756.073976 L 1448.938776 757.298481 L 1453.836735 758.400536 L 1459.959184 759.992393 L 1463.632653 761.216899 L 1467.306122 762.196503 L 1472.204082 763.298558 L 1477.102041 764.645514 L 1482 765.747569 L 1488.122449 766.604722 L 1491.795918 767.584327 L 1497.918367 769.053733 L 1502.816327 770.64559 L 1506.489796 771.870096 L 1510.163265 772.8497 L 1515.061224 774.808909 L 1518.734694 776.033414 L 1521.795918 777.013019 L 1523.632653 777.25792 L 1527.306122 778.359974 L 1530.490909 779.339579" clip-path="url(#pf2f19adad1)" style="fill: none; stroke: #28a228; stroke-linecap: square"/>
</g>
<g id="line2d_287">
<path d="M 978.709091 680.791934 L 984.244898 682.996043 L 990.367347 685.445054 L 998.326531 687.894065 L 1006.285714 690.343076 L 1011.183673 691.934933 L 1016.693878 693.771691 L 1022.204082 695.241098 L 1027.102041 697.077856 L 1030.77551 698.302361 L 1038.122449 701.975877 L 1041.795918 703.445284 L 1047.918367 706.506548 L 1051.591837 707.486152 L 1056.489796 709.567811 L 1061.387755 711.52702 L 1066.285714 713.85358 L 1068.734694 714.465833 L 1073.632653 716.302591 L 1077.306122 718.2618 L 1080.979592 720.098558 L 1084.653061 721.812865 L 1089.55102 724.384327 L 1094.44898 726.343535 L 1098.122449 728.302744 L 1101.795918 730.139502 L 1106.693878 732.343612 L 1110.367347 734.425271 L 1113.428571 735.772227 L 1117.714286 736.874282 L 1122.612245 738.71104 L 1126.285714 740.057996 L 1129.959184 741.527403 L 1134.857143 743.24171 L 1137.306122 743.853963 L 1140.979592 745.44582 L 1144.653061 747.037677 L 1149.55102 748.507084 L 1155.673469 750.343842 L 1161.183673 750.956094 L 1166.693878 752.547951 L 1169.142857 753.037754 L 1172.816327 754.017358 L 1176.489796 755.241863 L 1180.163265 755.609215 L 1185.061224 756.83372 L 1188.734694 757.323523 L 1192.408163 757.690874 L 1197.306122 758.548028 L 1200.979592 758.792929 L 1204.653061 759.650083 L 1208.326531 760.507237 L 1214.44898 761.119489 L 1220.571429 761.976643 L 1226.693878 762.588896 L 1232.816327 763.5685 L 1238.938776 764.670555 L 1245.061224 765.405258 L 1253.020408 766.359821 L 1265.265306 768.31903 L 1277.510204 770.64559 L 1286.081633 772.114997 L 1292.204082 773.461953 L 1297.102041 774.319107 L 1304.44898 776.033414 L 1309.346939 776.890568 L 1314.244898 777.870172 L 1320.367347 778.727326 L 1325.265306 779.462029 L 1328.938776 779.829381 L 1335.061224 780.931436 L 1339.959184 781.543689 L 1344.857143 782.278392 L 1349.755102 782.768194 L 1355.877551 783.625348 L 1362 784.237601 L 1366.897959 784.727403 L 1374.244898 785.339655 L 1380.367347 785.829458 L 1386.489796 786.44171 L 1392.612245 787.053963 L 1397.510204 787.666216 L 1402.408163 788.400919 L 1407.306122 789.258073 L 1413.428571 790.115227 L 1419.55102 791.217281 L 1425.673469 792.319336 L 1430.571429 793.298941 L 1434.244898 794.278545 L 1436.693878 795.135699 L 1439.142857 796.115303 L 1441.591837 796.727556 L 1446.489796 797.339809 L 1451.387755 798.196962 L 1456.285714 798.931666 L 1461.183673 799.666369 L 1466.081633 800.523523 L 1469.755102 801.135775 L 1473.428571 802.11538 L 1477.102041 802.850083 L 1480.77551 804.197039 L 1485.673469 805.788896 L 1489.346939 807.380753 L 1493.020408 808.605258 L 1497.918367 810.686918 L 1501.591837 812.278775 L 1505.265306 814.115533 L 1508.938776 815.095137 L 1512.612245 816.564544 L 1516.285714 817.9115 L 1519.959184 818.768653 L 1523.632653 819.503357 L 1527.306122 820.360511 L 1530.490909 820.727862" clip-path="url(#pf2f19adad1)" style="fill: none; stroke: #208020; stroke-linecap: square"/>
</g>
<g id="line2d_288">
<path d="M 978.709091 680.791934 L 984.244898 682.996043 L 990.367347 685.077703 L 998.326531 687.281812 L 1006.285714 689.730823 L 1013.632653 691.20023 L 1020.979592 692.179834 L 1025.877551 693.159438 L 1030.77551 694.873746 L 1035.673469 696.098251 L 1040.571429 696.710504 L 1046.693878 698.179911 L 1052.816327 699.281966 L 1058.938776 701.118724 L 1065.061224 702.955482 L 1069.959184 703.935086 L 1073.632653 705.037141 L 1080.979592 707.853504 L 1088.326531 710.302514 L 1093.22449 712.016822 L 1099.346939 713.241327 L 1104.244898 714.465833 L 1109.142857 715.935239 L 1114.040816 717.282195 L 1118.938776 718.139349 L 1126.285714 720.221008 L 1134.857143 722.302668 L 1143.428571 724.016975 L 1149.55102 725.363931 L 1153.22449 725.853733 L 1160.571429 727.690491 L 1166.693878 729.282348 L 1170.367347 729.894601 L 1174.040816 730.996656 L 1180.163265 731.731359 L 1186.285714 732.588513 L 1191.183673 733.568117 L 1194.857143 734.302821 L 1198.530612 734.792623 L 1202.204082 735.404876 L 1205.877551 736.874282 L 1210.77551 738.955941 L 1218.122449 741.037601 L 1223.020408 741.894754 L 1229.142857 743.364161 L 1232.816327 744.221315 L 1238.938776 746.058073 L 1246.285714 748.139732 L 1253.020408 750.19635 L 1259.142857 751.665756 L 1264.040816 752.52291 L 1268.938776 753.992317 L 1275.061224 755.584174 L 1281.183673 757.176031 L 1287.306122 758.645437 L 1292.204082 759.625041 L 1297.102041 761.216899 L 1303.22449 763.053657 L 1309.346939 764.767964 L 1314.244898 766.237371 L 1319.142857 767.094525 L 1325.265306 769.298634 L 1330.163265 770.52314 L 1335.061224 771.380294 L 1339.959184 772.72725 L 1346.081633 774.196656 L 1352.204082 775.788513 L 1357.102041 777.38037 L 1362 779.094678 L 1366.897959 780.686535 L 1371.795918 782.033491 L 1376.693878 783.870249 L 1381.591837 785.584556 L 1386.489796 787.053963 L 1391.387755 788.400919 L 1396.285714 789.502974 L 1399.959184 790.482578 L 1404.857143 791.707084 L 1410.979592 793.05404 L 1417.102041 794.645897 L 1422 795.992853 L 1425.673469 796.850006 L 1429.346939 797.829611 L 1433.020408 798.564314 L 1436.693878 799.176567 L 1440.367347 800.645973 L 1444.040816 802.11538 L 1446.489796 803.339885 L 1450.163265 804.564391 L 1453.836735 805.788896 L 1458.734694 807.748105 L 1461.183673 809.217511 L 1464.857143 811.666522 L 1468.530612 813.38083 L 1472.204082 815.340038 L 1474.653061 816.809445 L 1478.326531 819.013555 L 1480.77551 820.727862 L 1484.44898 822.687071 L 1486.897959 823.911576 L 1490.571429 825.993235 L 1494.244898 827.829994 L 1497.918367 829.911653 L 1501.591837 832.115763 L 1505.265306 834.319872 L 1508.938776 836.646433 L 1512.612245 839.462795 L 1516.285714 842.279158 L 1519.959184 844.728168 L 1523.632653 847.42208 L 1526.081633 849.258839 L 1530.490909 851.462948" clip-path="url(#pf2f19adad1)" style="fill: none; stroke: #145214; stroke-linecap: square"/>
</g>
<g id="line2d_289">
<path d="M 978.709091 680.791934 L 984.244898 685.445054 L 990.367347 690.343076 L 996.489796 695.241098 L 1001.387755 698.914614 L 1006.285714 702.58813 L 1012.408163 706.261646 L 1018.530612 711.159668 L 1023.428571 714.833184 L 1029.55102 718.2618 L 1035.673469 721.935316 L 1039.346939 724.384327 L 1044.244898 728.057843 L 1049.142857 730.751755 L 1055.265306 735.037524 L 1061.387755 738.71104 L 1067.510204 742.629458 L 1072.408163 745.200919 L 1078.530612 749.486688 L 1084.653061 753.160204 L 1089.55102 755.486765 L 1094.44898 757.690874 L 1099.346939 760.139885 L 1105.469388 762.833797 L 1110.367347 765.405258 L 1115.265306 768.344071 L 1120.163265 770.793082 L 1125.061224 772.140038 L 1129.959184 773.609445 L 1134.857143 775.078851 L 1139.755102 776.670708 L 1143.428571 778.262565 L 1148.326531 780.344225 L 1153.22449 781.936082 L 1158.122449 783.650389 L 1163.020408 785.487147 L 1167.918367 787.079004 L 1172.816327 788.670862 L 1177.714286 790.50762 L 1182.612245 792.344378 L 1187.510204 794.426037 L 1192.408163 796.507696 L 1197.306122 798.099553 L 1202.204082 800.181213 L 1207.102041 801.528168 L 1212 803.609828 L 1218.122449 805.813937 L 1219.77551 806.4 L 1226.663265 809.843878 L 1233.55102 812.828571 L 1241.357143 816.502041 L 1248.704082 819.716327 L 1253.755102 821.553061 L 1258.806122 824.308163 L 1264.316327 826.604082 L 1267.071429 827.292857 L 1272.581633 829.129592 L 1277.173469 831.42551 L 1284.061224 834.410204 L 1288.653061 836.476531 L 1295.540816 840.379592 L 1300.132653 842.905102 L 1304.72449 845.20102 L 1309.316327 847.726531 L 1314 849.792857 L 1319.142857 852.073593 L 1324.040816 854.155252 L 1327.714286 855.99201 L 1332.612245 858.808373 L 1337.510204 861.502285 L 1342.408163 863.706394 L 1346.081633 865.420702 L 1349.755102 867.379911 L 1353.428571 869.216669 L 1357.102041 870.686075 L 1360.77551 872.277932 L 1365.673469 875.216745 L 1369.346939 876.808602 L 1373.020408 878.645361 L 1375.469388 879.869866 L 1379.142857 881.339272 L 1384.040816 883.176031 L 1387.714286 885.012789 L 1391.387755 886.604646 L 1393.836735 887.4618 L 1397.510204 889.053657 L 1401.183673 890.033261 L 1404.857143 891.870019 L 1410.979592 894.931283 L 1413.428571 897.012942 L 1417.102041 899.706854 L 1420.77551 902.278315 L 1424.44898 905.339579 L 1428.122449 908.155941 L 1433.020408 911.584556 L 1437.918367 915.013172 L 1442.816327 918.931589 L 1446.489796 921.625501 L 1450.163265 924.074512 L 1453.836735 926.645973 L 1457.510204 929.462336 L 1461.183673 932.033797 L 1464.857143 934.85016 L 1468.530612 936.686918 L 1470.979592 937.544071 L 1474.653061 940.115533 L 1479.55102 943.421698 L 1483.22449 945.625807 L 1485.673469 947.095214 L 1489.346939 950.156477 L 1494.244898 954.074895 L 1497.918367 956.891257 L 1501.591837 959.70762 L 1504.040816 960.932125 L 1507.714286 962.768883 L 1511.387755 964.850542 L 1515.061224 966.932202 L 1518.734694 969.136311 L 1522.408163 970.97307 L 1526.081633 973.054729 L 1530.490909 975.013937" clip-path="url(#pf2f19adad1)" style="fill: none; stroke: #7c83de; stroke-linecap: square"/>
</g>
<g id="line2d_290">
<path d="M 978.709091 680.791934 L 984.244898 684.832802 L 990.367347 688.873669 L 996.489796 693.036988 L 1002.612245 696.832955 L 1008.734694 701.118724 L 1014.857143 705.037141 L 1020.979592 709.32291 L 1027.102041 713.608679 L 1033.22449 717.894448 L 1038.122449 721.567964 L 1043.020408 726.833338 L 1047.918367 730.751755 L 1052.816327 734.670172 L 1057.714286 738.466139 L 1062.612245 742.384556 L 1066.285714 745.200919 L 1068.734694 745.813172 L 1072.408163 748.874435 L 1077.306122 752.547951 L 1082.204082 756.466369 L 1085.877551 758.548028 L 1089.55102 760.139885 L 1094.44898 763.813401 L 1099.346939 766.874665 L 1103.020408 768.956324 L 1106.693878 771.527786 L 1110.367347 773.854346 L 1115.265306 776.670708 L 1120.163265 778.874818 L 1125.061224 781.323829 L 1128.734694 783.77284 L 1133.632653 786.466752 L 1138.530612 789.283114 L 1143.428571 791.364773 L 1148.326531 793.201532 L 1152 794.426037 L 1155.673469 796.875048 L 1160.571429 799.936311 L 1166.693878 803.364927 L 1171.591837 806.671091 L 1177.714286 809.732355 L 1182.612245 812.548717 L 1187.510204 815.48753 L 1192.408163 818.303893 L 1197.306122 820.752904 L 1202.204082 823.201914 L 1206 823.84898 L 1208.755102 825.226531 L 1211.969388 826.144898 L 1215.642857 827.292857 L 1217.938776 828.440816 L 1221.612245 829.818367 L 1224.367347 831.195918 L 1226.663265 832.573469 L 1229.877551 833.4 L 1233.55102 834.502041 L 1238.142857 835.695918 L 1242.734694 837.027551 L 1247.326531 838.772449 L 1251.918367 840.379592 L 1254.214286 841.527551 L 1257.428571 843.364286 L 1261.102041 845.430612 L 1264.77551 847.496939 L 1267.989796 849.104082 L 1271.204082 850.252041 L 1274.877551 851.629592 L 1278.091837 852.318367 L 1281.765306 853.466327 L 1286.357143 854.292857 L 1288.653061 854.752041 L 1293.244898 856.359184 L 1297.836735 857.828571 L 1302.428571 859.435714 L 1307.020408 861.042857 L 1310.693878 862.512245 L 1314 863.935714 L 1315.469388 864.563548 L 1319.142857 865.788054 L 1322.816327 867.25746 L 1327.714286 868.481966 L 1331.387755 870.318724 L 1335.061224 871.420779 L 1339.959184 873.379987 L 1343.632653 875.339196 L 1347.306122 877.420855 L 1350.979592 879.502514 L 1354.653061 881.339272 L 1359.55102 884.155635 L 1363.22449 885.992393 L 1365.673469 887.339349 L 1369.346939 888.808756 L 1371.795918 890.278162 L 1375.469388 891.747569 L 1379.142857 892.11492 L 1384.040816 892.727173 L 1388.938776 893.339426 L 1391.387755 894.196579 L 1393.836735 895.543535 L 1397.510204 897.380294 L 1399.959184 898.8497 L 1401.183673 899.461953 L 1404.857143 901.543612 L 1408.530612 903.135469 L 1413.428571 905.58448 L 1417.102041 907.053886 L 1422 909.135546 L 1426.897959 911.339655 L 1430.571429 912.809062 L 1435.469388 914.64582 L 1440.367347 916.482578 L 1444.040816 918.074435 L 1447.714286 920.156094 L 1451.387755 922.360204 L 1455.061224 924.196962 L 1458.734694 926.278622 L 1462.408163 927.870479 L 1466.081633 929.952138 L 1469.755102 931.421544 L 1473.428571 933.258302 L 1477.102041 934.85016 L 1480.163265 936.074665 L 1483.22449 938.156324 L 1486.897959 940.605335 L 1491.795918 944.03395 L 1496.693878 946.850313 L 1500.367347 949.299324 L 1504.040816 951.748334 L 1507.714286 953.829994 L 1511.387755 955.911653 L 1515.061224 958.115763 L 1518.734694 960.197422 L 1522.408163 962.401532 L 1524.857143 963.993389 L 1527.306122 965.707696 L 1530.490909 967.299553" clip-path="url(#pf2f19adad1)" style="fill: none; stroke: #4a55d2; stroke-linecap: square"/>
</g>
<g id="line2d_291">
<path d="M 978.709091 680.791934 L 987.918367 687.281812 L 996.489796 692.179834 L 1003.836735 695.485999 L 1009.959184 698.547262 L 1014.857143 700.751372 L 1020.979592 703.567735 L 1027.102041 706.506548 L 1033.22449 708.710657 L 1036.897959 710.792317 L 1041.795918 712.629075 L 1045.469388 714.465833 L 1049.142857 716.05769 L 1055.265306 719.731206 L 1060.163265 722.79247 L 1066.285714 726.465986 L 1069.346939 726.833338 L 1073.632653 729.894601 L 1079.755102 733.200766 L 1083.428571 736.017128 L 1089.55102 739.323293 L 1093.22449 740.792699 L 1098.122449 743.853963 L 1103.632653 746.302974 L 1107.918367 749.119336 L 1113.428571 751.935699 L 1117.714286 755.854116 L 1122.612245 758.91538 L 1126.285714 761.364391 L 1131.183673 765.65016 L 1136.081633 769.323676 L 1139.755102 771.772687 L 1145.877551 774.83395 L 1149.55102 777.282961 L 1153.22449 779.731972 L 1156.897959 781.56873 L 1161.795918 784.874895 L 1166.693878 787.691257 L 1171.591837 791.364773 L 1175.265306 793.201532 L 1180.163265 795.650542 L 1186.285714 798.344454 L 1189.959184 801.160817 L 1193.632653 803.242476 L 1197.306122 805.079234 L 1202.204082 807.528245 L 1206 809.384694 L 1209.673469 811.45102 L 1212.887755 813.746939 L 1217.479592 816.180612 L 1222.989796 818.568367 L 1226.663265 821.323469 L 1229.877551 823.757143 L 1233.091837 826.604082 L 1235.846939 828.9 L 1238.602041 830.966327 L 1241.816327 832.114286 L 1245.94898 833.95102 L 1249.622449 836.476531 L 1253.755102 839.093878 L 1256.969388 840.838776 L 1261.102041 843.593878 L 1264.77551 845.660204 L 1267.530612 847.726531 L 1270.285714 850.252041 L 1273.5 853.466327 L 1276.714286 855.762245 L 1279.469388 858.287755 L 1283.602041 861.502041 L 1285.897959 862.879592 L 1288.653061 864.945918 L 1292.326531 867.471429 L 1295.081633 869.767347 L 1297.836735 872.063265 L 1300.591837 874.359184 L 1302.887755 876.655102 L 1304.72449 878.4 L 1306.897959 880.72702 L 1310.571429 883.543382 L 1315.469388 887.58425 L 1320.367347 891.747569 L 1324.040816 894.808832 L 1327.714286 897.625195 L 1331.387755 900.686458 L 1335.061224 903.747722 L 1338.734694 906.686535 L 1341.795918 909.380447 L 1344.857143 910.972304 L 1347.306122 912.564161 L 1349.755102 914.64582 L 1352.204082 916.482578 L 1354.653061 919.17649 L 1357.102041 921.625501 L 1359.55102 923.462259 L 1362 925.299017 L 1364.44898 926.890874 L 1366.897959 927.870479 L 1369.346939 929.584786 L 1373.020408 932.156248 L 1376.693878 934.237907 L 1380.367347 935.829764 L 1384.040816 937.911423 L 1387.714286 938.768577 L 1391.387755 939.993082 L 1395.061224 940.850236 L 1399.346939 941.82984 L 1401.183673 943.054346 L 1404.857143 945.013555 L 1408.530612 946.482961 L 1412.204082 947.707466 L 1415.877551 949.299324 L 1419.55102 950.64628 L 1423.22449 952.238137 L 1426.897959 953.829994 L 1430.571429 955.421851 L 1434.244898 957.136158 L 1437.918367 958.728015 L 1441.591837 960.319872 L 1445.265306 962.03418 L 1448.938776 963.626037 L 1452.612245 964.850542 L 1456.285714 966.075048 L 1459.959184 967.544454 L 1463.632653 969.381213 L 1466.081633 970.728168 L 1468.530612 972.809828 L 1472.204082 975.871091 L 1475.877551 978.687454 L 1479.55102 981.136465 L 1483.22449 983.585475 L 1486.897959 986.279387 L 1490.571429 988.973299 L 1494.244898 991.42231 L 1497.918367 994.238673 L 1501.591837 996.687683 L 1505.265306 998.891793 L 1508.938776 1001.953057 L 1511.387755 1004.279617 L 1513.836735 1006.238826 L 1517.510204 1008.075584 L 1521.183673 1010.524595 L 1524.857143 1012.973606 L 1527.306122 1014.687913 L 1530.490909 1016.647122" clip-path="url(#pf2f19adad1)" style="fill: none; stroke: #2b36b4; stroke-linecap: square"/>
</g>
<g id="line2d_292">
<path d="M 978.709091 680.791934 L 984.244898 684.5879 L 990.367347 688.506318 L 996.489796 692.179834 L 1003.836735 697.077856 L 1009.959184 701.118724 L 1016.081633 705.282042 L 1020.979592 708.710657 L 1025.877551 711.52702 L 1030.77551 715.078086 L 1035.673469 718.506701 L 1040.571429 721.567964 L 1045.469388 724.629228 L 1049.755102 726.221085 L 1054.040816 729.52725 L 1057.714286 731.97626 L 1061.387755 734.425271 L 1065.061224 737.486535 L 1069.346939 739.323293 L 1073.632653 742.629458 L 1078.530612 745.44582 L 1083.428571 748.262183 L 1088.326531 751.935699 L 1093.22449 754.874512 L 1098.122449 758.303127 L 1103.020408 761.609292 L 1107.918367 765.037907 L 1112.816327 768.344071 L 1117.714286 771.527786 L 1122.612245 774.83395 L 1127.510204 777.650313 L 1132.408163 780.711576 L 1137.306122 784.262642 L 1142.204082 787.691257 L 1145.877551 789.895367 L 1149.55102 791.732125 L 1153.22449 793.813784 L 1158.122449 797.242399 L 1163.020408 800.181213 L 1167.918367 802.997575 L 1172.816327 806.30374 L 1177.714286 809.365003 L 1182.612245 812.793618 L 1186.285714 815.854882 L 1189.959184 818.303893 L 1193.632653 820.752904 L 1198.530612 824.181519 L 1202.204082 826.875431 L 1206 829.359184 L 1209.673469 831.42551 L 1212.887755 833.491837 L 1217.479592 835.65 L 1221.153061 838.083673 L 1225.285714 840.609184 L 1228.040816 841.986735 L 1231.714286 843.593878 L 1234.469388 845.660204 L 1237.22449 847.496939 L 1239.520408 849.333673 L 1242.27551 851.4 L 1245.94898 853.328571 L 1248.704082 855.073469 L 1252.377551 857.277551 L 1255.591837 858.287755 L 1258.806122 859.665306 L 1262.479592 861.731633 L 1266.612245 864.486735 L 1269.367347 865.634694 L 1272.581633 867.241837 L 1276.255102 869.537755 L 1279.469388 871.37449 L 1284.061224 873.211224 L 1288.653061 875.047959 L 1293.244898 877.114286 L 1296 878.4 L 1297.102041 879.869866 L 1300.77551 882.073976 L 1304.44898 884.400536 L 1308.122449 886.237294 L 1311.795918 888.441404 L 1315.469388 890.645514 L 1319.142857 893.339426 L 1322.816327 895.788437 L 1326.489796 897.625195 L 1330.163265 899.706854 L 1333.836735 901.666063 L 1337.510204 903.747722 L 1341.183673 905.58448 L 1344.857143 907.543689 L 1348.530612 909.502897 L 1352.204082 911.584556 L 1355.877551 914.033567 L 1359.55102 917.094831 L 1362 919.17649 L 1365.673469 921.625501 L 1369.346939 923.829611 L 1372.408163 926.03372 L 1375.469388 926.645973 L 1379.142857 927.503127 L 1382.816327 928.727632 L 1386.489796 930.074588 L 1390.163265 932.156248 L 1393.836735 934.482808 L 1397.510204 936.686918 L 1401.183673 938.768577 L 1404.857143 940.972687 L 1408.530612 943.176796 L 1412.204082 945.625807 L 1415.877551 947.952368 L 1419.55102 950.156477 L 1423.22449 952.605488 L 1426.897959 955.054499 L 1430.571429 957.258609 L 1434.244898 959.952521 L 1437.918367 962.646433 L 1440.367347 964.483191 L 1444.040816 966.687301 L 1447.714286 969.136311 L 1451.387755 971.585322 L 1455.061224 974.034333 L 1458.734694 977.095597 L 1462.408163 979.789509 L 1466.081633 981.993618 L 1469.755102 984.809981 L 1473.428571 987.258992 L 1477.102041 989.952904 L 1480.77551 992.769266 L 1484.44898 995.463178 L 1488.122449 998.524442 L 1491.795918 1001.218354 L 1495.469388 1004.034716 L 1499.142857 1007.09598 L 1502.816327 1009.54499 L 1506.489796 1012.606254 L 1510.163265 1015.422616 L 1513.836735 1018.361429 L 1517.510204 1020.932891 L 1521.183673 1022.769649 L 1524.857143 1025.463561 L 1527.306122 1027.54522 L 1530.490909 1029.504429" clip-path="url(#pf2f19adad1)" style="fill: none; stroke: #202882; stroke-linecap: square"/>
</g>
<g id="line2d_293">
<path d="M 978.709091 680.791934 L 984.244898 684.832802 L 990.367347 689.118571 L 996.489796 694.016592 L 1001.387755 697.077856 L 1006.285714 700.751372 L 1012.408163 705.037141 L 1018.530612 709.32291 L 1023.428571 712.751525 L 1029.55102 717.282195 L 1035.673469 721.567964 L 1040.571429 725.241481 L 1045.469388 729.159898 L 1050.367347 732.833414 L 1055.265306 736.874282 L 1060.163265 740.302897 L 1065.061224 743.976414 L 1069.959184 747.894831 L 1074.857143 751.568347 L 1079.755102 755.486765 L 1083.428571 758.058226 L 1087.102041 760.752138 L 1090.77551 764.058302 L 1095.673469 767.486918 L 1099.346939 769.935929 L 1103.020408 772.384939 L 1106.693878 775.078851 L 1110.367347 778.140115 L 1112.816327 779.731972 L 1116.489796 781.323829 L 1120.163265 784.017741 L 1125.061224 787.079004 L 1128.734694 790.140268 L 1132.408163 793.446433 L 1136.081633 795.283191 L 1139.755102 798.344454 L 1142.204082 800.548564 L 1145.877551 802.385322 L 1150.77551 805.201685 L 1155.673469 807.038443 L 1160.571429 809.977256 L 1163.020408 811.201761 L 1167.918367 814.630377 L 1171.591837 817.69164 L 1176.489796 820.508003 L 1181.387755 822.834563 L 1185.061224 823.814167 L 1188.734694 825.650925 L 1193.632653 828.099936 L 1197.306122 830.793848 L 1200.979592 832.997958 L 1206 835.558163 L 1210.132653 838.542857 L 1211.969388 839.461224 L 1215.642857 841.986735 L 1218.857143 843.502041 L 1222.530612 845.889796 L 1226.204082 848.185714 L 1229.877551 850.711224 L 1233.55102 852.547959 L 1238.142857 855.532653 L 1240.438776 856.221429 L 1243.193878 857.828571 L 1245.94898 858.746939 L 1249.622449 860.583673 L 1252.377551 861.502041 L 1257.887755 864.027551 L 1263.397959 867.012245 L 1267.989796 869.308163 L 1273.5 871.604082 L 1279.469388 873.9 L 1284.061224 876.195918 L 1288.653061 878.032653 L 1290.030612 878.4 L 1293.428571 880.237218 L 1298.326531 883.298481 L 1302 885.135239 L 1305.673469 887.4618 L 1309.346939 889.665909 L 1313.020408 891.502668 L 1316.693878 893.951678 L 1320.367347 895.788437 L 1324.040816 897.257843 L 1327.714286 898.8497 L 1331.387755 900.441557 L 1335.061224 902.155865 L 1338.734694 903.992623 L 1342.408163 905.70693 L 1346.081633 907.666139 L 1349.755102 909.135546 L 1353.428571 909.992699 L 1358.326531 911.217205 L 1362.612245 912.564161 L 1365.673469 914.033567 L 1369.346939 916.237677 L 1373.020408 918.074435 L 1376.693878 919.543842 L 1380.367347 921.013248 L 1384.040816 922.605105 L 1387.714286 923.829611 L 1390.77551 925.299017 L 1393.836735 927.503127 L 1397.510204 929.952138 L 1401.183673 932.033797 L 1404.857143 934.237907 L 1409.142857 936.686918 L 1412.204082 939.135929 L 1415.877551 942.197192 L 1419.55102 945.013555 L 1423.22449 947.707466 L 1426.897959 950.401378 L 1430.571429 953.217741 L 1434.244898 955.911653 L 1437.918367 958.115763 L 1441.591837 960.197422 L 1445.265306 962.03418 L 1448.938776 964.23829 L 1452.612245 966.075048 L 1456.285714 968.89141 L 1459.959184 971.217971 L 1463.632653 973.054729 L 1467.306122 975.013937 L 1470.979592 977.095597 L 1474.653061 979.299706 L 1478.326531 981.136465 L 1482 983.218124 L 1485.673469 985.054882 L 1489.346939 987.136541 L 1493.020408 988.973299 L 1496.693878 990.565156 L 1500.367347 992.401914 L 1504.040816 994.238673 L 1507.714286 996.320332 L 1511.387755 998.524442 L 1513.836735 999.993848 L 1517.510204 1001.830606 L 1521.183673 1003.422463 L 1524.857143 1005.01432 L 1527.306122 1006.483727 L 1530.490909 1007.953133" clip-path="url(#pf2f19adad1)" style="fill: none; stroke: #131a52; stroke-linecap: square"/>
</g>
<g id="patch_15">
<path d="M 951.1200 1045.8000 L 951.1200 663.4800" style="fill: none; stroke: #000000; stroke-width: 0.8; stroke-linejoin: miter; stroke-linecap: square"/>
</g>
<g id="patch_16">
<path d="M 1558.0800 1045.8000 L 1558.0800 663.4800" style="fill: none; stroke: #000000; stroke-width: 0.8; stroke-linejoin: miter; stroke-linecap: square"/>
</g>
<g id="patch_17">
<path d="M 951.1200 1045.8000 L 1558.0800 1045.8000" style="fill: none; stroke: #000000; stroke-width: 0.8; stroke-linejoin: miter; stroke-linecap: square"/>
</g>
<g id="patch_18">
<path d="M 951.1200 663.4800 L 1558.0800 663.4800" style="fill: none; stroke: #000000; stroke-width: 0.8; stroke-linejoin: miter; stroke-linecap: square"/>
</g>
<g id="text_86">
<text style="font-size: 26.4px; font-family: 'DejaVu Sans', 'Liberation Sans', sans-serif; text-anchor: middle" x="1254.6" y="657.48" transform="rotate(-0 1254.6 657.48)">Interconnexion export in [ME] montenegro</text>
</g>
<g id="legend_3">
<g id="patch_19">
<path d="M 1573.48 971.706875 L 1699.87 971.706875 Q 1704.27 971.706875 1704.27 967.306875 L 1704.27 678.88 Q 1704.27 674.48 1699.87 674.48 L 1573.48 674.48 Q 1569.08 674.48 1569.08 678.88 L 1569.08 967.306875 Q 1569.08 971.706875 1573.48 971.706875 z" style="fill: #ffffff; opacity: 0.8; stroke: #cccccc; stroke-linejoin: miter"/>
</g>
<g id="line2d_294">
<path d="M 1578.0600 692.4600 L 1600.0200 692.4600 L 1621.9800 692.4600" style="fill: none; stroke: #33c433; stroke-linecap: square"/>
</g>
<g id="text_87">
<text style="font-size: 22px; font-family: 'DejaVu Sans', 'Liberation Sans', sans-serif; text-anchor: start" x="1639.48" y="699.996563" transform="rotate(-0 1639.48 699.996563)">2016</text>
</g>
<g id="line2d_295">
<path d="M 1578.0600 724.8600 L 1600.0200 724.8600 L 1621.9800 724.8600" style="fill: none; stroke: #28a228; stroke-linecap: square"/>
</g>
<g id="text_88">
<text style="font-size: 22px; font-family: 'DejaVu Sans', 'Liberation Sans', sans-serif; text-anchor: start" x="1639.48" y="732.288438" transform="rotate(-0 1639.48 732.288438)">2017</text>
</g>
<g id="line2d_296">
<path d="M 1578.0600 756.9000 L 1600.0200 756.9000 L 1621.9800 756.9000" style="fill: none; stroke: #208020; stroke-linecap: square"/>
</g>
<g id="text_89">
<text style="font-size: 22px; font-family: 'DejaVu Sans', 'Liberation Sans', sans-serif; text-anchor: start" x="1639.48" y="764.580313" transform="rotate(-0 1639.48 764.580313)">2018</text>
</g>
<g id="line2d_297">
<path d="M 1578.0600 789.3000 L 1600.0200 789.3000 L 1621.9800 789.3000" style="fill: none; stroke: #145214; stroke-linecap: square"/>
</g>
<g id="text_90">
<text style="font-size: 22px; font-family: 'DejaVu Sans', 'Liberation Sans', sans-serif; text-anchor: start" x="1639.48" y="796.872188" transform="rotate(-0 1639.48 796.872188)">2019</text>
</g>
<g id="line2d_298">
<path d="M 1578.0600 821.7000 L 1600.0200 821.7000 L 1621.9800 821.7000" style="fill: none; stroke: #7c83de; stroke-linecap: square"/>
</g>
<g id="text_91">
<text style="font-size: 22px; font-family: 'DejaVu Sans', 'Liberation Sans', sans-serif; text-anchor: start" x="1639.48" y="829.164063" transform="rotate(-0 1639.48 829.164063)">2020</text>
</g>
<g id="line2d_299">
<path d="M 1578.0600 854.1000 L 1600.0200 854.1000 L 1621.9800 854.1000" style="fill: none; stroke: #4a55d2; stroke-linecap: square"/>
</g>
<g id="text_92">
<text style="font-size: 22px; font-family: 'DejaVu Sans', 'Liberation Sans', sans-serif; text-anchor: start" x="1639.48" y="861.455938" transform="rotate(-0 1639.48 861.455938)">2021</text>
</g>
<g id="line2d_300">
<path d="M 1578.0600 886.1400 L 1600.0200 886.1400 L 1621.9800 886.1400" style="fill: none; stroke: #2b36b4; stroke-linecap: square"/>
</g>
<g id="text_93">
<text style="font-size: 22px; font-family: 'DejaVu Sans', 'Liberation Sans', sans-serif; text-anchor: start" x="1639.48" y="893.747813" transform="rotate(-0 1639.48 893.747813)">2022</text>
</g>
<g id="line2d_301">
<path d="M 1578.0600 918.5400 L 1600.0200 918.5400 L 1621.9800 918.5400" style="fill: none; stroke: #202882; stroke-linecap: square"/>
</g>
<g id="text_94">
<text style="font-size: 22px; font-family: 'DejaVu Sans', 'Liberation Sans', sans-serif; text-anchor: start" x="1639.48" y="926.039688" transform="rotate(-0 1639.48 926.039688)">2023</text>
</g>
<g id="line2d_302">
<path d="M 1578.0600 950.9400 L 1600.0200 950.9400 L 1621.9800 950.9400" style="fill: none; stroke: #131a52; stroke-linecap: square"/>
</g>
<g id="text_95">
<text style="font-size: 22px; font-family: 'DejaVu Sans', 'Liberation Sans', sans-serif; text-anchor: start" x="1639.48" y="958.331563" transform="rotate(-0 1639.48 958.331563)">2024</text>
</g>
</g>
</g>
<g id="text_96">
<text style="font-size: 26.4px; font-family: 'DejaVu Sans', 'Liberation Sans', sans-serif" transform="translate(479.832562 43.099875)">Cumulative balance in [ME] montenegro with all countries</text>
<text style="font-size: 26.4px; font-family: 'DejaVu Sans', 'Liberation Sans', sans-serif" transform="translate(688.932937 72.6621)">01-01-2016 to 01-01-2025</text>
</g>
<g id="text_97">
<text style="font-size: 22px; font-family: 'DejaVu Sans', 'Liberation Sans', sans-serif" transform="translate(1441.087188 23.916563)">Thomas Auriel - CC BY-SA</text>
<text style="font-size: 22px; font-family: 'DejaVu Sans', 'Liberation Sans', sans-serif" transform="translate(1405.873437 48.55175)">Source: ENTSO-E, IPCC 2014</text>
</g>
</g>
<defs>
<clipPath id="pe331e6150c">
<rect x="109.44" y="148.32" width="1448.64" height="382.32"/>
</clipPath>
<clipPath id="pa2340ae78a">
<rect x="109.44" y="663.48" width="606.96" height="382.32"/>
</clipPath>
<clipPath id="pf2f19adad1">
<rect x="951.12" y="663.48" width="606.96" height="382.32"/>
</clipPath>
</defs>
</svg>

</body>
</html>
